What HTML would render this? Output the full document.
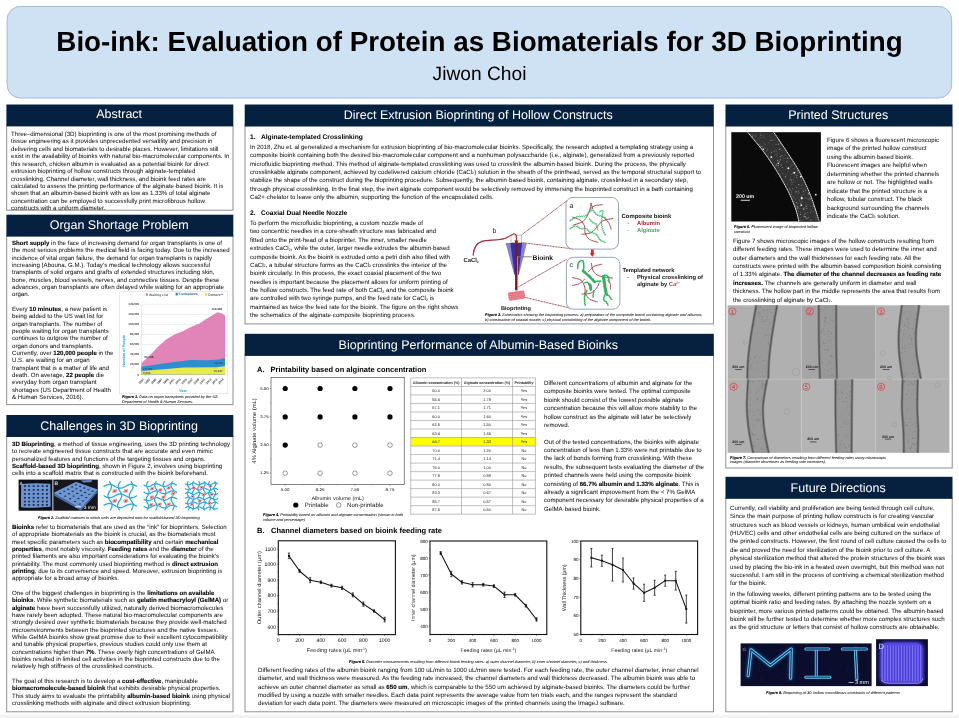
<!DOCTYPE html>
<html><head><meta charset="utf-8"><title>Bio-ink poster</title>
<style>
html,body{margin:0;padding:0;}
body{text-rendering:geometricPrecision;width:959px;height:718px;overflow:hidden;background:#fff;position:relative;font-family:"Liberation Sans",sans-serif;color:#000;}
.abs{position:absolute;}
.title{position:absolute;left:6.5px;top:5.5px;width:945px;height:92px;box-sizing:border-box;background:#cfe2f3;border:0.8px solid #8fa7c4;border-radius:15px;}
.hd{position:absolute;background:#06213f;color:#fff;text-align:center;font-size:12.5px;white-space:nowrap;}
.hd span{position:relative;}
.bx{position:absolute;background:#fff;box-sizing:border-box;border:0.8px solid #8a8a8a;border-top:none;overflow:hidden;}
.t{position:absolute;white-space:nowrap;font-size:6.12px;color:#141414;-webkit-text-stroke:0.03px #141414;}
.cap{position:absolute;white-space:nowrap;font-style:italic;color:#111;-webkit-text-stroke:0.04px #1a1a1a;}
.t,.cap,.hd,.abs{will-change:transform;}
b{font-weight:bold;color:#000;-webkit-text-stroke:0.1px #000;}
sub{font-size:60%;vertical-align:baseline;position:relative;top:0.15em;line-height:0;}
svg{position:absolute;overflow:visible;text-rendering:geometricPrecision;will-change:transform;}
</style></head><body>

<svg width="959" height="718" viewBox="0 0 959 718" style="left:0;top:0;"><rect x="0" y="713.2" width="959" height="5" fill="url(#bgr)"/><defs><linearGradient id="bgr" x1="0" y1="0" x2="0" y2="1"><stop offset="0" stop-color="#ffffff"/><stop offset="0.4" stop-color="#f6f6f6"/><stop offset="1" stop-color="#efefef"/></linearGradient></defs><rect x="7.1" y="6.4" width="944.6" height="91.6" rx="13.2" fill="#cfe2f3" stroke="#a3b8d6" stroke-width="1.0"/><rect x="6.7" y="125.4" width="226.30" height="84.80" fill="#fff" stroke="#8f8f8f" stroke-width="1.0"/><rect x="6.4" y="104.5" width="226.90" height="21.90" fill="#06213f"/><rect x="6.7" y="235.6" width="226.30" height="169.00" fill="#fff" stroke="#8f8f8f" stroke-width="1.0"/><rect x="6.4" y="214.7" width="226.90" height="21.90" fill="#06213f"/><rect x="6.7" y="436.0" width="226.30" height="275.80" fill="#fff" stroke="#8f8f8f" stroke-width="1.0"/><rect x="6.4" y="415.0" width="226.90" height="22.00" fill="#06213f"/><rect x="245.0" y="125.5" width="468.50" height="198.40" fill="#fff" stroke="#8f8f8f" stroke-width="1.0"/><rect x="244.7" y="104.5" width="469.10" height="22.00" fill="#06213f"/><rect x="245.0" y="354.9" width="468.50" height="356.90" fill="#fff" stroke="#8f8f8f" stroke-width="1.0"/><rect x="244.7" y="333.8" width="469.10" height="22.10" fill="#06213f"/><rect x="725.8" y="125.5" width="226.40" height="342.50" fill="#fff" stroke="#8f8f8f" stroke-width="1.0"/><rect x="725.5" y="104.5" width="227.00" height="22.00" fill="#06213f"/><rect x="725.8" y="497.8" width="226.40" height="214.00" fill="#fff" stroke="#8f8f8f" stroke-width="1.0"/><rect x="725.5" y="476.8" width="227.00" height="22.00" fill="#06213f"/></svg>
<div class="abs" style="left:-0.4px;width:959px;top:26.4px;text-align:center;font-weight:bold;font-size:27.8px;line-height:32px;white-space:nowrap;">Bio-ink: Evaluation of Protein as Biomaterials for 3D Bioprinting</div>
<div class="abs" style="left:0;width:959px;top:64px;text-align:center;font-size:19.2px;line-height:22px;white-space:nowrap;">Jiwon Choi</div>
<div class="hd" style="left:5.90px;top:104.40px;width:226.3px;height:21.9px;line-height:21.9px;background:none;">Abstract</div>
<div class="hd" style="left:5.90px;top:214.60px;width:226.3px;height:21.9px;line-height:21.9px;background:none;">Organ Shortage Problem</div>
<div class="hd" style="left:5.90px;top:414.90px;width:226.3px;height:22.0px;line-height:22.0px;background:none;">Challenges in 3D Bioprinting</div>
<div class="hd" style="left:244.20px;top:104.40px;width:468.5px;height:22.0px;line-height:22.0px;background:none;">Direct Extrusion Bioprinting of Hollow Constructs</div>
<div class="hd" style="left:244.20px;top:333.70px;width:468.5px;height:22.1px;line-height:22.1px;background:none;">Bioprinting Performance of Albumin-Based Bioinks</div>
<div class="hd" style="left:725.00px;top:104.40px;width:226.4px;height:22.0px;line-height:22.0px;background:none;">Printed Structures</div>
<div class="hd" style="left:725.00px;top:476.70px;width:226.4px;height:22.0px;line-height:22.0px;background:none;">Future Directions</div>
<div class="t" style="left:11.3px;top:130.64px;line-height:7.42px;font-size:6.12px;">Three–dimensional (3D) bioprinting is one of the most promising methods of<br>tissue engineering as it provides unprecedented versatility and precision in<br>delivering cells and biomaterials to desirable places. However, limitations still<br>exist in the availability of bioinks with natural bio-macromolecular components. In<br>this research, chicken albumin is evaluated as a potential bioink for direct<br>extrusion bioprinting of hollow constructs through alginate-templated<br>crosslinking. Channel diameter, wall thickness, and bioink feed rates are<br>calculated to assess the printing performance of the alginate-based bioink. It is<br>shown that an albumin-based bioink with as low as 1.33% of total alginate<br>concentration can be employed to successfully print microfibrous hollow<br>constructs with a uniform diameter.</div>
<div class="t" style="left:11.6px;top:239.59px;line-height:7.33px;font-size:6.12px;"><b>Short supply</b> in the face of increasing demand for organ transplants is one of<br>the most serious problems the medical field is facing today. Due to the increased<br>incidence of vital organ failure, the demand for organ transplants is rapidly<br>increasing (Abouna, G.M.). Today’s medical technology allows successful<br>transplants of solid organs and grafts of extended structures including skin,<br>bone, muscles, blood vessels, nerves, and connective tissues. Despite these<br>advances, organ transplants are often delayed while waiting for an appropriate<br>organ.<br><br>Every <b>10 minutes</b>, a new patient is<br>being added to the US wait list for<br>organ transplants. The number of<br>people waiting for organ transplants<br>continues to outgrow the number of<br>organ donors and transplants.<br>Currently, over <b>120,000 people</b> in the<br>U.S. are waiting for an organ<br>transplant that is a matter of life and<br>death. On average, <b>22 people</b> die<br>everyday from organ transplant<br>shortages (US Department of Health<br>&amp; Human Services, 2016).</div>
<div class="t" style="left:11.6px;top:440.70px;line-height:7.3px;font-size:6.12px;"><b>3D Bioprinting</b>, a method of tissue engineering, uses the 3D printing technology<br>to recreate engineered tissue constructs that are accurate and even mimic<br>personalized features and functions of the targeting tissues and organs.<br><b>Scaffold-based 3D bioprinting</b>, shown in Figure 2, involves using bioprinting<br>cells into a scaffold matrix that is constructed with the bioink beforehand.</div>
<div class="t" style="left:11.6px;top:523.69px;line-height:7.33px;font-size:6.12px;"><b>Bioinks</b> refer to biomaterials that are used as the “ink” for bioprinters. Selection<br>of appropriate biomaterials as the bioink is crucial, as the biomaterials must<br>meet specific parameters such as <b>biocompatibility</b> and certain <b>mechanical</b><br><b>properties</b>, most notably viscosity. <b>Feeding rates</b> and the <b>diameter</b> of the<br>printed filaments are also important considerations for evaluating the bioink’s<br>printability. The most commonly used bioprinting method is <b>direct extrusion</b><br><b>printing</b>, due to its convenience and speed. Moreover, extrusion bioprinting is<br>appropriate for a broad array of bioinks.<br><br>One of the biggest challenges in bioprinting is the <b>limitations on available</b><br><b>bioinks</b>. While synthetic biomaterials such as <b>gelatin methacryloyl (GelMA)</b> or<br><b>alginate</b> have been successfully utilized, naturally derived biomacromolecules<br>have rarely been adopted. These natural bio-macromolecular components are<br>strongly desired over synthetic biomaterials because they provide well-matched<br>microenvironments between the bioprinted structures and the native tissues.<br>While GelMA bioinks show great promise due to their excellent cytocompatibility<br>and tunable physical properties, previous studies could only use them at<br>concentrations higher than <b>7%</b>. These overly high concentrations of GelMA<br>bioinks resulted in limited cell activities in the bioprinted constructs due to the<br>relatively high stiffness of the crosslinked constructs.<br><br>The goal of this research is to develop a <b>cost-effective</b>, manipulable<br><b>biomacromolecule-based bioink</b> that exhibits desirable physical properties.<br>This study aims to evaluate the printability <b>albumin-based bioink</b> using physical<br>crosslinking methods with alginate and direct extrusion bioprinting.</div>
<div class="cap" style="left:38px;top:515px;font-size:3.9px;line-height:5px;"><b>Figure 2.</b> Scaffold matrices in which cells are deposited onto for scaffold-based 3D bioprinting</div>
<div class="t" style="left:250.3px;top:133.7px;line-height:8px;font-size:6.65px;font-weight:bold;color:#000;">1.<span style="display:inline-block;width:5.4px"></span>Alginate-templated Crosslinking</div>
<div class="t" style="left:250px;top:143.69px;line-height:8.32px;font-size:6.12px;">In 2018, Zhu et. al generalized a mechanism for extrusion bioprinting of bio-macromolecular bioinks. Specifically, the research adopted a templating strategy using a<br>composite bioink containing both the desired bio-macromolecular component and a nonhuman polysaccharide (i.e., alginate), generalized from a previously reported<br>microfluidic bioprinting method. This method of alginate-templated crosslinking was used to crosslink the albumin-based bioink. During the process, the physically<br>crosslinkable alginate component, achieved by codelivered calcium chloride (CaCl<sub>2</sub>) solution in the sheath of the printhead, served as the temporal structural support to<br>stabilize the shape of the construct during the bioprinting procedure. Subsequently, the albumin-based bioink, containing alginate, crosslinked in a secondary step,<br>through physical crosslinking. In the final step, the inert alginate component would be selectively removed by immersing the bioprinted construct in a bath containing<br>Ca2+-chelator to leave only the albumin, supporting the function of the encapsulated cells.</div>
<div class="t" style="left:250.3px;top:210.2px;line-height:8px;font-size:6.65px;font-weight:bold;color:#000;">2.<span style="display:inline-block;width:5.4px"></span>Coaxial Dual Needle Nozzle</div>
<div class="t" style="left:250px;top:219.56px;line-height:8.37px;font-size:6.12px;">To perform the microfluidic bioprinting, a custom nozzle made of<br>two concentric needles in a core-sheath structure was fabricated and<br>fitted onto the print-head of a bioprinter. The inner, smaller needle<br>extrudes CaCl<sub>2</sub>, while the outer, larger needle extrudes the albumin-based<br>composite bioink. As the bioink is extruded onto a petri dish also filled with<br>CaCl<sub>2</sub>, a tubular structure forms as the CaCl<sub>2</sub> crosslinks the interior of the<br>bioink circularly. In this process, the exact coaxial placement of the two<br>needles is important because the placement allows for uniform printing of<br>the hollow constructs. The feed rate of both CaCl<sub>2</sub> and the composite bioink<br>are controlled with two syringe pumps, and the feed rate for CaCl<sub>2</sub> is<br>maintained as twice the feed rate for the bioink. The figure on the right shows<br>the schematics of the alginate-composite bioprinting process.</div>
<div class="cap" style="left:484.5px;top:313.2px;font-size:3.9px;line-height:4.6px;"><b>Figure 3.</b> Schematics showing the bioprinting process: a) preparation of the composite bioink containing alginate and albumin;<br>b) construction of coaxial nozzle; c) physical crosslinking of the alginate component of the bioink.</div>
<div class="t" style="left:257px;top:365.1px;line-height:9px;font-size:7.5px;font-weight:bold;color:#000;">A.<span style="display:inline-block;width:6.0px"></span>Printability based on alginate concentration</div>
<div class="t" style="left:544px;top:379.76px;line-height:8.38px;font-size:6.12px;">Different concentrations of albumin and alginate for the<br>composite bioinks were tested. The optimal composite<br>bioink should consist of the lowest possible alginate<br>concentration because this will allow more stability to the<br>hollow construct as the alginate will later be selectively<br>removed.<br><br>Out of the tested concentrations, the bioinks with alginate<br>concentration of less than 1.33% were not printable due to<br>the lack of bonds forming from crosslinking. With these<br>results, the subsequent tests evaluating the diameter of the<br>printed channels were held using the composite bioink<br>consisting of <b>66.7% albumin and 1.33% alginate</b>. This is<br>already a significant improvement from the &lt; 7% GelMA<br>component necessary for desirable physical properties of a<br>GelMA-based bioink.</div>
<div class="cap" style="left:262.7px;top:512.5px;font-size:3.9px;line-height:4.8px;"><b>Figure 4.</b> Printability based on albumin and alginate concentration (shown in both<br>volume and percentage)</div>
<div class="t" style="left:257px;top:526.3px;line-height:9px;font-size:7.5px;font-weight:bold;color:#000;">B.<span style="display:inline-block;width:6.6px"></span>Channel diameters based on bioink feeding rate</div>
<div class="cap" style="left:349.2px;top:659.5px;font-size:3.9px;line-height:4.6px;"><b>Figure 5.</b> Diameter measurements resulting from different bioink feeding rates: a) outer channel diameter; b) inner channel diameter; c) wall thickness.</div>
<div class="t" style="left:258.3px;top:667.18px;line-height:8.34px;font-size:6.15px;">Different feeding rates of the albumin bioink ranging from 100 uL/min to 1000 uL/min were tested. For each feeding rate, the outer channel diameter, inner channel<br>diameter, and wall thickness were measured. As the feeding rate increased, the channel diameters and wall thickness decreased. The albumin bioink was able to<br>achieve an outer channel diameter as small as <b>650 um</b>, which is comparable to the 550 um achieved by alginate-based bioinks. The diameters could be further<br>modified by using a nozzle with smaller needles. Each data point represents the average value from ten trials each, and the ranges represent the standard<br>deviation for each data point. The diameters were measured on microscopic images of the printed channels using the ImageJ software.</div>
<div class="t" style="left:826.8px;top:136.93px;line-height:8.44px;font-size:6.12px;">Figure 6 shows a fluorescent microscopic<br>image of the printed hollow construct<br>using the albumin-based bioink.<br>Fluorescent images are helpful when<br>determining whether the printed channels<br>are hollow or not. The highlighted walls<br>indicate that the printed structure is a<br>hollow, tubular construct. The black<br>background surrounding the channels<br>indicate the CaCl<sub>2</sub> solution.</div>
<div class="cap" style="left:734px;top:224.8px;font-size:3.9px;line-height:4.6px;"><b>Figure 6.</b> Fluorescent image of bioprinted hollow<br>construct</div>
<div class="t" style="left:732.5px;top:238.17px;line-height:8.36px;font-size:6.12px;">Figure 7 shows microscopic images of the hollow constructs resulting from<br>different feeding rates. These images were used to determine the inner and<br>outer diameters and the wall thicknesses for each feeding rate. All the<br>constructs were printed with the albumin-based composition bioink consisting<br>of 1.33% alginate. <b>The diameter of the channel decreases as feeding rate</b><br><b>increases.</b> The channels are generally uniform in diameter and wall<br>thickness. The hollow part in the middle represents the area that results from<br>the crosslinking of alginate by CaCl<sub>2</sub>.</div>
<div class="cap" style="left:729.8px;top:456.4px;font-size:3.9px;line-height:4.1px;"><b>Figure 7.</b> Comparison of diameters resulting from different feeding rates using microscopic<br>images (diameter decreases as feeding rate increases).</div>
<div class="t" style="left:729.5px;top:504.97px;line-height:8.36px;font-size:6.12px;">Currently, cell viability and proliferation are being tested through cell culture.<br>Since the main purpose of printing hollow constructs is for creating vascular<br>structures such as blood vessels or kidneys, human umbilical vein endothelial<br>(HUVEC) cells and other endothelial cells are being cultured on the surface of<br>the printed constructs. However, the first round of cell culture caused the cells to<br>die and proved the need for sterilization of the bioink prior to cell culture. A<br>physical sterilization method that altered the protein structures of the bioink was<br>used by placing the bio-ink in a heated oven overnight, but this method was not<br>successful. I am still in the process of contriving a chemical sterilization method<br>for the bioink.</div>
<div class="t" style="left:729.5px;top:591.47px;line-height:8.36px;font-size:6.12px;">In the following weeks, different printing patterns are to be tested using the<br>optimal bioink ratio and feeding rates. By attaching the nozzle system on a<br>bioprinter, more various printed patterns could be obtained. The albumin-based<br>bioink will be further tested to determine whether more complex structures such<br>as the grid structure or letters that consist of hollow constructs are obtainable.</div>
<div class="cap" style="left:766px;top:690.7px;font-size:3.9px;line-height:4.6px;"><b>Figure 8.</b> Bioprinting of 3D hollow microfibrous constructs of different patterns</div>
<div class="cap" style="left:121.8px;top:394.4px;font-size:3.88px;line-height:5.0px;"><b>Figure 1.</b> Data on organ transplants provided by the US<br>Department of Health &amp; Human Services.</div>
<svg width="959" height="718" viewBox="0 0 959 718" style="left:0;top:0;">
<rect x="119.6" y="291.7" width="107.8" height="102.0" fill="#fff" stroke="#dcdcdc" stroke-width="0.6"/>
<line x1="141.4" y1="374.60" x2="225.0" y2="374.60" stroke="#d4d4d4" stroke-width="0.4"/>
<text x="139.20000000000002" y="375.50" font-size="3.0" font-weight="bold" text-anchor="end" fill="#333" font-family="Liberation Sans, sans-serif">0</text>
<line x1="141.4" y1="364.56" x2="225.0" y2="364.56" stroke="#d4d4d4" stroke-width="0.4"/>
<text x="139.20000000000002" y="365.46" font-size="3.0" font-weight="bold" text-anchor="end" fill="#333" font-family="Liberation Sans, sans-serif">20,000</text>
<line x1="141.4" y1="354.51" x2="225.0" y2="354.51" stroke="#d4d4d4" stroke-width="0.4"/>
<text x="139.20000000000002" y="355.41" font-size="3.0" font-weight="bold" text-anchor="end" fill="#333" font-family="Liberation Sans, sans-serif">40,000</text>
<line x1="141.4" y1="344.47" x2="225.0" y2="344.47" stroke="#d4d4d4" stroke-width="0.4"/>
<text x="139.20000000000002" y="345.37" font-size="3.0" font-weight="bold" text-anchor="end" fill="#333" font-family="Liberation Sans, sans-serif">60,000</text>
<line x1="141.4" y1="334.43" x2="225.0" y2="334.43" stroke="#d4d4d4" stroke-width="0.4"/>
<text x="139.20000000000002" y="335.33" font-size="3.0" font-weight="bold" text-anchor="end" fill="#333" font-family="Liberation Sans, sans-serif">80,000</text>
<line x1="141.4" y1="324.39" x2="225.0" y2="324.39" stroke="#d4d4d4" stroke-width="0.4"/>
<text x="139.20000000000002" y="325.29" font-size="3.0" font-weight="bold" text-anchor="end" fill="#333" font-family="Liberation Sans, sans-serif">100,000</text>
<line x1="141.4" y1="314.34" x2="225.0" y2="314.34" stroke="#d4d4d4" stroke-width="0.4"/>
<text x="139.20000000000002" y="315.24" font-size="3.0" font-weight="bold" text-anchor="end" fill="#333" font-family="Liberation Sans, sans-serif">120,000</text>
<line x1="141.4" y1="304.30" x2="225.0" y2="304.30" stroke="#d4d4d4" stroke-width="0.4"/>
<text x="139.20000000000002" y="305.20" font-size="3.0" font-weight="bold" text-anchor="end" fill="#333" font-family="Liberation Sans, sans-serif">140,000</text>
<line x1="141.4" y1="304.3" x2="141.4" y2="374.6" stroke="#c8c8c8" stroke-width="0.4"/>
<path d="M141.4,374.6 L141.40,362.95 L149.34,356.02 L157.70,346.98 L166.06,339.45 L174.42,334.43 L182.61,331.16 L190.89,326.90 L199.08,323.63 L205.77,319.36 L212.46,315.35 L217.48,312.33 L220.82,313.09 L225.00,315.60 L225.0,374.6 Z" fill="#e184b7"/>
<path d="M141.4,374.6 L141.40,366.69 L158.12,364.31 L174.84,362.05 L190.72,360.04 L208.28,360.14 L219.15,359.54 L225.00,357.78 L225.0,374.6 Z" fill="#2c8fd1"/>
<path d="M141.4,374.6 L141.40,371.11 L166.48,369.08 L183.20,367.57 L216.64,367.32 L225.00,366.21 L225.0,374.6 Z" fill="#e6e94f"/>
<text x="144.2" y="357.6" font-size="3.0" font-weight="bold" fill="#333" font-family="Liberation Sans, sans-serif">23,198</text>
<text x="143" y="369.6" font-size="3.0" font-weight="bold" fill="#1d4f80" font-family="Liberation Sans, sans-serif">15,756</text>
<text x="143" y="373.8" font-size="3.0" font-weight="bold" fill="#555" font-family="Liberation Sans, sans-serif">6,953</text>
<text x="211.6" y="309.9" font-size="3.0" font-weight="bold" fill="#333" font-family="Liberation Sans, sans-serif">119,362</text>
<text x="214" y="364" font-size="3.0" font-weight="bold" fill="#1d4f80" font-family="Liberation Sans, sans-serif">29,532</text>
<text x="213.6" y="371.8" font-size="3.0" font-weight="bold" fill="#555" font-family="Liberation Sans, sans-serif">15,947</text>
<rect x="145.7" y="293.1" width="2.2" height="2.8" fill="#e184b7"/>
<text x="149.1" y="295.7" font-size="3.4" font-weight="bold" fill="#666" font-family="Liberation Sans, sans-serif">Waiting List</text>
<rect x="175.6" y="292.7" width="2.2" height="2.8" fill="#2c8fd1"/>
<text x="178.6" y="295.3" font-size="3.4" font-weight="bold" fill="#2a6aa0" font-family="Liberation Sans, sans-serif">Transplants</text>
<rect x="204.9" y="292.9" width="2.2" height="2.9" fill="#dfe645"/>
<text x="208.2" y="295.7" font-size="3.5" font-weight="bold" fill="#666" font-family="Liberation Sans, sans-serif">Donors**</text>
<text transform="translate(124.6,351) rotate(-90)" font-size="3.7" font-weight="bold" fill="#2c9ad6" text-anchor="middle" font-family="Liberation Sans, sans-serif">Number of People</text>
<text x="183" y="391.7" font-size="3.7" font-weight="bold" fill="#2c9ad6" text-anchor="middle" font-family="Liberation Sans, sans-serif">Year</text>
<text transform="translate(144.30,379.40000000000003) rotate(-48)" font-size="3.1" font-weight="bold" text-anchor="end" fill="#4a4a4a" font-family="Liberation Sans, sans-serif">1991</text>
<text transform="translate(150.42,379.40000000000003) rotate(-48)" font-size="3.1" font-weight="bold" text-anchor="end" fill="#4a4a4a" font-family="Liberation Sans, sans-serif">1993</text>
<text transform="translate(156.55,379.40000000000003) rotate(-48)" font-size="3.1" font-weight="bold" text-anchor="end" fill="#4a4a4a" font-family="Liberation Sans, sans-serif">1995</text>
<text transform="translate(162.67,379.40000000000003) rotate(-48)" font-size="3.1" font-weight="bold" text-anchor="end" fill="#4a4a4a" font-family="Liberation Sans, sans-serif">1997</text>
<text transform="translate(168.79,379.40000000000003) rotate(-48)" font-size="3.1" font-weight="bold" text-anchor="end" fill="#4a4a4a" font-family="Liberation Sans, sans-serif">1999</text>
<text transform="translate(174.92,379.40000000000003) rotate(-48)" font-size="3.1" font-weight="bold" text-anchor="end" fill="#4a4a4a" font-family="Liberation Sans, sans-serif">2001</text>
<text transform="translate(181.04,379.40000000000003) rotate(-48)" font-size="3.1" font-weight="bold" text-anchor="end" fill="#4a4a4a" font-family="Liberation Sans, sans-serif">2003</text>
<text transform="translate(187.16,379.40000000000003) rotate(-48)" font-size="3.1" font-weight="bold" text-anchor="end" fill="#4a4a4a" font-family="Liberation Sans, sans-serif">2005</text>
<text transform="translate(193.28,379.40000000000003) rotate(-48)" font-size="3.1" font-weight="bold" text-anchor="end" fill="#4a4a4a" font-family="Liberation Sans, sans-serif">2007</text>
<text transform="translate(199.41,379.40000000000003) rotate(-48)" font-size="3.1" font-weight="bold" text-anchor="end" fill="#4a4a4a" font-family="Liberation Sans, sans-serif">2009</text>
<text transform="translate(205.53,379.40000000000003) rotate(-48)" font-size="3.1" font-weight="bold" text-anchor="end" fill="#4a4a4a" font-family="Liberation Sans, sans-serif">2011</text>
<text transform="translate(211.65,379.40000000000003) rotate(-48)" font-size="3.1" font-weight="bold" text-anchor="end" fill="#4a4a4a" font-family="Liberation Sans, sans-serif">2013</text>
<text transform="translate(217.78,379.40000000000003) rotate(-48)" font-size="3.1" font-weight="bold" text-anchor="end" fill="#4a4a4a" font-family="Liberation Sans, sans-serif">2013</text>
<text transform="translate(223.90,379.40000000000003) rotate(-48)" font-size="3.1" font-weight="bold" text-anchor="end" fill="#4a4a4a" font-family="Liberation Sans, sans-serif">2014</text>
<rect x="271.0" y="377.4" width="133.2" height="107.2" fill="#fff" stroke="#222" stroke-width="0.55"/>
<line x1="269.7" y1="388.5" x2="271.0" y2="388.5" stroke="#222" stroke-width="0.4"/>
<text x="268.8" y="389.6" font-size="3.8" textLength="8.6" lengthAdjust="spacingAndGlyphs" text-anchor="end" fill="#000" font-family="Liberation Sans, sans-serif">5.00</text>
<line x1="269.7" y1="416.9" x2="271.0" y2="416.9" stroke="#222" stroke-width="0.4"/>
<text x="268.8" y="418.0" font-size="3.8" textLength="8.6" lengthAdjust="spacingAndGlyphs" text-anchor="end" fill="#000" font-family="Liberation Sans, sans-serif">3.75</text>
<line x1="269.7" y1="445.1" x2="271.0" y2="445.1" stroke="#222" stroke-width="0.4"/>
<text x="268.8" y="446.20000000000005" font-size="3.8" textLength="8.6" lengthAdjust="spacingAndGlyphs" text-anchor="end" fill="#000" font-family="Liberation Sans, sans-serif">2.50</text>
<line x1="269.7" y1="473.2" x2="271.0" y2="473.2" stroke="#222" stroke-width="0.4"/>
<text x="268.8" y="474.3" font-size="3.8" textLength="8.6" lengthAdjust="spacingAndGlyphs" text-anchor="end" fill="#000" font-family="Liberation Sans, sans-serif">1.25</text>
<line x1="270.2" y1="402.7" x2="271.0" y2="402.7" stroke="#222" stroke-width="0.35"/>
<line x1="270.2" y1="431.0" x2="271.0" y2="431.0" stroke="#222" stroke-width="0.35"/>
<line x1="270.2" y1="459.15" x2="271.0" y2="459.15" stroke="#222" stroke-width="0.35"/>
<line x1="285.2" y1="484.6" x2="285.2" y2="485.90000000000003" stroke="#222" stroke-width="0.4"/>
<text x="285.2" y="491.0" font-size="3.8" textLength="8.8" lengthAdjust="spacingAndGlyphs" text-anchor="middle" fill="#000" font-family="Liberation Sans, sans-serif">5.00</text>
<line x1="320.1" y1="484.6" x2="320.1" y2="485.90000000000003" stroke="#222" stroke-width="0.4"/>
<text x="320.1" y="491.0" font-size="3.8" textLength="8.8" lengthAdjust="spacingAndGlyphs" text-anchor="middle" fill="#000" font-family="Liberation Sans, sans-serif">6.25</text>
<line x1="354.9" y1="484.6" x2="354.9" y2="485.90000000000003" stroke="#222" stroke-width="0.4"/>
<text x="354.9" y="491.0" font-size="3.8" textLength="8.8" lengthAdjust="spacingAndGlyphs" text-anchor="middle" fill="#000" font-family="Liberation Sans, sans-serif">7.50</text>
<line x1="390.0" y1="484.6" x2="390.0" y2="485.90000000000003" stroke="#222" stroke-width="0.4"/>
<text x="390.0" y="491.0" font-size="3.8" textLength="8.8" lengthAdjust="spacingAndGlyphs" text-anchor="middle" fill="#000" font-family="Liberation Sans, sans-serif">8.75</text>
<line x1="302.65" y1="484.6" x2="302.65" y2="485.40000000000003" stroke="#222" stroke-width="0.35"/>
<line x1="337.5" y1="484.6" x2="337.5" y2="485.40000000000003" stroke="#222" stroke-width="0.35"/>
<line x1="372.45" y1="484.6" x2="372.45" y2="485.40000000000003" stroke="#222" stroke-width="0.35"/>
<circle cx="285.2" cy="388.5" r="2.6" fill="#000"/>
<circle cx="320.1" cy="388.5" r="2.6" fill="#000"/>
<circle cx="354.9" cy="388.5" r="2.6" fill="#000"/>
<circle cx="390.0" cy="388.5" r="2.6" fill="#000"/>
<circle cx="285.2" cy="416.9" r="2.6" fill="#000"/>
<circle cx="320.1" cy="416.9" r="2.6" fill="#000"/>
<circle cx="354.9" cy="416.9" r="2.6" fill="#000"/>
<circle cx="390.0" cy="416.9" r="2.6" fill="#000"/>
<circle cx="285.2" cy="445.1" r="2.6" fill="#000"/>
<circle cx="320.1" cy="445.1" r="2.3" fill="#fff" stroke="#333" stroke-width="0.5"/>
<circle cx="354.9" cy="445.1" r="2.3" fill="#fff" stroke="#333" stroke-width="0.5"/>
<circle cx="390.0" cy="445.1" r="2.3" fill="#fff" stroke="#333" stroke-width="0.5"/>
<circle cx="285.2" cy="473.2" r="2.3" fill="#fff" stroke="#333" stroke-width="0.5"/>
<circle cx="320.1" cy="473.2" r="2.3" fill="#fff" stroke="#333" stroke-width="0.5"/>
<circle cx="354.9" cy="473.2" r="2.3" fill="#fff" stroke="#333" stroke-width="0.5"/>
<circle cx="390.0" cy="473.2" r="2.3" fill="#fff" stroke="#333" stroke-width="0.5"/>
<text x="337.6" y="500.2" font-size="5.2" textLength="52.4" lengthAdjust="spacingAndGlyphs" text-anchor="middle" fill="#222" font-family="Liberation Sans, sans-serif">Albumin volume (mL)</text>
<text transform="translate(256.4,430.9) rotate(-90)" font-size="5.4" textLength="65.5" lengthAdjust="spacingAndGlyphs" text-anchor="middle" fill="#222" font-family="Liberation Sans, sans-serif">4% Alginate volume (mL)</text>
<circle cx="295.8" cy="505" r="2.6" fill="#000"/>
<text x="304.7" y="506.9" font-size="6.1" fill="#222" font-family="Liberation Sans, sans-serif">Printable</text>
<circle cx="338.7" cy="505" r="2.3" fill="#fff" stroke="#333" stroke-width="0.5"/>
<text x="347" y="506.9" font-size="6.1" fill="#222" font-family="Liberation Sans, sans-serif">Non-printable</text>
<rect x="410.7" y="377.9" width="124.7" height="136.3" fill="#fff"/>
<rect x="410.7" y="437.53" width="124.7" height="8.52" fill="#ffff00"/>
<line x1="410.7" y1="377.90" x2="535.4" y2="377.90" stroke="#8c8c8c" stroke-width="0.55"/>
<line x1="410.7" y1="386.42" x2="535.4" y2="386.42" stroke="#8c8c8c" stroke-width="0.55"/>
<line x1="410.7" y1="394.94" x2="535.4" y2="394.94" stroke="#8c8c8c" stroke-width="0.55"/>
<line x1="410.7" y1="403.46" x2="535.4" y2="403.46" stroke="#8c8c8c" stroke-width="0.55"/>
<line x1="410.7" y1="411.98" x2="535.4" y2="411.98" stroke="#8c8c8c" stroke-width="0.55"/>
<line x1="410.7" y1="420.49" x2="535.4" y2="420.49" stroke="#8c8c8c" stroke-width="0.55"/>
<line x1="410.7" y1="429.01" x2="535.4" y2="429.01" stroke="#8c8c8c" stroke-width="0.55"/>
<line x1="410.7" y1="437.53" x2="535.4" y2="437.53" stroke="#8c8c8c" stroke-width="0.55"/>
<line x1="410.7" y1="446.05" x2="535.4" y2="446.05" stroke="#8c8c8c" stroke-width="0.55"/>
<line x1="410.7" y1="454.57" x2="535.4" y2="454.57" stroke="#8c8c8c" stroke-width="0.55"/>
<line x1="410.7" y1="463.09" x2="535.4" y2="463.09" stroke="#8c8c8c" stroke-width="0.55"/>
<line x1="410.7" y1="471.61" x2="535.4" y2="471.61" stroke="#8c8c8c" stroke-width="0.55"/>
<line x1="410.7" y1="480.12" x2="535.4" y2="480.12" stroke="#8c8c8c" stroke-width="0.55"/>
<line x1="410.7" y1="488.64" x2="535.4" y2="488.64" stroke="#8c8c8c" stroke-width="0.55"/>
<line x1="410.7" y1="497.16" x2="535.4" y2="497.16" stroke="#8c8c8c" stroke-width="0.55"/>
<line x1="410.7" y1="505.68" x2="535.4" y2="505.68" stroke="#8c8c8c" stroke-width="0.55"/>
<line x1="410.7" y1="514.20" x2="535.4" y2="514.20" stroke="#8c8c8c" stroke-width="0.55"/>
<line x1="410.7" y1="377.9" x2="410.7" y2="514.2" stroke="#8c8c8c" stroke-width="0.55"/>
<line x1="461.5" y1="377.9" x2="461.5" y2="514.2" stroke="#8c8c8c" stroke-width="0.55"/>
<line x1="512.6" y1="377.9" x2="512.6" y2="514.2" stroke="#8c8c8c" stroke-width="0.55"/>
<line x1="535.4" y1="377.9" x2="535.4" y2="514.2" stroke="#8c8c8c" stroke-width="0.55"/>
<text x="436.10" y="383.51" font-size="3.68" font-weight="bold" text-anchor="middle" fill="#222" font-family="Liberation Sans, sans-serif">Albumin concentration (%)</text>
<text x="487.05" y="383.51" font-size="3.68" font-weight="bold" text-anchor="middle" fill="#222" font-family="Liberation Sans, sans-serif">Alginate concentration (%)</text>
<text x="524.00" y="383.51" font-size="3.68" font-weight="bold" text-anchor="middle" fill="#222" font-family="Liberation Sans, sans-serif">Printability</text>
<text x="436.10" y="392.03" font-size="3.9" font-weight="normal" text-anchor="middle" fill="#222" font-family="Liberation Sans, sans-serif">50.0</text>
<text x="487.05" y="392.03" font-size="3.9" font-weight="normal" text-anchor="middle" fill="#222" font-family="Liberation Sans, sans-serif">2.00</text>
<text x="524.00" y="392.03" font-size="3.9" font-weight="normal" text-anchor="middle" fill="#222" font-family="Liberation Sans, sans-serif">Yes</text>
<text x="436.10" y="400.55" font-size="3.9" font-weight="normal" text-anchor="middle" fill="#222" font-family="Liberation Sans, sans-serif">55.6</text>
<text x="487.05" y="400.55" font-size="3.9" font-weight="normal" text-anchor="middle" fill="#222" font-family="Liberation Sans, sans-serif">1.78</text>
<text x="524.00" y="400.55" font-size="3.9" font-weight="normal" text-anchor="middle" fill="#222" font-family="Liberation Sans, sans-serif">Yes</text>
<text x="436.10" y="409.07" font-size="3.9" font-weight="normal" text-anchor="middle" fill="#222" font-family="Liberation Sans, sans-serif">57.1</text>
<text x="487.05" y="409.07" font-size="3.9" font-weight="normal" text-anchor="middle" fill="#222" font-family="Liberation Sans, sans-serif">1.71</text>
<text x="524.00" y="409.07" font-size="3.9" font-weight="normal" text-anchor="middle" fill="#222" font-family="Liberation Sans, sans-serif">Yes</text>
<text x="436.10" y="417.58" font-size="3.9" font-weight="normal" text-anchor="middle" fill="#222" font-family="Liberation Sans, sans-serif">60.0</text>
<text x="487.05" y="417.58" font-size="3.9" font-weight="normal" text-anchor="middle" fill="#222" font-family="Liberation Sans, sans-serif">1.60</text>
<text x="524.00" y="417.58" font-size="3.9" font-weight="normal" text-anchor="middle" fill="#222" font-family="Liberation Sans, sans-serif">Yes</text>
<text x="436.10" y="426.10" font-size="3.9" font-weight="normal" text-anchor="middle" fill="#222" font-family="Liberation Sans, sans-serif">62.5</text>
<text x="487.05" y="426.10" font-size="3.9" font-weight="normal" text-anchor="middle" fill="#222" font-family="Liberation Sans, sans-serif">1.50</text>
<text x="524.00" y="426.10" font-size="3.9" font-weight="normal" text-anchor="middle" fill="#222" font-family="Liberation Sans, sans-serif">Yes</text>
<text x="436.10" y="434.62" font-size="3.9" font-weight="normal" text-anchor="middle" fill="#222" font-family="Liberation Sans, sans-serif">63.6</text>
<text x="487.05" y="434.62" font-size="3.9" font-weight="normal" text-anchor="middle" fill="#222" font-family="Liberation Sans, sans-serif">1.45</text>
<text x="524.00" y="434.62" font-size="3.9" font-weight="normal" text-anchor="middle" fill="#222" font-family="Liberation Sans, sans-serif">Yes</text>
<text x="436.10" y="443.14" font-size="3.9" font-weight="normal" text-anchor="middle" fill="#222" font-family="Liberation Sans, sans-serif">66.7</text>
<text x="487.05" y="443.14" font-size="3.9" font-weight="normal" text-anchor="middle" fill="#222" font-family="Liberation Sans, sans-serif">1.33</text>
<text x="524.00" y="443.14" font-size="3.9" font-weight="normal" text-anchor="middle" fill="#222" font-family="Liberation Sans, sans-serif">Yes</text>
<text x="436.10" y="451.66" font-size="3.9" font-weight="normal" text-anchor="middle" fill="#222" font-family="Liberation Sans, sans-serif">70.0</text>
<text x="487.05" y="451.66" font-size="3.9" font-weight="normal" text-anchor="middle" fill="#222" font-family="Liberation Sans, sans-serif">1.20</text>
<text x="524.00" y="451.66" font-size="3.9" font-weight="normal" text-anchor="middle" fill="#222" font-family="Liberation Sans, sans-serif">No</text>
<text x="436.10" y="460.18" font-size="3.9" font-weight="normal" text-anchor="middle" fill="#222" font-family="Liberation Sans, sans-serif">71.4</text>
<text x="487.05" y="460.18" font-size="3.9" font-weight="normal" text-anchor="middle" fill="#222" font-family="Liberation Sans, sans-serif">1.14</text>
<text x="524.00" y="460.18" font-size="3.9" font-weight="normal" text-anchor="middle" fill="#222" font-family="Liberation Sans, sans-serif">No</text>
<text x="436.10" y="468.70" font-size="3.9" font-weight="normal" text-anchor="middle" fill="#222" font-family="Liberation Sans, sans-serif">75.0</text>
<text x="487.05" y="468.70" font-size="3.9" font-weight="normal" text-anchor="middle" fill="#222" font-family="Liberation Sans, sans-serif">1.00</text>
<text x="524.00" y="468.70" font-size="3.9" font-weight="normal" text-anchor="middle" fill="#222" font-family="Liberation Sans, sans-serif">No</text>
<text x="436.10" y="477.22" font-size="3.9" font-weight="normal" text-anchor="middle" fill="#222" font-family="Liberation Sans, sans-serif">77.8</text>
<text x="487.05" y="477.22" font-size="3.9" font-weight="normal" text-anchor="middle" fill="#222" font-family="Liberation Sans, sans-serif">0.89</text>
<text x="524.00" y="477.22" font-size="3.9" font-weight="normal" text-anchor="middle" fill="#222" font-family="Liberation Sans, sans-serif">No</text>
<text x="436.10" y="485.73" font-size="3.9" font-weight="normal" text-anchor="middle" fill="#222" font-family="Liberation Sans, sans-serif">80.0</text>
<text x="487.05" y="485.73" font-size="3.9" font-weight="normal" text-anchor="middle" fill="#222" font-family="Liberation Sans, sans-serif">0.80</text>
<text x="524.00" y="485.73" font-size="3.9" font-weight="normal" text-anchor="middle" fill="#222" font-family="Liberation Sans, sans-serif">No</text>
<text x="436.10" y="494.25" font-size="3.9" font-weight="normal" text-anchor="middle" fill="#222" font-family="Liberation Sans, sans-serif">83.3</text>
<text x="487.05" y="494.25" font-size="3.9" font-weight="normal" text-anchor="middle" fill="#222" font-family="Liberation Sans, sans-serif">0.67</text>
<text x="524.00" y="494.25" font-size="3.9" font-weight="normal" text-anchor="middle" fill="#222" font-family="Liberation Sans, sans-serif">No</text>
<text x="436.10" y="502.77" font-size="3.9" font-weight="normal" text-anchor="middle" fill="#222" font-family="Liberation Sans, sans-serif">85.7</text>
<text x="487.05" y="502.77" font-size="3.9" font-weight="normal" text-anchor="middle" fill="#222" font-family="Liberation Sans, sans-serif">0.57</text>
<text x="524.00" y="502.77" font-size="3.9" font-weight="normal" text-anchor="middle" fill="#222" font-family="Liberation Sans, sans-serif">No</text>
<text x="436.10" y="511.29" font-size="3.9" font-weight="normal" text-anchor="middle" fill="#222" font-family="Liberation Sans, sans-serif">87.5</text>
<text x="487.05" y="511.29" font-size="3.9" font-weight="normal" text-anchor="middle" fill="#222" font-family="Liberation Sans, sans-serif">0.50</text>
<text x="524.00" y="511.29" font-size="3.9" font-weight="normal" text-anchor="middle" fill="#222" font-family="Liberation Sans, sans-serif">No</text>
<rect x="278.3" y="540.8" width="117.1" height="93.8" fill="#fff" stroke="#111" stroke-width="1.1"/>
<line x1="278.30" y1="634.6" x2="278.30" y2="636.0" stroke="#111" stroke-width="0.45"/>
<text x="278.30" y="642.1" font-size="5.2" text-anchor="middle" fill="#000" font-family="Liberation Sans, sans-serif">0</text>
<line x1="299.57" y1="634.6" x2="299.57" y2="636.0" stroke="#111" stroke-width="0.45"/>
<text x="299.57" y="642.1" font-size="5.2" text-anchor="middle" fill="#000" font-family="Liberation Sans, sans-serif">200</text>
<line x1="320.84" y1="634.6" x2="320.84" y2="636.0" stroke="#111" stroke-width="0.45"/>
<text x="320.84" y="642.1" font-size="5.2" text-anchor="middle" fill="#000" font-family="Liberation Sans, sans-serif">400</text>
<line x1="342.11" y1="634.6" x2="342.11" y2="636.0" stroke="#111" stroke-width="0.45"/>
<text x="342.11" y="642.1" font-size="5.2" text-anchor="middle" fill="#000" font-family="Liberation Sans, sans-serif">600</text>
<line x1="363.38" y1="634.6" x2="363.38" y2="636.0" stroke="#111" stroke-width="0.45"/>
<text x="363.38" y="642.1" font-size="5.2" text-anchor="middle" fill="#000" font-family="Liberation Sans, sans-serif">800</text>
<line x1="384.65" y1="634.6" x2="384.65" y2="636.0" stroke="#111" stroke-width="0.45"/>
<text x="384.65" y="642.1" font-size="5.2" text-anchor="middle" fill="#000" font-family="Liberation Sans, sans-serif">1000</text>
<line x1="288.94" y1="634.6" x2="288.94" y2="635.4" stroke="#111" stroke-width="0.4"/>
<line x1="310.21" y1="634.6" x2="310.21" y2="635.4" stroke="#111" stroke-width="0.4"/>
<line x1="331.48" y1="634.6" x2="331.48" y2="635.4" stroke="#111" stroke-width="0.4"/>
<line x1="352.75" y1="634.6" x2="352.75" y2="635.4" stroke="#111" stroke-width="0.4"/>
<line x1="374.01" y1="634.6" x2="374.01" y2="635.4" stroke="#111" stroke-width="0.4"/>
<line x1="276.90000000000003" y1="626.90" x2="278.3" y2="626.90" stroke="#111" stroke-width="0.45"/>
<text x="276.1" y="628.72" font-size="5.2" text-anchor="end" fill="#000" font-family="Liberation Sans, sans-serif">600</text>
<line x1="276.90000000000003" y1="611.28" x2="278.3" y2="611.28" stroke="#111" stroke-width="0.45"/>
<text x="276.1" y="613.10" font-size="5.2" text-anchor="end" fill="#000" font-family="Liberation Sans, sans-serif">700</text>
<line x1="277.5" y1="619.09" x2="278.3" y2="619.09" stroke="#111" stroke-width="0.4"/>
<line x1="276.90000000000003" y1="595.66" x2="278.3" y2="595.66" stroke="#111" stroke-width="0.45"/>
<text x="276.1" y="597.48" font-size="5.2" text-anchor="end" fill="#000" font-family="Liberation Sans, sans-serif">800</text>
<line x1="277.5" y1="603.47" x2="278.3" y2="603.47" stroke="#111" stroke-width="0.4"/>
<line x1="276.90000000000003" y1="580.04" x2="278.3" y2="580.04" stroke="#111" stroke-width="0.45"/>
<text x="276.1" y="581.86" font-size="5.2" text-anchor="end" fill="#000" font-family="Liberation Sans, sans-serif">900</text>
<line x1="277.5" y1="587.85" x2="278.3" y2="587.85" stroke="#111" stroke-width="0.4"/>
<line x1="276.90000000000003" y1="564.42" x2="278.3" y2="564.42" stroke="#111" stroke-width="0.45"/>
<text x="276.1" y="566.24" font-size="5.2" text-anchor="end" fill="#000" font-family="Liberation Sans, sans-serif">1000</text>
<line x1="277.5" y1="572.23" x2="278.3" y2="572.23" stroke="#111" stroke-width="0.4"/>
<line x1="276.90000000000003" y1="548.80" x2="278.3" y2="548.80" stroke="#111" stroke-width="0.45"/>
<text x="276.1" y="550.62" font-size="5.2" text-anchor="end" fill="#000" font-family="Liberation Sans, sans-serif">1100</text>
<line x1="277.5" y1="556.61" x2="278.3" y2="556.61" stroke="#111" stroke-width="0.4"/>
<polyline points="288.94,555.83 299.57,570.98 310.21,580.20 320.84,582.23 331.48,585.66 342.11,587.85 352.75,594.88 363.38,604.09 374.01,610.97 384.65,619.56" fill="none" stroke="#111" stroke-width="1.05" stroke-linejoin="round"/>
<line x1="288.94" y1="553.02" x2="288.94" y2="558.64" stroke="#111" stroke-width="0.8"/>
<line x1="287.83" y1="553.02" x2="290.04" y2="553.02" stroke="#111" stroke-width="0.7"/>
<line x1="287.83" y1="558.64" x2="290.04" y2="558.64" stroke="#111" stroke-width="0.7"/>
<rect x="287.99" y="554.88" width="1.9" height="1.9" fill="#111"/>
<line x1="299.57" y1="569.42" x2="299.57" y2="572.54" stroke="#111" stroke-width="0.8"/>
<line x1="298.47" y1="569.42" x2="300.67" y2="569.42" stroke="#111" stroke-width="0.7"/>
<line x1="298.47" y1="572.54" x2="300.67" y2="572.54" stroke="#111" stroke-width="0.7"/>
<rect x="298.62" y="570.03" width="1.9" height="1.9" fill="#111"/>
<line x1="310.21" y1="577.70" x2="310.21" y2="582.70" stroke="#111" stroke-width="0.8"/>
<line x1="309.11" y1="577.70" x2="311.31" y2="577.70" stroke="#111" stroke-width="0.7"/>
<line x1="309.11" y1="582.70" x2="311.31" y2="582.70" stroke="#111" stroke-width="0.7"/>
<rect x="309.26" y="579.25" width="1.9" height="1.9" fill="#111"/>
<line x1="320.84" y1="580.98" x2="320.84" y2="583.48" stroke="#111" stroke-width="0.8"/>
<line x1="319.74" y1="580.98" x2="321.94" y2="580.98" stroke="#111" stroke-width="0.7"/>
<line x1="319.74" y1="583.48" x2="321.94" y2="583.48" stroke="#111" stroke-width="0.7"/>
<rect x="319.89" y="581.28" width="1.9" height="1.9" fill="#111"/>
<line x1="331.48" y1="584.26" x2="331.48" y2="587.07" stroke="#111" stroke-width="0.8"/>
<line x1="330.38" y1="584.26" x2="332.58" y2="584.26" stroke="#111" stroke-width="0.7"/>
<line x1="330.38" y1="587.07" x2="332.58" y2="587.07" stroke="#111" stroke-width="0.7"/>
<rect x="330.53" y="584.71" width="1.9" height="1.9" fill="#111"/>
<line x1="342.11" y1="586.13" x2="342.11" y2="589.57" stroke="#111" stroke-width="0.8"/>
<line x1="341.01" y1="586.13" x2="343.21" y2="586.13" stroke="#111" stroke-width="0.7"/>
<line x1="341.01" y1="589.57" x2="343.21" y2="589.57" stroke="#111" stroke-width="0.7"/>
<rect x="341.16" y="586.90" width="1.9" height="1.9" fill="#111"/>
<line x1="352.75" y1="592.85" x2="352.75" y2="596.91" stroke="#111" stroke-width="0.8"/>
<line x1="351.64" y1="592.85" x2="353.85" y2="592.85" stroke="#111" stroke-width="0.7"/>
<line x1="351.64" y1="596.91" x2="353.85" y2="596.91" stroke="#111" stroke-width="0.7"/>
<rect x="351.80" y="593.93" width="1.9" height="1.9" fill="#111"/>
<line x1="363.38" y1="601.91" x2="363.38" y2="606.28" stroke="#111" stroke-width="0.8"/>
<line x1="362.28" y1="601.91" x2="364.48" y2="601.91" stroke="#111" stroke-width="0.7"/>
<line x1="362.28" y1="606.28" x2="364.48" y2="606.28" stroke="#111" stroke-width="0.7"/>
<rect x="362.43" y="603.14" width="1.9" height="1.9" fill="#111"/>
<line x1="374.01" y1="609.72" x2="374.01" y2="612.22" stroke="#111" stroke-width="0.8"/>
<line x1="372.91" y1="609.72" x2="375.12" y2="609.72" stroke="#111" stroke-width="0.7"/>
<line x1="372.91" y1="612.22" x2="375.12" y2="612.22" stroke="#111" stroke-width="0.7"/>
<rect x="373.06" y="610.02" width="1.9" height="1.9" fill="#111"/>
<line x1="384.65" y1="617.22" x2="384.65" y2="621.90" stroke="#111" stroke-width="0.8"/>
<line x1="383.55" y1="617.22" x2="385.75" y2="617.22" stroke="#111" stroke-width="0.7"/>
<line x1="383.55" y1="621.90" x2="385.75" y2="621.90" stroke="#111" stroke-width="0.7"/>
<rect x="383.70" y="618.61" width="1.9" height="1.9" fill="#111"/>
<text x="336.85" y="651.60" font-size="5.7" text-anchor="middle" fill="#222" font-family="Liberation Sans, sans-serif">Feeding rates (µL min<tspan font-size="3.5" dy="-2.0">-1</tspan><tspan dy="2.0">)</tspan></text>
<text transform="translate(260.8,587.70) rotate(-90)" font-size="5.3" textLength="73" lengthAdjust="spacingAndGlyphs" text-anchor="middle" fill="#222" font-family="Liberation Sans, sans-serif">Outer channel diameter (µm)</text>
<rect x="430.0" y="541.0" width="116.8" height="93.5" fill="#fff" stroke="#111" stroke-width="1.1"/>
<line x1="430.00" y1="634.5" x2="430.00" y2="635.9" stroke="#111" stroke-width="0.45"/>
<text x="430.00" y="642.0" font-size="4.5" text-anchor="middle" fill="#000" font-family="Liberation Sans, sans-serif">0</text>
<line x1="451.30" y1="634.5" x2="451.30" y2="635.9" stroke="#111" stroke-width="0.45"/>
<text x="451.30" y="642.0" font-size="4.5" text-anchor="middle" fill="#000" font-family="Liberation Sans, sans-serif">200</text>
<line x1="472.60" y1="634.5" x2="472.60" y2="635.9" stroke="#111" stroke-width="0.45"/>
<text x="472.60" y="642.0" font-size="4.5" text-anchor="middle" fill="#000" font-family="Liberation Sans, sans-serif">400</text>
<line x1="493.90" y1="634.5" x2="493.90" y2="635.9" stroke="#111" stroke-width="0.45"/>
<text x="493.90" y="642.0" font-size="4.5" text-anchor="middle" fill="#000" font-family="Liberation Sans, sans-serif">600</text>
<line x1="515.20" y1="634.5" x2="515.20" y2="635.9" stroke="#111" stroke-width="0.45"/>
<text x="515.20" y="642.0" font-size="4.5" text-anchor="middle" fill="#000" font-family="Liberation Sans, sans-serif">800</text>
<line x1="536.50" y1="634.5" x2="536.50" y2="635.9" stroke="#111" stroke-width="0.45"/>
<text x="536.50" y="642.0" font-size="4.5" text-anchor="middle" fill="#000" font-family="Liberation Sans, sans-serif">1000</text>
<line x1="440.65" y1="634.5" x2="440.65" y2="635.3" stroke="#111" stroke-width="0.4"/>
<line x1="461.95" y1="634.5" x2="461.95" y2="635.3" stroke="#111" stroke-width="0.4"/>
<line x1="483.25" y1="634.5" x2="483.25" y2="635.3" stroke="#111" stroke-width="0.4"/>
<line x1="504.55" y1="634.5" x2="504.55" y2="635.3" stroke="#111" stroke-width="0.4"/>
<line x1="525.85" y1="634.5" x2="525.85" y2="635.3" stroke="#111" stroke-width="0.4"/>
<line x1="428.6" y1="626.10" x2="430.0" y2="626.10" stroke="#111" stroke-width="0.45"/>
<text x="427.8" y="627.68" font-size="4.5" text-anchor="end" fill="#000" font-family="Liberation Sans, sans-serif">400</text>
<line x1="428.6" y1="609.08" x2="430.0" y2="609.08" stroke="#111" stroke-width="0.45"/>
<text x="427.8" y="610.66" font-size="4.5" text-anchor="end" fill="#000" font-family="Liberation Sans, sans-serif">500</text>
<line x1="429.2" y1="617.59" x2="430.0" y2="617.59" stroke="#111" stroke-width="0.4"/>
<line x1="428.6" y1="592.06" x2="430.0" y2="592.06" stroke="#111" stroke-width="0.45"/>
<text x="427.8" y="593.64" font-size="4.5" text-anchor="end" fill="#000" font-family="Liberation Sans, sans-serif">600</text>
<line x1="429.2" y1="600.57" x2="430.0" y2="600.57" stroke="#111" stroke-width="0.4"/>
<line x1="428.6" y1="575.04" x2="430.0" y2="575.04" stroke="#111" stroke-width="0.45"/>
<text x="427.8" y="576.62" font-size="4.5" text-anchor="end" fill="#000" font-family="Liberation Sans, sans-serif">700</text>
<line x1="429.2" y1="583.55" x2="430.0" y2="583.55" stroke="#111" stroke-width="0.4"/>
<line x1="428.6" y1="558.02" x2="430.0" y2="558.02" stroke="#111" stroke-width="0.45"/>
<text x="427.8" y="559.60" font-size="4.5" text-anchor="end" fill="#000" font-family="Liberation Sans, sans-serif">800</text>
<line x1="429.2" y1="566.53" x2="430.0" y2="566.53" stroke="#111" stroke-width="0.4"/>
<line x1="428.6" y1="541.00" x2="430.0" y2="541.00" stroke="#111" stroke-width="0.45"/>
<text x="427.8" y="542.58" font-size="4.5" text-anchor="end" fill="#000" font-family="Liberation Sans, sans-serif">900</text>
<line x1="429.2" y1="549.51" x2="430.0" y2="549.51" stroke="#111" stroke-width="0.4"/>
<polyline points="440.65,553.08 451.30,574.02 461.95,582.36 472.60,584.74 483.25,584.74 493.90,586.10 504.55,594.78 515.20,594.78 525.85,605.68 536.50,619.46" fill="none" stroke="#111" stroke-width="1.05" stroke-linejoin="round"/>
<line x1="440.65" y1="551.55" x2="440.65" y2="554.62" stroke="#111" stroke-width="0.8"/>
<line x1="439.55" y1="551.55" x2="441.75" y2="551.55" stroke="#111" stroke-width="0.7"/>
<line x1="439.55" y1="554.62" x2="441.75" y2="554.62" stroke="#111" stroke-width="0.7"/>
<rect x="439.70" y="552.13" width="1.9" height="1.9" fill="#111"/>
<line x1="451.30" y1="571.30" x2="451.30" y2="576.74" stroke="#111" stroke-width="0.8"/>
<line x1="450.20" y1="571.30" x2="452.40" y2="571.30" stroke="#111" stroke-width="0.7"/>
<line x1="450.20" y1="576.74" x2="452.40" y2="576.74" stroke="#111" stroke-width="0.7"/>
<rect x="450.35" y="573.07" width="1.9" height="1.9" fill="#111"/>
<line x1="461.95" y1="580.66" x2="461.95" y2="584.06" stroke="#111" stroke-width="0.8"/>
<line x1="460.85" y1="580.66" x2="463.05" y2="580.66" stroke="#111" stroke-width="0.7"/>
<line x1="460.85" y1="584.06" x2="463.05" y2="584.06" stroke="#111" stroke-width="0.7"/>
<rect x="461.00" y="581.41" width="1.9" height="1.9" fill="#111"/>
<line x1="472.60" y1="582.53" x2="472.60" y2="586.95" stroke="#111" stroke-width="0.8"/>
<line x1="471.50" y1="582.53" x2="473.70" y2="582.53" stroke="#111" stroke-width="0.7"/>
<line x1="471.50" y1="586.95" x2="473.70" y2="586.95" stroke="#111" stroke-width="0.7"/>
<rect x="471.65" y="583.79" width="1.9" height="1.9" fill="#111"/>
<line x1="483.25" y1="583.38" x2="483.25" y2="586.10" stroke="#111" stroke-width="0.8"/>
<line x1="482.15" y1="583.38" x2="484.35" y2="583.38" stroke="#111" stroke-width="0.7"/>
<line x1="482.15" y1="586.10" x2="484.35" y2="586.10" stroke="#111" stroke-width="0.7"/>
<rect x="482.30" y="583.79" width="1.9" height="1.9" fill="#111"/>
<line x1="493.90" y1="584.74" x2="493.90" y2="587.46" stroke="#111" stroke-width="0.8"/>
<line x1="492.80" y1="584.74" x2="495.00" y2="584.74" stroke="#111" stroke-width="0.7"/>
<line x1="492.80" y1="587.46" x2="495.00" y2="587.46" stroke="#111" stroke-width="0.7"/>
<rect x="492.95" y="585.15" width="1.9" height="1.9" fill="#111"/>
<line x1="504.55" y1="592.06" x2="504.55" y2="597.51" stroke="#111" stroke-width="0.8"/>
<line x1="503.45" y1="592.06" x2="505.65" y2="592.06" stroke="#111" stroke-width="0.7"/>
<line x1="503.45" y1="597.51" x2="505.65" y2="597.51" stroke="#111" stroke-width="0.7"/>
<rect x="503.60" y="593.83" width="1.9" height="1.9" fill="#111"/>
<line x1="515.20" y1="593.42" x2="515.20" y2="596.14" stroke="#111" stroke-width="0.8"/>
<line x1="514.10" y1="593.42" x2="516.30" y2="593.42" stroke="#111" stroke-width="0.7"/>
<line x1="514.10" y1="596.14" x2="516.30" y2="596.14" stroke="#111" stroke-width="0.7"/>
<rect x="514.25" y="593.83" width="1.9" height="1.9" fill="#111"/>
<line x1="525.85" y1="604.31" x2="525.85" y2="607.04" stroke="#111" stroke-width="0.8"/>
<line x1="524.75" y1="604.31" x2="526.95" y2="604.31" stroke="#111" stroke-width="0.7"/>
<line x1="524.75" y1="607.04" x2="526.95" y2="607.04" stroke="#111" stroke-width="0.7"/>
<rect x="524.90" y="604.73" width="1.9" height="1.9" fill="#111"/>
<line x1="536.50" y1="617.76" x2="536.50" y2="621.16" stroke="#111" stroke-width="0.8"/>
<line x1="535.40" y1="617.76" x2="537.60" y2="617.76" stroke="#111" stroke-width="0.7"/>
<line x1="535.40" y1="621.16" x2="537.60" y2="621.16" stroke="#111" stroke-width="0.7"/>
<rect x="535.55" y="618.51" width="1.9" height="1.9" fill="#111"/>
<text x="488.40" y="651.50" font-size="5.25" text-anchor="middle" fill="#222" font-family="Liberation Sans, sans-serif">Feeding rates (µL min<tspan font-size="3.5" dy="-2.0">-1</tspan><tspan dy="2.0">)</tspan></text>
<text transform="translate(415.4,587.75) rotate(-90)" font-size="5.3" textLength="66.7" lengthAdjust="spacingAndGlyphs" text-anchor="middle" fill="#222" font-family="Liberation Sans, sans-serif">Inner channel diameter (µm)</text>
<rect x="580.8" y="541.0" width="116.8" height="93.5" fill="#fff" stroke="#111" stroke-width="1.1"/>
<line x1="580.80" y1="634.5" x2="580.80" y2="635.9" stroke="#111" stroke-width="0.45"/>
<text x="580.80" y="642.0" font-size="4.5" text-anchor="middle" fill="#000" font-family="Liberation Sans, sans-serif">0</text>
<line x1="601.90" y1="634.5" x2="601.90" y2="635.9" stroke="#111" stroke-width="0.45"/>
<text x="601.90" y="642.0" font-size="4.5" text-anchor="middle" fill="#000" font-family="Liberation Sans, sans-serif">200</text>
<line x1="623.00" y1="634.5" x2="623.00" y2="635.9" stroke="#111" stroke-width="0.45"/>
<text x="623.00" y="642.0" font-size="4.5" text-anchor="middle" fill="#000" font-family="Liberation Sans, sans-serif">400</text>
<line x1="644.10" y1="634.5" x2="644.10" y2="635.9" stroke="#111" stroke-width="0.45"/>
<text x="644.10" y="642.0" font-size="4.5" text-anchor="middle" fill="#000" font-family="Liberation Sans, sans-serif">600</text>
<line x1="665.20" y1="634.5" x2="665.20" y2="635.9" stroke="#111" stroke-width="0.45"/>
<text x="665.20" y="642.0" font-size="4.5" text-anchor="middle" fill="#000" font-family="Liberation Sans, sans-serif">800</text>
<line x1="686.30" y1="634.5" x2="686.30" y2="635.9" stroke="#111" stroke-width="0.45"/>
<text x="686.30" y="642.0" font-size="4.5" text-anchor="middle" fill="#000" font-family="Liberation Sans, sans-serif">1000</text>
<line x1="591.35" y1="634.5" x2="591.35" y2="635.3" stroke="#111" stroke-width="0.4"/>
<line x1="612.45" y1="634.5" x2="612.45" y2="635.3" stroke="#111" stroke-width="0.4"/>
<line x1="633.55" y1="634.5" x2="633.55" y2="635.3" stroke="#111" stroke-width="0.4"/>
<line x1="654.65" y1="634.5" x2="654.65" y2="635.3" stroke="#111" stroke-width="0.4"/>
<line x1="675.75" y1="634.5" x2="675.75" y2="635.3" stroke="#111" stroke-width="0.4"/>
<line x1="579.4" y1="634.50" x2="580.8" y2="634.50" stroke="#111" stroke-width="0.45"/>
<text x="578.5999999999999" y="636.08" font-size="4.5" text-anchor="end" fill="#000" font-family="Liberation Sans, sans-serif">50</text>
<line x1="579.4" y1="615.81" x2="580.8" y2="615.81" stroke="#111" stroke-width="0.45"/>
<text x="578.5999999999999" y="617.38" font-size="4.5" text-anchor="end" fill="#000" font-family="Liberation Sans, sans-serif">60</text>
<line x1="580.0" y1="625.15" x2="580.8" y2="625.15" stroke="#111" stroke-width="0.4"/>
<line x1="579.4" y1="597.12" x2="580.8" y2="597.12" stroke="#111" stroke-width="0.45"/>
<text x="578.5999999999999" y="598.70" font-size="4.5" text-anchor="end" fill="#000" font-family="Liberation Sans, sans-serif">70</text>
<line x1="580.0" y1="606.47" x2="580.8" y2="606.47" stroke="#111" stroke-width="0.4"/>
<line x1="579.4" y1="578.43" x2="580.8" y2="578.43" stroke="#111" stroke-width="0.45"/>
<text x="578.5999999999999" y="580.00" font-size="4.5" text-anchor="end" fill="#000" font-family="Liberation Sans, sans-serif">80</text>
<line x1="580.0" y1="587.77" x2="580.8" y2="587.77" stroke="#111" stroke-width="0.4"/>
<line x1="579.4" y1="559.74" x2="580.8" y2="559.74" stroke="#111" stroke-width="0.45"/>
<text x="578.5999999999999" y="561.32" font-size="4.5" text-anchor="end" fill="#000" font-family="Liberation Sans, sans-serif">90</text>
<line x1="580.0" y1="569.09" x2="580.8" y2="569.09" stroke="#111" stroke-width="0.4"/>
<line x1="579.4" y1="541.05" x2="580.8" y2="541.05" stroke="#111" stroke-width="0.45"/>
<text x="578.5999999999999" y="542.62" font-size="4.5" text-anchor="end" fill="#000" font-family="Liberation Sans, sans-serif">100</text>
<line x1="580.0" y1="550.39" x2="580.8" y2="550.39" stroke="#111" stroke-width="0.4"/>
<polyline points="591.35,557.68 601.90,560.67 612.45,564.79 623.00,570.02 633.55,583.48 644.10,592.82 654.65,587.77 665.20,580.67 675.75,580.67 686.30,609.08" fill="none" stroke="#111" stroke-width="1.05" stroke-linejoin="round"/>
<line x1="591.35" y1="548.34" x2="591.35" y2="567.03" stroke="#111" stroke-width="0.8"/>
<line x1="590.25" y1="548.34" x2="592.45" y2="548.34" stroke="#111" stroke-width="0.7"/>
<line x1="590.25" y1="567.03" x2="592.45" y2="567.03" stroke="#111" stroke-width="0.7"/>
<rect x="590.40" y="556.73" width="1.9" height="1.9" fill="#111"/>
<line x1="601.90" y1="555.07" x2="601.90" y2="566.28" stroke="#111" stroke-width="0.8"/>
<line x1="600.80" y1="555.07" x2="603.00" y2="555.07" stroke="#111" stroke-width="0.7"/>
<line x1="600.80" y1="566.28" x2="603.00" y2="566.28" stroke="#111" stroke-width="0.7"/>
<rect x="600.95" y="559.72" width="1.9" height="1.9" fill="#111"/>
<line x1="612.45" y1="548.53" x2="612.45" y2="581.05" stroke="#111" stroke-width="0.8"/>
<line x1="611.35" y1="548.53" x2="613.55" y2="548.53" stroke="#111" stroke-width="0.7"/>
<line x1="611.35" y1="581.05" x2="613.55" y2="581.05" stroke="#111" stroke-width="0.7"/>
<rect x="611.50" y="563.84" width="1.9" height="1.9" fill="#111"/>
<line x1="623.00" y1="558.06" x2="623.00" y2="581.98" stroke="#111" stroke-width="0.8"/>
<line x1="621.90" y1="558.06" x2="624.10" y2="558.06" stroke="#111" stroke-width="0.7"/>
<line x1="621.90" y1="581.98" x2="624.10" y2="581.98" stroke="#111" stroke-width="0.7"/>
<rect x="622.05" y="569.07" width="1.9" height="1.9" fill="#111"/>
<line x1="633.55" y1="577.87" x2="633.55" y2="589.08" stroke="#111" stroke-width="0.8"/>
<line x1="632.45" y1="577.87" x2="634.65" y2="577.87" stroke="#111" stroke-width="0.7"/>
<line x1="632.45" y1="589.08" x2="634.65" y2="589.08" stroke="#111" stroke-width="0.7"/>
<rect x="632.60" y="582.53" width="1.9" height="1.9" fill="#111"/>
<line x1="644.10" y1="584.22" x2="644.10" y2="601.42" stroke="#111" stroke-width="0.8"/>
<line x1="643.00" y1="584.22" x2="645.20" y2="584.22" stroke="#111" stroke-width="0.7"/>
<line x1="643.00" y1="601.42" x2="645.20" y2="601.42" stroke="#111" stroke-width="0.7"/>
<rect x="643.15" y="591.87" width="1.9" height="1.9" fill="#111"/>
<line x1="654.65" y1="580.30" x2="654.65" y2="595.25" stroke="#111" stroke-width="0.8"/>
<line x1="653.55" y1="580.30" x2="655.75" y2="580.30" stroke="#111" stroke-width="0.7"/>
<line x1="653.55" y1="595.25" x2="655.75" y2="595.25" stroke="#111" stroke-width="0.7"/>
<rect x="653.70" y="586.82" width="1.9" height="1.9" fill="#111"/>
<line x1="665.20" y1="575.07" x2="665.20" y2="586.28" stroke="#111" stroke-width="0.8"/>
<line x1="664.10" y1="575.07" x2="666.30" y2="575.07" stroke="#111" stroke-width="0.7"/>
<line x1="664.10" y1="586.28" x2="666.30" y2="586.28" stroke="#111" stroke-width="0.7"/>
<rect x="664.25" y="579.72" width="1.9" height="1.9" fill="#111"/>
<line x1="675.75" y1="571.33" x2="675.75" y2="590.02" stroke="#111" stroke-width="0.8"/>
<line x1="674.65" y1="571.33" x2="676.85" y2="571.33" stroke="#111" stroke-width="0.7"/>
<line x1="674.65" y1="590.02" x2="676.85" y2="590.02" stroke="#111" stroke-width="0.7"/>
<rect x="674.80" y="579.72" width="1.9" height="1.9" fill="#111"/>
<line x1="686.30" y1="595.06" x2="686.30" y2="623.10" stroke="#111" stroke-width="0.8"/>
<line x1="685.20" y1="595.06" x2="687.40" y2="595.06" stroke="#111" stroke-width="0.7"/>
<line x1="685.20" y1="623.10" x2="687.40" y2="623.10" stroke="#111" stroke-width="0.7"/>
<rect x="685.35" y="608.13" width="1.9" height="1.9" fill="#111"/>
<text x="639.20" y="651.50" font-size="5.25" text-anchor="middle" fill="#222" font-family="Liberation Sans, sans-serif">Feeding rates (µL min<tspan font-size="3.5" dy="-2.0">-1</tspan><tspan dy="2.0">)</tspan></text>
<text transform="translate(566.2,587.75) rotate(-90)" font-size="5.3" textLength="46.7" lengthAdjust="spacingAndGlyphs" text-anchor="middle" fill="#222" font-family="Liberation Sans, sans-serif">Wall Thickness (µm)</text>
<defs><filter id="b3" x="-5%" y="-5%" width="110%" height="110%"><feGaussianBlur stdDeviation="0.45"/></filter><filter id="b2" x="-5%" y="-5%" width="110%" height="110%"><feGaussianBlur stdDeviation="0.3"/></filter></defs>
<rect x="18.6" y="479.6" width="33.9" height="31.1" fill="#0d0f14"/>
<rect x="53.2" y="479.6" width="44.6" height="31.1" fill="#15171d"/>
<rect x="52.4" y="479.6" width="0.9" height="31.1" fill="#9a9a9a"/>
<g filter="url(#b3)">
<path d="M21.16,483.92 Q35.75,482.42 50.33,483.82 L50.63,506.83 Q35.75,508.33 20.96,507.13 Z" fill="#6c94d0"/>
<rect x="23.96" y="485.28" width="1.9" height="1.7" fill="#1f2b48"/>
<rect x="23.96" y="489.03" width="1.9" height="1.7" fill="#1f2b48"/>
<rect x="23.96" y="492.97" width="1.9" height="1.7" fill="#1f2b48"/>
<rect x="23.96" y="496.91" width="1.9" height="1.7" fill="#1f2b48"/>
<rect x="23.96" y="500.67" width="1.9" height="1.7" fill="#1f2b48"/>
<rect x="23.96" y="504.04" width="1.9" height="1.7" fill="#1f2b48"/>
<rect x="28.18" y="485.28" width="1.9" height="1.7" fill="#1f2b48"/>
<rect x="28.18" y="489.03" width="1.9" height="1.7" fill="#1f2b48"/>
<rect x="28.18" y="492.97" width="1.9" height="1.7" fill="#1f2b48"/>
<rect x="28.18" y="496.91" width="1.9" height="1.7" fill="#1f2b48"/>
<rect x="28.18" y="500.67" width="1.9" height="1.7" fill="#1f2b48"/>
<rect x="28.18" y="504.04" width="1.9" height="1.7" fill="#1f2b48"/>
<rect x="32.69" y="485.28" width="1.9" height="1.7" fill="#1f2b48"/>
<rect x="32.69" y="489.03" width="1.9" height="1.7" fill="#1f2b48"/>
<rect x="32.69" y="492.97" width="1.9" height="1.7" fill="#1f2b48"/>
<rect x="32.69" y="496.91" width="1.9" height="1.7" fill="#1f2b48"/>
<rect x="32.69" y="500.67" width="1.9" height="1.7" fill="#1f2b48"/>
<rect x="32.69" y="504.04" width="1.9" height="1.7" fill="#1f2b48"/>
<rect x="37.19" y="485.28" width="1.9" height="1.7" fill="#1f2b48"/>
<rect x="37.19" y="489.03" width="1.9" height="1.7" fill="#1f2b48"/>
<rect x="37.19" y="492.97" width="1.9" height="1.7" fill="#1f2b48"/>
<rect x="37.19" y="496.91" width="1.9" height="1.7" fill="#1f2b48"/>
<rect x="37.19" y="500.67" width="1.9" height="1.7" fill="#1f2b48"/>
<rect x="37.19" y="504.04" width="1.9" height="1.7" fill="#1f2b48"/>
<rect x="41.69" y="485.28" width="1.9" height="1.7" fill="#1f2b48"/>
<rect x="41.69" y="489.03" width="1.9" height="1.7" fill="#1f2b48"/>
<rect x="41.69" y="492.97" width="1.9" height="1.7" fill="#1f2b48"/>
<rect x="41.69" y="496.91" width="1.9" height="1.7" fill="#1f2b48"/>
<rect x="41.69" y="500.67" width="1.9" height="1.7" fill="#1f2b48"/>
<rect x="41.69" y="504.04" width="1.9" height="1.7" fill="#1f2b48"/>
<rect x="46.01" y="485.28" width="1.9" height="1.7" fill="#1f2b48"/>
<rect x="46.01" y="489.03" width="1.9" height="1.7" fill="#1f2b48"/>
<rect x="46.01" y="492.97" width="1.9" height="1.7" fill="#1f2b48"/>
<rect x="46.01" y="496.91" width="1.9" height="1.7" fill="#1f2b48"/>
<rect x="46.01" y="500.67" width="1.9" height="1.7" fill="#1f2b48"/>
<rect x="46.01" y="504.04" width="1.9" height="1.7" fill="#1f2b48"/>
<path d="M54.93,493.07 L76.04,482.75 L96.86,490.07 L80.92,507.71 Z" fill="#6e96d3" stroke="#6e96d3" stroke-width="1.6" stroke-linejoin="round"/>
<path d="M54.33,493.67 L80.92,508.51 L97.36,490.97 L97.16,492.67 L80.92,510.51 L54.33,495.67 Z" fill="#4d6fae"/>
<ellipse cx="60.30" cy="493.47" rx="1.25" ry="0.7" fill="#27365a"/>
<ellipse cx="65.18" cy="496.13" rx="1.25" ry="0.7" fill="#27365a"/>
<ellipse cx="70.06" cy="498.78" rx="1.25" ry="0.7" fill="#27365a"/>
<ellipse cx="74.94" cy="501.43" rx="1.25" ry="0.7" fill="#27365a"/>
<ellipse cx="79.83" cy="504.08" rx="1.25" ry="0.7" fill="#27365a"/>
<ellipse cx="64.24" cy="491.33" rx="1.25" ry="0.7" fill="#27365a"/>
<ellipse cx="68.93" cy="493.71" rx="1.25" ry="0.7" fill="#27365a"/>
<ellipse cx="73.62" cy="496.09" rx="1.25" ry="0.7" fill="#27365a"/>
<ellipse cx="78.32" cy="498.47" rx="1.25" ry="0.7" fill="#27365a"/>
<ellipse cx="83.01" cy="500.85" rx="1.25" ry="0.7" fill="#27365a"/>
<ellipse cx="68.18" cy="489.18" rx="1.25" ry="0.7" fill="#27365a"/>
<ellipse cx="72.69" cy="491.29" rx="1.25" ry="0.7" fill="#27365a"/>
<ellipse cx="77.19" cy="493.40" rx="1.25" ry="0.7" fill="#27365a"/>
<ellipse cx="81.69" cy="495.51" rx="1.25" ry="0.7" fill="#27365a"/>
<ellipse cx="86.19" cy="497.62" rx="1.25" ry="0.7" fill="#27365a"/>
<ellipse cx="72.13" cy="487.03" rx="1.25" ry="0.7" fill="#27365a"/>
<ellipse cx="76.44" cy="488.87" rx="1.25" ry="0.7" fill="#27365a"/>
<ellipse cx="80.75" cy="490.71" rx="1.25" ry="0.7" fill="#27365a"/>
<ellipse cx="85.06" cy="492.55" rx="1.25" ry="0.7" fill="#27365a"/>
<ellipse cx="89.37" cy="494.39" rx="1.25" ry="0.7" fill="#27365a"/>
<ellipse cx="76.07" cy="484.89" rx="1.25" ry="0.7" fill="#27365a"/>
<ellipse cx="80.19" cy="486.46" rx="1.25" ry="0.7" fill="#27365a"/>
<ellipse cx="84.31" cy="488.03" rx="1.25" ry="0.7" fill="#27365a"/>
<ellipse cx="88.43" cy="489.60" rx="1.25" ry="0.7" fill="#27365a"/>
<ellipse cx="92.55" cy="491.16" rx="1.25" ry="0.7" fill="#27365a"/>
<path d="M80.73,480.50 L92.45,479.75 L91.05,482.19 L83.54,482.57 Z" fill="#6e96d3" opacity="0.85"/>
</g>
<text x="19.6" y="485.0" font-size="4.6" font-weight="bold" fill="#b8bcc6" font-family="Liberation Sans, sans-serif">A</text>
<text x="54.6" y="485.4" font-size="5" font-weight="bold" fill="#d8dbe2" font-family="Liberation Sans, sans-serif">B</text>
<rect x="75.10" y="506.22" width="5.6" height="1.1" fill="#e8e8e8"/>
<text x="83.73" y="509.02" font-size="4.8" fill="#f4f4f4" font-family="Liberation Sans, sans-serif">3 mm</text>
<path d="M109.42,481.60 L109.88,482.30 L110.32,482.99 L110.72,483.69 L111.04,484.39 L111.28,485.09 L111.43,485.80 L111.47,486.51 L111.40,487.22 L111.24,487.94 L110.98,488.66 L110.66,489.38 L110.27,490.10 L109.86,490.83 L109.43,491.55 L109.03,492.27 L108.66,493.00 L108.35,493.72 L108.13,494.43 L108.00,495.15 L107.97,495.86 L108.04,496.57 L108.22,497.27 L108.49,497.98 L108.84,498.68 L109.25,499.37 L109.70,500.07 L110.17,500.77 L110.63,501.46 L111.06,502.16 L111.43,502.86 L111.73,503.56 L111.94,504.26 L112.05,504.97 L112.05,505.68 L111.95,506.39 L111.76,507.11 L111.48,507.83 L111.13,508.55 L110.73,509.28 L110.31,510.00" fill="none" stroke="#2ba8de" stroke-width="1.3" stroke-linecap="round"/>
<path d="M104.00,486.33 L104.81,485.88 L105.62,485.46 L106.43,485.08 L107.24,484.78 L108.05,484.55 L108.86,484.43 L109.68,484.40 L110.49,484.48 L111.30,484.67 L112.12,484.94 L112.93,485.28 L113.75,485.68 L114.56,486.12 L115.38,486.56 L116.19,486.98 L117.01,487.37 L117.82,487.69 L118.64,487.93 L119.45,488.08 L120.26,488.13 L121.07,488.07 L121.89,487.91 L122.70,487.66 L123.51,487.32 L124.32,486.93 L125.13,486.49 L125.94,486.04 L126.75,485.60 L127.56,485.19 L128.37,484.83 L129.18,484.55 L129.99,484.36 L130.80,484.27 L131.61,484.28 L132.43,484.39 L133.24,484.61 L134.05,484.90 L134.87,485.27 L135.68,485.68 L136.50,486.12" fill="none" stroke="#2ba8de" stroke-width="1.3" stroke-linecap="round"/>
<path d="M120.25,481.60 L119.79,482.30 L119.35,482.99 L118.95,483.69 L118.63,484.39 L118.39,485.10 L118.25,485.80 L118.21,486.51 L118.27,487.23 L118.44,487.94 L118.69,488.66 L119.02,489.38 L119.41,490.10 L119.82,490.83 L120.25,491.55 L120.66,492.27 L121.02,492.99 L121.33,493.71 L121.56,494.43 L121.69,495.15 L121.72,495.86 L121.65,496.57 L121.47,497.27 L121.20,497.97 L120.85,498.67 L120.44,499.37 L119.99,500.07 L119.52,500.77 L119.06,501.46 L118.64,502.16 L118.27,502.86 L117.97,503.56 L117.76,504.27 L117.65,504.97 L117.65,505.68 L117.75,506.40 L117.94,507.11 L118.23,507.83 L118.58,508.55 L118.97,509.28 L119.39,510.00" fill="none" stroke="#2ba8de" stroke-width="1.3" stroke-linecap="round"/>
<path d="M104.00,495.80 L104.81,496.25 L105.62,496.67 L106.43,497.04 L107.25,497.34 L108.06,497.56 L108.87,497.69 L109.68,497.71 L110.50,497.62 L111.31,497.44 L112.12,497.16 L112.94,496.81 L113.75,496.41 L114.56,495.97 L115.38,495.53 L116.19,495.10 L117.00,494.71 L117.82,494.39 L118.63,494.14 L119.44,493.99 L120.25,493.94 L121.07,493.99 L121.88,494.15 L122.69,494.40 L123.50,494.73 L124.31,495.12 L125.13,495.55 L125.94,496.00 L126.75,496.44 L127.56,496.84 L128.37,497.20 L129.18,497.48 L130.00,497.66 L130.81,497.75 L131.62,497.74 L132.43,497.62 L133.25,497.40 L134.06,497.10 L134.87,496.73 L135.69,496.31 L136.50,495.87" fill="none" stroke="#2ba8de" stroke-width="1.3" stroke-linecap="round"/>
<path d="M131.08,481.60 L131.53,482.31 L131.95,483.01 L132.33,483.72 L132.64,484.43 L132.86,485.14 L132.98,485.85 L133.01,486.56 L132.92,487.27 L132.74,487.98 L132.47,488.69 L132.12,489.40 L131.72,490.12 L131.29,490.83 L130.84,491.54 L130.42,492.25 L130.03,492.97 L129.71,493.68 L129.46,494.39 L129.31,495.10 L129.27,495.81 L129.32,496.52 L129.48,497.23 L129.73,497.94 L130.07,498.65 L130.46,499.35 L130.89,500.06 L131.34,500.77 L131.79,501.48 L132.20,502.18 L132.55,502.89 L132.83,503.60 L133.02,504.31 L133.11,505.02 L133.10,505.73 L132.98,506.44 L132.77,507.15 L132.47,507.86 L132.10,508.57 L131.69,509.29 L131.25,510.00" fill="none" stroke="#2ba8de" stroke-width="1.3" stroke-linecap="round"/>
<path d="M104.00,505.27 L104.82,504.84 L105.65,504.45 L106.47,504.09 L107.29,503.81 L108.11,503.61 L108.92,503.51 L109.74,503.52 L110.55,503.62 L111.35,503.83 L112.16,504.13 L112.96,504.50 L113.76,504.93 L114.57,505.38 L115.37,505.85 L116.17,506.30 L116.97,506.71 L117.78,507.06 L118.58,507.33 L119.39,507.50 L120.20,507.58 L121.02,507.54 L121.83,507.41 L122.65,507.18 L123.47,506.87 L124.29,506.51 L125.12,506.10 L125.94,505.67 L126.76,505.25 L127.59,504.87 L128.41,504.54 L129.23,504.28 L130.05,504.12 L130.86,504.05 L131.67,504.09 L132.48,504.23 L133.29,504.47 L134.09,504.79 L134.90,505.18 L135.70,505.62 L136.50,506.09" fill="none" stroke="#2ba8de" stroke-width="1.3" stroke-linecap="round"/>
<ellipse cx="114.72" cy="490.97" rx="2.8" ry="2.02" fill="#f1b3b0" opacity="0.95" transform="rotate(-25 114.72 490.97)"/>
<path d="M112.77,492.09 L116.68,489.85 M113.60,489.71 L115.84,492.23" stroke="#c8464a" stroke-width="0.6" fill="none"/>
<circle cx="114.72" cy="490.97" r="0.55" fill="#7a3a55"/>
<ellipse cx="125.78" cy="490.97" rx="2.8" ry="2.02" fill="#f1b3b0" opacity="0.95" transform="rotate(-25 125.78 490.97)"/>
<path d="M123.82,492.09 L127.73,489.85 M124.66,489.71 L126.90,492.23" stroke="#c8464a" stroke-width="0.6" fill="none"/>
<circle cx="125.78" cy="490.97" r="0.55" fill="#7a3a55"/>
<ellipse cx="114.72" cy="500.91" rx="2.8" ry="2.02" fill="#f1b3b0" opacity="0.95" transform="rotate(-25 114.72 500.91)"/>
<path d="M112.77,502.03 L116.68,499.79 M113.60,499.65 L115.84,502.17" stroke="#c8464a" stroke-width="0.6" fill="none"/>
<circle cx="114.72" cy="500.91" r="0.55" fill="#7a3a55"/>
<ellipse cx="125.78" cy="500.91" rx="2.8" ry="2.02" fill="#f1b3b0" opacity="0.95" transform="rotate(-25 125.78 500.91)"/>
<path d="M123.82,502.03 L127.73,499.79 M124.66,499.65 L126.90,502.17" stroke="#c8464a" stroke-width="0.6" fill="none"/>
<circle cx="125.78" cy="500.91" r="0.55" fill="#7a3a55"/>
<path d="M148.06,481.60 L147.61,482.30 L147.19,482.99 L146.86,483.69 L146.64,484.40 L146.55,485.10 L146.59,485.82 L146.77,486.53 L147.06,487.25 L147.42,487.98 L147.83,488.70 L148.24,489.42 L148.61,490.15 L148.89,490.87 L149.07,491.58 L149.11,492.30 L149.02,493.00 L148.80,493.71 L148.47,494.41 L148.06,495.10 L147.60,495.80 L147.14,496.50 L146.73,497.19 L146.40,497.89 L146.18,498.60 L146.09,499.30 L146.13,500.02 L146.31,500.73 L146.59,501.45 L146.96,502.18 L147.37,502.90 L147.78,503.62 L148.14,504.35 L148.43,505.07 L148.61,505.78 L148.65,506.50 L148.56,507.20 L148.34,507.91 L148.01,508.61 L147.59,509.30 L147.14,510.00" fill="none" stroke="#2ba8de" stroke-width="1.25" stroke-linecap="round"/>
<path d="M144.00,485.15 L144.81,485.58 L145.63,485.97 L146.44,486.27 L147.26,486.47 L148.07,486.53 L148.88,486.46 L149.69,486.26 L150.50,485.95 L151.31,485.55 L152.12,485.12 L152.94,484.68 L153.75,484.29 L154.56,483.97 L155.37,483.77 L156.18,483.70 L156.99,483.77 L157.81,483.96 L158.62,484.27 L159.44,484.65 L160.25,485.08 L161.06,485.51 L161.88,485.90 L162.69,486.21 L163.51,486.40 L164.32,486.47 L165.13,486.40 L165.94,486.19 L166.75,485.88 L167.56,485.49 L168.38,485.05 L169.19,484.61 L170.00,484.22 L170.81,483.91 L171.62,483.71 L172.43,483.63 L173.24,483.70 L174.06,483.89 L174.87,484.20 L175.69,484.59 L176.50,485.02" fill="none" stroke="#2ba8de" stroke-width="1.25" stroke-linecap="round"/>
<path d="M156.19,481.60 L155.74,482.30 L155.34,483.00 L155.02,483.71 L154.80,484.42 L154.72,485.12 L154.78,485.84 L154.96,486.55 L155.26,487.26 L155.64,487.98 L156.06,488.70 L156.48,489.42 L156.85,490.14 L157.15,490.85 L157.34,491.56 L157.39,492.28 L157.31,492.98 L157.10,493.69 L156.78,494.40 L156.37,495.10 L155.93,495.80 L155.48,496.50 L155.08,497.20 L154.76,497.91 L154.55,498.62 L154.46,499.32 L154.52,500.04 L154.70,500.75 L155.00,501.46 L155.38,502.18 L155.80,502.90 L156.22,503.62 L156.60,504.34 L156.89,505.05 L157.08,505.76 L157.13,506.48 L157.05,507.18 L156.84,507.89 L156.52,508.60 L156.11,509.30 L155.67,510.00" fill="none" stroke="#2ba8de" stroke-width="1.25" stroke-linecap="round"/>
<path d="M144.00,492.25 L144.81,492.69 L145.62,493.08 L146.43,493.39 L147.25,493.59 L148.06,493.66 L148.87,493.60 L149.68,493.40 L150.50,493.09 L151.31,492.71 L152.12,492.28 L152.94,491.85 L153.75,491.46 L154.57,491.15 L155.38,490.95 L156.19,490.89 L157.00,490.96 L157.82,491.16 L158.63,491.47 L159.44,491.87 L160.25,492.30 L161.06,492.74 L161.87,493.13 L162.68,493.44 L163.50,493.64 L164.31,493.71 L165.12,493.65 L165.93,493.45 L166.75,493.14 L167.56,492.76 L168.38,492.33 L169.19,491.90 L170.00,491.51 L170.82,491.20 L171.63,491.01 L172.44,490.94 L173.25,491.01 L174.07,491.21 L174.88,491.52 L175.69,491.92 L176.50,492.35" fill="none" stroke="#2ba8de" stroke-width="1.25" stroke-linecap="round"/>
<path d="M164.31,481.60 L163.90,482.32 L163.52,483.04 L163.23,483.76 L163.05,484.47 L162.99,485.18 L163.08,485.89 L163.29,486.60 L163.62,487.30 L164.03,488.00 L164.48,488.70 L164.92,489.40 L165.33,490.10 L165.66,490.80 L165.87,491.51 L165.96,492.22 L165.91,492.93 L165.72,493.64 L165.43,494.36 L165.06,495.08 L164.64,495.80 L164.22,496.52 L163.85,497.24 L163.56,497.96 L163.37,498.67 L163.32,499.38 L163.41,500.09 L163.62,500.80 L163.95,501.50 L164.35,502.20 L164.80,502.90 L165.25,503.60 L165.66,504.30 L165.98,505.00 L166.20,505.71 L166.28,506.42 L166.23,507.13 L166.05,507.84 L165.76,508.56 L165.38,509.28 L164.97,510.00" fill="none" stroke="#2ba8de" stroke-width="1.25" stroke-linecap="round"/>
<path d="M144.00,499.35 L144.82,499.76 L145.64,500.14 L146.46,500.43 L147.28,500.61 L148.09,500.66 L148.91,500.57 L149.71,500.35 L150.52,500.02 L151.32,499.61 L152.12,499.16 L152.93,498.71 L153.73,498.30 L154.54,497.97 L155.34,497.76 L156.16,497.67 L156.97,497.72 L157.79,497.90 L158.61,498.19 L159.43,498.56 L160.25,498.97 L161.07,499.39 L161.89,499.76 L162.71,500.05 L163.53,500.23 L164.34,500.28 L165.16,500.19 L165.96,499.97 L166.77,499.65 L167.57,499.24 L168.38,498.79 L169.18,498.33 L169.98,497.93 L170.79,497.60 L171.59,497.38 L172.41,497.29 L173.22,497.34 L174.04,497.52 L174.86,497.81 L175.68,498.18 L176.50,498.60" fill="none" stroke="#2ba8de" stroke-width="1.25" stroke-linecap="round"/>
<path d="M172.44,481.60 L172.01,482.31 L171.63,483.03 L171.32,483.74 L171.13,484.45 L171.07,485.16 L171.15,485.87 L171.35,486.58 L171.67,487.29 L172.06,487.99 L172.50,488.70 L172.94,489.41 L173.34,490.11 L173.65,490.82 L173.86,491.53 L173.94,492.24 L173.87,492.95 L173.68,493.66 L173.38,494.37 L172.99,495.09 L172.57,495.80 L172.14,496.51 L171.76,497.23 L171.46,497.94 L171.26,498.65 L171.20,499.36 L171.28,500.07 L171.48,500.78 L171.80,501.49 L172.19,502.19 L172.63,502.90 L173.07,503.61 L173.47,504.31 L173.79,505.02 L173.99,505.73 L174.07,506.44 L174.00,507.15 L173.81,507.86 L173.51,508.57 L173.12,509.29 L172.70,510.00" fill="none" stroke="#2ba8de" stroke-width="1.25" stroke-linecap="round"/>
<path d="M144.00,506.45 L144.81,506.89 L145.62,507.28 L146.43,507.60 L147.24,507.80 L148.06,507.87 L148.87,507.81 L149.68,507.61 L150.50,507.31 L151.31,506.92 L152.12,506.49 L152.94,506.06 L153.75,505.68 L154.57,505.37 L155.38,505.18 L156.19,505.11 L157.01,505.18 L157.82,505.39 L158.63,505.70 L159.44,506.10 L160.25,506.53 L161.06,506.97 L161.87,507.36 L162.68,507.68 L163.49,507.88 L164.31,507.95 L165.12,507.89 L165.93,507.69 L166.75,507.39 L167.56,507.00 L168.38,506.57 L169.19,506.15 L170.00,505.76 L170.82,505.45 L171.63,505.26 L172.44,505.20 L173.26,505.27 L174.07,505.47 L174.88,505.78 L175.69,506.18 L176.50,506.62" fill="none" stroke="#2ba8de" stroke-width="1.25" stroke-linecap="round"/>
<ellipse cx="152.12" cy="488.70" rx="2.5" ry="1.80" fill="#f1b3b0" opacity="0.95" transform="rotate(-25 152.12 488.70)"/>
<path d="M150.38,489.70 L153.88,487.70 M151.12,487.58 L153.12,489.83" stroke="#c8464a" stroke-width="0.6" fill="none"/>
<circle cx="152.12" cy="488.70" r="0.55" fill="#7a3a55"/>
<ellipse cx="160.25" cy="490.12" rx="2.5" ry="1.80" fill="#f1b3b0" opacity="0.95" transform="rotate(-25 160.25 490.12)"/>
<path d="M158.50,491.12 L162.00,489.12 M159.25,489.00 L161.25,491.25" stroke="#c8464a" stroke-width="0.6" fill="none"/>
<circle cx="160.25" cy="490.12" r="0.55" fill="#7a3a55"/>
<ellipse cx="168.70" cy="487.85" rx="2.5" ry="1.80" fill="#f1b3b0" opacity="0.95" transform="rotate(-25 168.70 487.85)"/>
<path d="M166.95,488.85 L170.45,486.85 M167.70,486.72 L169.70,488.97" stroke="#c8464a" stroke-width="0.6" fill="none"/>
<circle cx="168.70" cy="487.85" r="0.55" fill="#7a3a55"/>
<ellipse cx="151.80" cy="497.22" rx="2.5" ry="1.80" fill="#f1b3b0" opacity="0.95" transform="rotate(-25 151.80 497.22)"/>
<path d="M150.05,498.22 L153.55,496.22 M150.80,496.10 L152.80,498.35" stroke="#c8464a" stroke-width="0.6" fill="none"/>
<circle cx="151.80" cy="497.22" r="0.55" fill="#7a3a55"/>
<ellipse cx="163.50" cy="497.22" rx="2.5" ry="1.80" fill="#f1b3b0" opacity="0.95" transform="rotate(-25 163.50 497.22)"/>
<path d="M161.75,498.22 L165.25,496.22 M162.50,496.10 L164.50,498.35" stroke="#c8464a" stroke-width="0.6" fill="none"/>
<circle cx="163.50" cy="497.22" r="0.55" fill="#7a3a55"/>
<ellipse cx="151.15" cy="504.89" rx="2.5" ry="1.80" fill="#f1b3b0" opacity="0.95" transform="rotate(-25 151.15 504.89)"/>
<path d="M149.40,505.89 L152.90,503.89 M150.15,503.76 L152.15,506.01" stroke="#c8464a" stroke-width="0.6" fill="none"/>
<circle cx="151.15" cy="504.89" r="0.55" fill="#7a3a55"/>
<ellipse cx="159.60" cy="504.32" rx="2.5" ry="1.80" fill="#f1b3b0" opacity="0.95" transform="rotate(-25 159.60 504.32)"/>
<path d="M157.85,505.32 L161.35,503.32 M158.60,503.19 L160.60,505.44" stroke="#c8464a" stroke-width="0.6" fill="none"/>
<circle cx="159.60" cy="504.32" r="0.55" fill="#7a3a55"/>
<ellipse cx="168.70" cy="504.32" rx="2.5" ry="1.80" fill="#f1b3b0" opacity="0.95" transform="rotate(-25 168.70 504.32)"/>
<path d="M166.95,505.32 L170.45,503.32 M167.70,503.19 L169.70,505.44" stroke="#c8464a" stroke-width="0.6" fill="none"/>
<circle cx="168.70" cy="504.32" r="0.55" fill="#7a3a55"/>
<ellipse cx="173.25" cy="493.53" rx="2.5" ry="1.80" fill="#f1b3b0" opacity="0.95" transform="rotate(-25 173.25 493.53)"/>
<path d="M171.50,494.53 L175.00,492.53 M172.25,492.40 L174.25,494.65" stroke="#c8464a" stroke-width="0.6" fill="none"/>
<circle cx="173.25" cy="493.53" r="0.55" fill="#7a3a55"/>
<path d="M188.18,481.60 L187.72,482.31 L187.37,483.02 L187.20,483.74 L187.24,484.45 L187.49,485.15 L187.89,485.86 L188.36,486.57 L188.79,487.28 L189.10,487.99 L189.21,488.69 L189.11,489.41 L188.81,490.12 L188.38,490.83 L187.92,491.54 L187.53,492.25 L187.29,492.97 L187.25,493.68 L187.44,494.38 L187.79,495.09 L188.25,495.80 L188.71,496.51 L189.07,497.22 L189.25,497.92 L189.22,498.63 L188.98,499.35 L188.58,500.06 L188.12,500.77 L187.70,501.48 L187.40,502.19 L187.29,502.91 L187.40,503.61 L187.71,504.32 L188.15,505.03 L188.62,505.74 L189.02,506.45 L189.26,507.15 L189.31,507.86 L189.13,508.58 L188.78,509.29 L188.33,510.00" fill="none" stroke="#2ba8de" stroke-width="1.2" stroke-linecap="round"/>
<path d="M185.50,483.97 L186.31,484.42 L187.11,484.77 L187.91,484.94 L188.72,484.90 L189.52,484.65 L190.32,484.24 L191.12,483.77 L191.92,483.34 L192.72,483.03 L193.52,482.92 L194.32,483.02 L195.13,483.32 L195.93,483.74 L196.74,484.20 L197.54,484.60 L198.35,484.84 L199.15,484.87 L199.95,484.68 L200.75,484.32 L201.55,483.86 L202.35,483.40 L203.15,483.04 L203.95,482.86 L204.75,482.89 L205.56,483.13 L206.36,483.52 L207.17,483.98 L207.97,484.41 L208.78,484.71 L209.58,484.81 L210.38,484.70 L211.18,484.39 L211.98,483.95 L212.78,483.48 L213.58,483.08 L214.38,482.83 L215.19,482.79 L215.99,482.96 L216.79,483.31 L217.60,483.76" fill="none" stroke="#2ba8de" stroke-width="1.2" stroke-linecap="round"/>
<path d="M193.53,481.60 L193.05,482.30 L192.67,482.99 L192.47,483.70 L192.48,484.41 L192.70,485.13 L193.08,485.85 L193.52,486.57 L193.93,487.30 L194.21,488.02 L194.30,488.73 L194.17,489.44 L193.84,490.14 L193.39,490.83 L192.90,491.53 L192.48,492.23 L192.21,492.93 L192.15,493.64 L192.31,494.35 L192.64,495.08 L193.07,495.80 L193.50,496.52 L193.83,497.25 L193.99,497.96 L193.93,498.67 L193.66,499.37 L193.24,500.07 L192.76,500.77 L192.30,501.46 L191.98,502.16 L191.85,502.87 L191.93,503.58 L192.21,504.30 L192.62,505.03 L193.06,505.75 L193.44,506.47 L193.66,507.19 L193.67,507.90 L193.47,508.61 L193.09,509.30 L192.62,510.00" fill="none" stroke="#2ba8de" stroke-width="1.2" stroke-linecap="round"/>
<path d="M185.50,488.70 L186.29,489.17 L187.09,489.54 L187.89,489.74 L188.69,489.72 L189.50,489.50 L190.31,489.12 L191.12,488.67 L191.93,488.26 L192.74,487.97 L193.55,487.88 L194.35,488.01 L195.14,488.33 L195.94,488.78 L196.73,489.26 L197.52,489.68 L198.32,489.94 L199.12,489.99 L199.93,489.83 L200.74,489.49 L201.55,489.06 L202.36,488.62 L203.17,488.29 L203.98,488.12 L204.78,488.18 L205.58,488.44 L206.37,488.86 L207.16,489.34 L207.96,489.79 L208.75,490.11 L209.55,490.24 L210.36,490.15 L211.17,489.86 L211.98,489.45 L212.79,489.00 L213.60,488.62 L214.41,488.39 L215.21,488.38 L216.01,488.57 L216.81,488.95 L217.60,489.42" fill="none" stroke="#2ba8de" stroke-width="1.2" stroke-linecap="round"/>
<path d="M198.88,481.60 L199.32,482.31 L199.68,483.02 L199.85,483.74 L199.81,484.45 L199.56,485.15 L199.16,485.86 L198.69,486.57 L198.25,487.28 L197.95,487.98 L197.83,488.69 L197.94,489.40 L198.24,490.12 L198.67,490.83 L199.13,491.54 L199.52,492.25 L199.76,492.97 L199.79,493.68 L199.61,494.38 L199.25,495.09 L198.79,495.80 L198.34,496.51 L197.98,497.22 L197.79,497.92 L197.83,498.63 L198.07,499.35 L198.46,500.06 L198.92,500.77 L199.35,501.48 L199.65,502.20 L199.75,502.91 L199.64,503.62 L199.33,504.32 L198.90,505.03 L198.43,505.74 L198.03,506.45 L197.78,507.15 L197.74,507.86 L197.91,508.58 L198.26,509.29 L198.71,510.00" fill="none" stroke="#2ba8de" stroke-width="1.2" stroke-linecap="round"/>
<path d="M185.50,493.43 L186.30,492.98 L187.11,492.63 L187.91,492.45 L188.71,492.49 L189.51,492.74 L190.32,493.14 L191.12,493.60 L191.92,494.04 L192.72,494.34 L193.52,494.45 L194.33,494.35 L195.13,494.05 L195.93,493.62 L196.74,493.15 L197.54,492.76 L198.34,492.51 L199.15,492.48 L199.95,492.66 L200.75,493.02 L201.55,493.47 L202.35,493.93 L203.15,494.29 L203.95,494.47 L204.76,494.43 L205.56,494.19 L206.36,493.80 L207.17,493.33 L207.97,492.90 L208.77,492.60 L209.58,492.49 L210.38,492.61 L211.18,492.91 L211.98,493.34 L212.78,493.81 L213.59,494.21 L214.39,494.46 L215.19,494.50 L215.99,494.32 L216.80,493.97 L217.60,493.51" fill="none" stroke="#2ba8de" stroke-width="1.2" stroke-linecap="round"/>
<path d="M204.22,481.60 L204.68,482.31 L205.04,483.02 L205.22,483.73 L205.19,484.44 L204.95,485.15 L204.55,485.86 L204.09,486.57 L203.66,487.28 L203.36,487.99 L203.26,488.70 L203.37,489.41 L203.67,490.12 L204.11,490.83 L204.58,491.54 L204.98,492.25 L205.22,492.96 L205.26,493.67 L205.09,494.38 L204.74,495.09 L204.29,495.80 L203.83,496.51 L203.48,497.22 L203.31,497.93 L203.35,498.64 L203.59,499.35 L203.99,500.06 L204.46,500.77 L204.90,501.48 L205.20,502.19 L205.32,502.90 L205.21,503.61 L204.91,504.32 L204.48,505.03 L204.02,505.74 L203.62,506.45 L203.38,507.16 L203.35,507.87 L203.53,508.58 L203.89,509.29 L204.35,510.00" fill="none" stroke="#2ba8de" stroke-width="1.2" stroke-linecap="round"/>
<path d="M185.50,498.17 L186.31,497.72 L187.11,497.38 L187.92,497.21 L188.72,497.25 L189.52,497.51 L190.32,497.91 L191.12,498.39 L191.91,498.83 L192.71,499.14 L193.51,499.26 L194.32,499.16 L195.12,498.86 L195.93,498.44 L196.74,497.99 L197.55,497.60 L198.35,497.36 L199.15,497.33 L199.95,497.52 L200.75,497.89 L201.55,498.35 L202.35,498.81 L203.15,499.18 L203.95,499.36 L204.75,499.34 L205.55,499.10 L206.36,498.71 L207.17,498.26 L207.98,497.83 L208.78,497.54 L209.59,497.44 L210.39,497.56 L211.19,497.87 L211.98,498.31 L212.78,498.79 L213.58,499.19 L214.38,499.45 L215.18,499.49 L215.99,499.32 L216.79,498.98 L217.60,498.53" fill="none" stroke="#2ba8de" stroke-width="1.2" stroke-linecap="round"/>
<path d="M209.57,481.60 L209.13,482.31 L208.77,483.02 L208.60,483.74 L208.64,484.45 L208.89,485.15 L209.29,485.86 L209.76,486.57 L210.20,487.28 L210.50,487.98 L210.62,488.69 L210.51,489.40 L210.21,490.12 L209.78,490.83 L209.32,491.54 L208.93,492.25 L208.69,492.97 L208.66,493.68 L208.84,494.38 L209.20,495.09 L209.66,495.80 L210.11,496.51 L210.47,497.22 L210.66,497.92 L210.62,498.63 L210.38,499.35 L209.99,500.06 L209.53,500.77 L209.10,501.48 L208.80,502.20 L208.70,502.91 L208.81,503.62 L209.12,504.32 L209.55,505.03 L210.02,505.74 L210.42,506.45 L210.67,507.15 L210.71,507.86 L210.54,508.58 L210.19,509.29 L209.74,510.00" fill="none" stroke="#2ba8de" stroke-width="1.2" stroke-linecap="round"/>
<path d="M185.50,502.90 L186.30,503.36 L187.10,503.72 L187.90,503.91 L188.70,503.88 L189.51,503.64 L190.31,503.25 L191.12,502.79 L191.93,502.37 L192.73,502.07 L193.53,501.97 L194.34,502.09 L195.14,502.40 L195.93,502.83 L196.73,503.31 L197.53,503.71 L198.33,503.96 L199.13,504.01 L199.94,503.83 L200.74,503.49 L201.55,503.04 L202.36,502.59 L203.16,502.24 L203.97,502.07 L204.77,502.12 L205.57,502.37 L206.37,502.77 L207.17,503.24 L207.96,503.68 L208.76,503.99 L209.57,504.11 L210.37,504.01 L211.17,503.71 L211.98,503.29 L212.79,502.83 L213.59,502.44 L214.40,502.20 L215.20,502.17 L216.00,502.35 L216.80,502.72 L217.60,503.18" fill="none" stroke="#2ba8de" stroke-width="1.2" stroke-linecap="round"/>
<path d="M214.92,481.60 L215.36,482.32 L215.69,483.04 L215.85,483.76 L215.80,484.47 L215.53,485.17 L215.11,485.87 L214.63,486.57 L214.18,487.26 L213.85,487.96 L213.72,488.67 L213.81,489.38 L214.10,490.10 L214.51,490.83 L214.95,491.55 L215.33,492.27 L215.55,492.99 L215.57,493.70 L215.37,494.40 L215.00,495.10 L214.52,495.80 L214.05,496.50 L213.67,497.20 L213.47,497.90 L213.49,498.61 L213.71,499.33 L214.09,500.05 L214.54,500.77 L214.95,501.50 L215.23,502.22 L215.32,502.93 L215.19,503.64 L214.87,504.34 L214.42,505.03 L213.93,505.73 L213.51,506.43 L213.25,507.13 L213.19,507.84 L213.35,508.56 L213.69,509.28 L214.12,510.00" fill="none" stroke="#2ba8de" stroke-width="1.2" stroke-linecap="round"/>
<path d="M185.50,507.63 L186.31,507.19 L187.12,506.85 L187.92,506.68 L188.72,506.72 L189.52,506.98 L190.32,507.39 L191.12,507.86 L191.91,508.31 L192.71,508.62 L193.51,508.74 L194.32,508.64 L195.12,508.35 L195.93,507.93 L196.74,507.47 L197.55,507.09 L198.35,506.85 L199.16,506.83 L199.96,507.02 L200.75,507.38 L201.55,507.85 L202.35,508.31 L203.14,508.68 L203.94,508.86 L204.75,508.84 L205.55,508.61 L206.36,508.22 L207.17,507.76 L207.98,507.34 L208.78,507.05 L209.59,506.95 L210.39,507.07 L211.19,507.38 L211.98,507.83 L212.78,508.30 L213.58,508.71 L214.38,508.97 L215.18,509.01 L215.98,508.85 L216.79,508.50 L217.60,508.06" fill="none" stroke="#2ba8de" stroke-width="1.2" stroke-linecap="round"/>
<ellipse cx="193.53" cy="487.85" rx="2.1" ry="1.51" fill="#f1b3b0" opacity="0.95" transform="rotate(-25 193.53 487.85)"/>
<path d="M192.06,488.69 L195.00,487.01 M192.69,486.90 L194.37,488.79" stroke="#c8464a" stroke-width="0.6" fill="none"/>
<circle cx="193.53" cy="487.85" r="0.55" fill="#7a3a55"/>
<ellipse cx="201.55" cy="487.28" rx="2.1" ry="1.51" fill="#f1b3b0" opacity="0.95" transform="rotate(-25 201.55 487.28)"/>
<path d="M200.08,488.12 L203.02,486.44 M200.71,486.34 L202.39,488.23" stroke="#c8464a" stroke-width="0.6" fill="none"/>
<circle cx="201.55" cy="487.28" r="0.55" fill="#7a3a55"/>
<ellipse cx="210.54" cy="486.14" rx="2.1" ry="1.51" fill="#f1b3b0" opacity="0.95" transform="rotate(-25 210.54 486.14)"/>
<path d="M209.07,486.98 L212.01,485.30 M209.70,485.20 L211.38,487.09" stroke="#c8464a" stroke-width="0.6" fill="none"/>
<circle cx="210.54" cy="486.14" r="0.55" fill="#7a3a55"/>
<ellipse cx="192.56" cy="496.37" rx="2.1" ry="1.51" fill="#f1b3b0" opacity="0.95" transform="rotate(-25 192.56 496.37)"/>
<path d="M191.09,497.21 L194.03,495.53 M191.72,495.42 L193.40,497.31" stroke="#c8464a" stroke-width="0.6" fill="none"/>
<circle cx="192.56" cy="496.37" r="0.55" fill="#7a3a55"/>
<ellipse cx="203.48" cy="494.66" rx="2.1" ry="1.51" fill="#f1b3b0" opacity="0.95" transform="rotate(-25 203.48 494.66)"/>
<path d="M202.01,495.50 L204.95,493.82 M202.64,493.72 L204.32,495.61" stroke="#c8464a" stroke-width="0.6" fill="none"/>
<circle cx="203.48" cy="494.66" r="0.55" fill="#7a3a55"/>
<ellipse cx="211.82" cy="494.38" rx="2.1" ry="1.51" fill="#f1b3b0" opacity="0.95" transform="rotate(-25 211.82 494.38)"/>
<path d="M210.35,495.22 L213.29,493.54 M210.98,493.44 L212.66,495.32" stroke="#c8464a" stroke-width="0.6" fill="none"/>
<circle cx="211.82" cy="494.38" r="0.55" fill="#7a3a55"/>
<ellipse cx="191.92" cy="504.32" rx="2.1" ry="1.51" fill="#f1b3b0" opacity="0.95" transform="rotate(-25 191.92 504.32)"/>
<path d="M190.45,505.16 L193.39,503.48 M191.08,503.38 L192.76,505.26" stroke="#c8464a" stroke-width="0.6" fill="none"/>
<circle cx="191.92" cy="504.32" r="0.55" fill="#7a3a55"/>
<ellipse cx="199.94" cy="500.91" rx="2.1" ry="1.51" fill="#f1b3b0" opacity="0.95" transform="rotate(-25 199.94 500.91)"/>
<path d="M198.47,501.75 L201.41,500.07 M199.10,499.97 L200.78,501.86" stroke="#c8464a" stroke-width="0.6" fill="none"/>
<circle cx="199.94" cy="500.91" r="0.55" fill="#7a3a55"/>
<ellipse cx="209.57" cy="503.18" rx="2.1" ry="1.51" fill="#f1b3b0" opacity="0.95" transform="rotate(-25 209.57 503.18)"/>
<path d="M208.10,504.02 L211.04,502.34 M208.73,502.24 L210.41,504.13" stroke="#c8464a" stroke-width="0.6" fill="none"/>
<circle cx="209.57" cy="503.18" r="0.55" fill="#7a3a55"/>
<line x1="520.3" y1="235.9" x2="567.2" y2="200.6" stroke="#9b1f2b" stroke-width="0.85" stroke-dasharray="1.1 0.5"/>
<line x1="521.2" y1="242.5" x2="573.7" y2="249.0" stroke="#9b1f2b" stroke-width="0.85" stroke-dasharray="1.1 0.5"/>
<line x1="517.0" y1="287.7" x2="567.2" y2="258.9" stroke="#9b1f2b" stroke-width="0.85" stroke-dasharray="1.1 0.5"/>
<line x1="525.3" y1="297.5" x2="570.5" y2="308.2" stroke="#9b1f2b" stroke-width="0.85" stroke-dasharray="1.1 0.5"/>
<rect x="566.0" y="197.4" width="52.5" height="51.7" rx="7" fill="#fff" stroke="#7d8ca6" stroke-width="0.8"/>
<rect x="566.4" y="257.3" width="53.5" height="51.9" rx="7" fill="#fff" stroke="#7d8ca6" stroke-width="0.8"/>
<path d="M590.9,249.6 h2.8 v3.6 h1.2 l-2.6,3.5 l-2.6,-3.5 h1.2 Z" fill="#d42a33"/>
<text x="569.4" y="207.8" font-size="7" fill="#222" font-family="Liberation Sans, sans-serif">a</text>
<text x="569.6" y="266.6" font-size="7" fill="#222" font-family="Liberation Sans, sans-serif">c</text>
<path d="M591.12,203.38 C590.84,204.63 590.70,207.98 589.44,210.90 C588.19,213.83 586.31,218.57 583.59,220.94 C580.87,223.31 574.88,224.42 573.14,225.12" fill="none" stroke="#9c3038" stroke-width="0.85" stroke-linecap="round"/>
<path d="M589.86,209.65 C590.63,209.02 592.37,206.72 594.46,205.89 C596.55,205.05 601.08,204.84 602.40,204.63" fill="none" stroke="#9c3038" stroke-width="0.85" stroke-linecap="round"/>
<path d="M572.72,217.17 C573.98,217.66 578.30,218.64 580.25,220.10 C582.20,221.56 583.59,223.72 584.43,225.95 C585.26,228.18 584.43,231.25 585.26,233.48 C586.10,235.71 587.35,237.87 589.44,239.33 C591.54,240.79 596.41,241.77 597.81,242.26" fill="none" stroke="#9c3038" stroke-width="0.85" stroke-linecap="round"/>
<path d="M581.92,234.31 C583.45,234.04 588.47,234.04 591.12,232.64 C593.76,231.25 595.86,227.90 597.81,225.95 C599.76,224.00 600.31,222.19 602.82,220.94 C605.33,219.68 611.18,218.85 612.86,218.43" fill="none" stroke="#9c3038" stroke-width="0.85" stroke-linecap="round"/>
<path d="M603.66,217.59 C604.49,218.43 607.42,220.66 608.68,222.61 C609.93,224.56 610.77,228.18 611.18,229.30" fill="none" stroke="#9c3038" stroke-width="0.85" stroke-linecap="round"/>
<path d="M590.95,203.21 C591.26,204.14 592.48,207.88 592.79,208.81" fill="none" stroke="#9c3038" stroke-width="0.85" stroke-linecap="round"/>
<path d="M569.80,220.94 L570.10,221.08 L570.41,221.14 L570.63,221.03 L570.72,220.68 L570.71,220.16 L570.76,219.70 L571.04,219.52 L571.56,219.68 L572.13,219.89 L572.47,219.74 L572.53,219.16 L572.57,218.51 L572.91,218.29 L573.53,218.53 L574.11,218.71 L574.36,218.37 L574.42,217.66 L574.61,217.18 L575.10,217.26 L575.70,217.60 L576.13,217.64 L576.32,217.19 L576.46,216.56 L576.74,216.23 L577.16,216.39 L577.62,216.82 L578.01,217.05 L578.32,216.79 L578.61,216.21 L578.96,215.84 L579.36,216.04 L579.76,216.59 L580.14,216.89 L580.51,216.61 L580.89,216.04 L581.26,215.78 L581.64,216.09 L582.02,216.65 L582.39,216.87 L582.75,216.54 L583.08,216.00 L583.40,215.73 L583.74,215.92 L584.12,216.37 L584.51,216.66 L584.82,216.55 L585.03,216.12 L585.15,215.63 L585.29,215.32 L585.55,215.29 L585.93,215.46 L586.38,215.64 L586.75,215.67 L586.94,215.46 L586.95,215.06 L586.86,214.60 L586.82,214.22 L586.94,214.01 L587.27,213.97 L587.72,214.02 L588.14,214.03 L588.41,213.92 L588.47,213.66 L588.37,213.28 L588.22,212.87 L588.17,212.52 L588.29,212.31 L588.57,212.24 L588.94,212.28 L589.32,212.36 L589.61,212.40 L589.79,212.33 L589.88,212.13 L589.88,211.81 L589.84,211.45 L589.81,211.12 L589.85,210.88 L589.99,210.75 L590.23,210.74 L590.54,210.81 L590.86,210.91 L591.14,210.99 L591.35,210.99 L591.48,210.91 L591.54,210.74 L591.56,210.51 L591.58,210.23 L591.61,209.96 L591.70,209.72 L591.83,209.56 L592.00,209.48 L592.19,209.50 L592.38,209.62 L592.54,209.81 L592.65,210.05 L592.71,210.29 L592.73,210.50 L592.75,210.64 L592.83,210.71 L593.00,210.72 L593.29,210.69 L593.65,210.66 L594.00,210.67 L594.24,210.79 L594.31,211.02 L594.21,211.35 L594.01,211.74 L593.86,212.11 L593.90,212.38 L594.18,212.51 L594.62,212.55 L595.07,212.56 L595.36,212.66 L595.43,212.91 L595.32,213.30 L595.19,213.75 L595.19,214.13 L595.40,214.32 L595.77,214.30 L596.21,214.14 L596.58,214.00 L596.84,214.04 L596.97,214.37 L597.04,214.88 L597.17,215.34 L597.46,215.49 L597.88,215.28 L598.35,214.94 L598.73,214.83 L598.96,215.13 L599.12,215.70 L599.32,216.15 L599.65,216.20 L600.09,215.89 L600.54,215.55 L600.88,215.53 L601.09,215.89 L601.24,216.43 L601.43,216.81 L601.71,216.87 L602.07,216.64 L602.45,216.35 L602.79,216.20 L603.02,216.27 L603.16,216.53 L603.24,216.91 L603.30,217.29 L603.40,217.56 L603.56,217.68 L603.79,217.64 L604.07,217.50 L604.36,217.33 L604.64,217.19 L604.86,217.14 L605.02,217.19 L605.13,217.35 L605.18,217.58 L605.21,217.84 L605.23,218.10 L605.26,218.33 L605.31,218.51 L605.38,218.62 L605.48,218.68 L605.61,218.68 L605.74,218.65 L605.89,218.59 L606.03,218.52 L606.16,218.45" fill="none" stroke="#2fb55f" stroke-width="1.0" stroke-linecap="round" stroke-linejoin="round"/>
<path d="M569.80,228.88 L570.05,229.02 L570.33,229.12 L570.56,229.09 L570.71,228.85 L570.75,228.42 L570.78,227.93 L570.92,227.59 L571.27,227.58 L571.79,227.82 L572.28,228.00 L572.56,227.82 L572.64,227.28 L572.72,226.69 L572.98,226.44 L573.46,226.61 L573.98,226.92 L574.36,226.97 L574.55,226.62 L574.68,226.07 L574.87,225.65 L575.18,225.58 L575.54,225.82 L575.84,226.17 L576.07,226.44 L576.24,226.50 L576.45,226.36 L576.74,226.10 L577.09,225.85 L577.42,225.76 L577.66,225.91 L577.75,226.28 L577.75,226.74 L577.76,227.14 L577.91,227.35 L578.24,227.35 L578.69,227.21 L579.13,227.11 L579.41,227.18 L579.50,227.47 L579.47,227.92 L579.44,228.37 L579.54,228.68 L579.80,228.78 L580.17,228.67 L580.55,228.48 L580.86,228.32 L581.06,228.30 L581.19,228.46 L581.32,228.77 L581.49,229.12 L581.71,229.40 L581.96,229.51 L582.20,229.40 L582.40,229.10 L582.57,228.73 L582.73,228.41 L582.92,228.27 L583.16,228.33 L583.44,228.56 L583.75,228.84 L584.03,229.05 L584.25,229.07 L584.43,228.90 L584.58,228.58 L584.73,228.22 L584.91,227.94 L585.13,227.81 L585.36,227.87 L585.57,228.09 L585.74,228.39 L585.86,228.69 L585.94,228.92 L586.04,229.03 L586.19,229.02 L586.42,228.94 L586.70,228.82 L587.02,228.74 L587.31,228.74 L587.51,228.83 L587.60,229.02 L587.57,229.30 L587.46,229.62 L587.33,229.95 L587.27,230.23 L587.33,230.43 L587.55,230.53 L587.88,230.55 L588.26,230.52 L588.60,230.51 L588.82,230.58 L588.90,230.77 L588.87,231.09 L588.80,231.49 L588.80,231.88 L588.94,232.14 L589.22,232.19 L589.60,232.04 L590.00,231.79 L590.33,231.65 L590.56,231.77 L590.71,232.18 L590.86,232.68 L591.08,233.02 L591.41,232.99 L591.82,232.66 L592.23,232.32 L592.56,232.30 L592.80,232.68 L592.98,233.24 L593.20,233.60 L593.54,233.55 L593.98,233.21 L594.42,232.93 L594.75,232.98 L594.92,233.41 L595.01,233.95 L595.14,234.32 L595.43,234.37 L595.87,234.19 L596.36,234.03 L596.72,234.09 L596.84,234.43 L596.74,234.94 L596.62,235.42 L596.73,235.70 L597.14,235.77 L597.71,235.76 L598.14,235.87 L598.21,236.21 L597.99,236.72 L597.78,237.21 L597.87,237.52 L598.32,237.64 L598.90,237.68 L599.27,237.83 L599.29,238.17 L599.07,238.66 L598.89,239.13 L598.99,239.44 L599.38,239.53 L599.88,239.50 L600.30,239.48 L600.50,239.61 L600.52,239.93 L600.47,240.38 L600.48,240.82 L600.64,241.09 L600.96,241.10 L601.38,240.90 L601.78,240.68 L602.09,240.62 L602.28,240.82 L602.39,241.24 L602.50,241.70 L602.67,242.00 L602.93,242.04 L603.26,241.85 L603.60,241.56 L603.91,241.35 L604.15,241.33 L604.32,241.51 L604.45,241.82 L604.56,242.17 L604.67,242.45 L604.78,242.63 L604.92,242.68 L605.06,242.65 L605.21,242.58" fill="none" stroke="#2fb55f" stroke-width="1.0" stroke-linecap="round" stroke-linejoin="round"/>
<path d="M589.44,218.85 L589.39,219.05 L589.33,219.26 L589.32,219.47 L589.38,219.63 L589.56,219.71 L589.86,219.72 L590.23,219.68 L590.60,219.66 L590.87,219.73 L590.98,219.94 L590.92,220.30 L590.79,220.72 L590.71,221.11 L590.81,221.35 L591.11,221.43 L591.54,221.38 L591.96,221.32 L592.27,221.36 L592.39,221.55 L592.38,221.88 L592.30,222.27 L592.25,222.63 L592.30,222.89 L592.46,223.02 L592.70,223.04 L592.98,222.96 L593.26,222.81 L593.50,222.67 L593.69,222.57 L593.84,222.56 L593.96,222.64 L594.06,222.82 L594.15,223.07 L594.24,223.34 L594.34,223.59 L594.45,223.78 L594.57,223.88 L594.71,223.89 L594.88,223.81 L595.07,223.67 L595.30,223.52 L595.54,223.39 L595.79,223.32 L596.00,223.36 L596.15,223.49 L596.21,223.72 L596.17,224.02 L596.05,224.34 L595.91,224.63 L595.85,224.88 L595.98,225.05 L596.33,225.16 L596.79,225.27 L597.18,225.43 L597.29,225.71 L597.07,226.08 L596.71,226.49 L596.51,226.85 L596.68,227.12 L597.15,227.32 L597.64,227.52 L597.85,227.78 L597.70,228.11 L597.34,228.48 L597.05,228.82 L597.01,229.10 L597.23,229.30 L597.60,229.46 L597.95,229.60 L598.19,229.73 L598.30,229.86 L598.30,230.00" fill="none" stroke="#2fb55f" stroke-width="1.0" stroke-linecap="round" stroke-linejoin="round"/>
<path d="M599.48,211.74 L599.60,211.83 L599.77,211.93 L599.95,212.01 L600.13,212.03 L600.28,211.97 L600.38,211.80 L600.44,211.53 L600.47,211.19 L600.52,210.86 L600.62,210.61 L600.80,210.50 L601.04,210.54 L601.33,210.70 L601.61,210.90 L601.85,211.08 L602.02,211.17 L602.14,211.15 L602.23,211.05 L602.33,210.89 L602.45,210.72 L602.62,210.58 L602.84,210.51 L603.08,210.56 L603.29,210.70 L603.40,210.90 L603.38,211.13 L603.21,211.37 L602.91,211.59 L602.57,211.80 L602.36,212.02 L602.41,212.28 L602.72,212.59 L603.12,212.94 L603.29,213.29 L603.06,213.57 L602.54,213.81 L602.09,214.06 L602.05,214.39 L602.40,214.80 L602.80,215.23 L602.85,215.57 L602.46,215.84 L601.91,216.07 L601.61,216.35 L601.72,216.68 L602.10,217.05 L602.44,217.38 L602.53,217.65 L602.32,217.89 L601.93,218.11 L601.54,218.32 L601.33,218.54 L601.39,218.80 L601.66,219.07 L602.00,219.36 L602.24,219.63 L602.26,219.87 L602.05,220.09 L601.68,220.28 L601.31,220.48 L601.09,220.70 L601.11,220.95 L601.34,221.21 L601.69,221.47 L601.99,221.72 L602.10,221.96 L601.95,222.19 L601.62,222.43 L601.25,222.68 L601.02,222.95 L601.06,223.21 L601.36,223.46 L601.78,223.69 L602.11,223.93 L602.15,224.20 L601.89,224.51 L601.49,224.84 L601.23,225.16 L601.29,225.45 L601.67,225.70 L602.16,225.92 L602.45,226.17 L602.38,226.48 L602.03,226.84 L601.68,227.21 L601.59,227.53 L601.87,227.78 L602.35,227.97 L602.77,228.17 L602.90,228.43 L602.70,228.77 L602.36,229.15 L602.12,229.50 L602.17,229.78 L602.49,229.96 L602.94,230.09 L603.33,230.23 L603.50,230.43 L603.40,230.75 L603.14,231.15 L602.91,231.55 L602.92,231.85 L603.23,232.02 L603.71,232.09 L604.16,232.16 L604.39,232.34 L604.36,232.66 L604.15,233.06 L603.96,233.46 L603.92,233.77 L604.11,233.94 L604.47,234.00 L604.88,234.03 L605.22,234.07 L605.43,234.19 L605.48,234.38 L605.42,234.61 L605.30,234.86 L605.17,235.09 L605.07,235.29" fill="none" stroke="#2fb55f" stroke-width="1.0" stroke-linecap="round" stroke-linejoin="round"/>
<path d="M591.42,263.39 C591.71,264.61 591.85,268.65 593.15,270.73 C594.44,272.82 595.96,274.69 599.20,275.92 C602.44,277.14 610.36,277.72 612.59,278.08" fill="none" stroke="#9c3038" stroke-width="0.85" stroke-linecap="round"/>
<path d="M588.40,271.60 C589.33,270.73 591.78,267.64 594.01,266.41 C596.24,265.19 600.49,264.61 601.79,264.25" fill="none" stroke="#9c3038" stroke-width="0.85" stroke-linecap="round"/>
<path d="M572.41,277.65 C573.85,278.08 578.97,278.51 581.05,280.24 C583.14,281.97 584.37,285.57 584.94,288.01 C585.52,290.46 584.58,293.77 584.51,294.92" fill="none" stroke="#9c3038" stroke-width="0.85" stroke-linecap="round"/>
<path d="M572.41,285.42 C573.57,285.13 577.31,284.70 579.33,283.69 C581.34,282.69 583.65,280.09 584.51,279.37" fill="none" stroke="#9c3038" stroke-width="0.85" stroke-linecap="round"/>
<path d="M581.92,294.06 C583.36,293.92 588.11,294.20 590.56,293.20 C593.01,292.19 595.16,289.74 596.60,288.01 C598.04,286.29 598.76,283.69 599.20,282.83" fill="none" stroke="#9c3038" stroke-width="0.85" stroke-linecap="round"/>
<path d="M585.37,294.06 C586.09,294.92 587.68,297.95 589.69,299.24 C591.71,300.54 596.17,301.40 597.47,301.84" fill="none" stroke="#9c3038" stroke-width="0.85" stroke-linecap="round"/>
<path d="M607.84,280.24 C608.27,280.96 610.00,283.05 610.43,284.56 C610.86,286.07 610.43,288.52 610.43,289.31" fill="none" stroke="#9c3038" stroke-width="0.85" stroke-linecap="round"/>
<path d="M577.60,268.57 L577.75,268.45 L577.88,268.29 L577.96,268.11 L577.91,267.89 L577.75,267.64 L577.54,267.37 L577.43,267.10 L577.53,266.83 L577.80,266.56 L578.05,266.29 L578.10,265.99 L577.92,265.67 L577.69,265.33 L577.64,265.01 L577.84,264.72 L578.16,264.47 L578.36,264.21 L578.35,263.93 L578.19,263.61 L578.05,263.29 L578.07,263.02 L578.25,262.82 L578.51,262.69 L578.77,262.61 L578.97,262.53 L579.10,262.40 L579.15,262.17 L579.17,261.88 L579.21,261.59 L579.34,261.36 L579.57,261.26 L579.87,261.28 L580.18,261.33 L580.44,261.33 L580.63,261.22 L580.76,261.00 L580.89,260.72 L581.04,260.49 L581.24,260.37 L581.46,260.38 L581.69,260.49 L581.90,260.64 L582.06,260.77 L582.20,260.85 L582.32,260.87 L582.45,260.84 L582.61,260.79 L582.81,260.77 L583.02,260.81 L583.22,260.92 L583.34,261.11 L583.33,261.37 L583.21,261.67 L583.08,261.97 L583.09,262.25 L583.30,262.49 L583.63,262.74 L583.83,263.03 L583.77,263.36 L583.52,263.73 L583.37,264.07 L583.50,264.39 L583.82,264.70 L584.04,265.02 L583.96,265.35 L583.70,265.68 L583.51,266.00 L583.55,266.29 L583.78,266.56 L584.01,266.82 L584.12,267.06 L584.07,267.28 L583.91,267.49 L583.72,267.68 L583.55,267.85 L583.46,268.02 L583.47,268.21 L583.55,268.41 L583.67,268.62 L583.77,268.84 L583.80,269.04 L583.76,269.21 L583.64,269.34 L583.47,269.45 L583.27,269.54 L583.09,269.63 L582.95,269.72 L582.86,269.82 L582.81,269.95 L582.81,270.09 L582.84,270.23 L582.88,270.38 L582.93,270.51 L582.97,270.63 L583.01,270.73 L583.03,270.82" fill="none" stroke="#2fb55f" stroke-width="1.3" stroke-linecap="round" stroke-linejoin="round"/>
<path d="M582.78,270.73 L582.71,271.10 L582.75,271.36 L583.03,271.39 L583.51,271.20 L583.95,271.09 L584.08,271.39 L583.96,272.01 L584.03,272.42 L584.57,272.29 L585.18,272.11 L585.30,272.52 L585.17,273.25 L585.50,273.43 L586.23,273.16 L586.54,273.38 L586.39,274.15 L586.61,274.49 L587.35,274.23 L587.76,274.35 L587.62,275.09 L587.72,275.54 L588.38,275.36 L588.91,275.31 L588.87,275.87 L588.76,276.51 L589.21,276.57 L589.94,276.37 L590.08,276.79 L589.88,277.56 L590.33,277.70 L591.11,277.52 L591.17,278.04 L591.01,278.79 L591.61,278.79 L592.31,278.71 L592.23,279.35 L592.15,279.99 L592.79,279.93 L593.41,279.87 L593.36,280.44 L593.21,281.08 L593.61,281.17 L594.26,281.00 L594.56,281.13 L594.46,281.61 L594.31,282.10 L594.39,282.34 L594.67,282.34" fill="none" stroke="#2fb55f" stroke-width="2.0" stroke-linecap="round" stroke-linejoin="round"/>
<path d="M582.78,270.73 C583.79,271.60 586.81,274.02 588.83,275.92 C590.85,277.82 593.87,281.10 594.88,282.14" fill="none" stroke="#d0584c" stroke-width="0.7" stroke-dasharray="0.7 0.9" opacity="0.9"/>
<path d="M594.88,282.14 L594.97,282.18 L595.07,282.22 L595.19,282.25 L595.31,282.26 L595.42,282.25 L595.53,282.19 L595.63,282.09 L595.71,281.96 L595.80,281.79 L595.88,281.61 L595.98,281.45 L596.09,281.34 L596.24,281.28 L596.41,281.29 L596.60,281.35 L596.79,281.43 L596.98,281.51 L597.15,281.56 L597.30,281.54 L597.43,281.47 L597.54,281.35 L597.65,281.21 L597.76,281.06 L597.88,280.92 L598.00,280.83 L598.14,280.78 L598.29,280.78 L598.44,280.85 L598.58,280.96 L598.73,281.09 L598.87,281.23 L599.01,281.33 L599.15,281.38 L599.29,281.37 L599.44,281.31 L599.59,281.21 L599.75,281.09 L599.90,280.99 L600.04,280.92 L600.18,280.89 L600.30,280.91 L600.41,280.97 L600.51,281.06 L600.61,281.16 L600.69,281.26 L600.77,281.35 L600.84,281.42 L600.91,281.48" fill="none" stroke="#2fb55f" stroke-width="1.3" stroke-linecap="round" stroke-linejoin="round"/>
<path d="M589.26,283.87 L589.17,283.99 L589.08,284.13 L589.01,284.27 L588.99,284.40 L589.04,284.50 L589.18,284.56 L589.41,284.58 L589.69,284.57 L589.97,284.58 L590.19,284.63 L590.28,284.75 L590.23,284.94 L590.07,285.19 L589.88,285.45 L589.73,285.69 L589.72,285.86 L589.86,285.95 L590.12,286.00 L590.45,286.03 L590.73,286.08 L590.91,286.18 L590.95,286.33 L590.85,286.51 L590.67,286.69 L590.45,286.87 L590.25,287.02 L590.14,287.16 L590.16,287.28 L590.31,287.41 L590.57,287.53 L590.86,287.67 L591.07,287.82 L591.15,287.98 L591.07,288.13 L590.85,288.27 L590.57,288.40 L590.31,288.53 L590.15,288.66 L590.13,288.79 L590.23,288.92 L590.42,289.06 L590.64,289.20 L590.83,289.32 L590.98,289.44 L591.05,289.53 L591.06,289.62 L591.02,289.69 L590.95,289.75" fill="none" stroke="#2fb55f" stroke-width="2.2" stroke-linecap="round" stroke-linejoin="round"/>
<path d="M589.26,283.87 C589.48,284.34 590.34,285.74 590.56,286.72 C590.77,287.70 590.56,289.24 590.56,289.74" fill="none" stroke="#d0584c" stroke-width="0.7" stroke-dasharray="0.7 0.9" opacity="0.9"/>
<path d="M587.10,290.17 L586.95,290.23 L586.78,290.30 L586.63,290.40 L586.54,290.54 L586.51,290.73 L586.56,290.98 L586.64,291.26 L586.71,291.54 L586.69,291.78 L586.52,291.97 L586.24,292.10 L585.91,292.21 L585.65,292.37 L585.53,292.59 L585.56,292.89 L585.68,293.23 L585.77,293.54 L585.73,293.79 L585.55,293.98 L585.27,294.12 L584.98,294.26 L584.76,294.42 L584.67,294.63 L584.70,294.86 L584.81,295.09 L584.95,295.32 L585.05,295.53 L585.09,295.72 L585.05,295.89 L584.93,296.04 L584.75,296.18 L584.56,296.32 L584.39,296.47 L584.26,296.63 L584.22,296.80 L584.25,296.98 L584.36,297.16 L584.51,297.34 L584.67,297.52 L584.79,297.70 L584.85,297.88 L584.82,298.06 L584.70,298.24 L584.52,298.43 L584.34,298.63 L584.20,298.83 L584.16,299.04 L584.24,299.25 L584.43,299.47 L584.68,299.70 L584.87,299.94 L584.90,300.19 L584.74,300.48 L584.50,300.79 L584.33,301.10 L584.37,301.39 L584.62,301.66 L584.94,301.92 L585.13,302.20 L585.09,302.50 L584.88,302.83 L584.66,303.15 L584.60,303.44 L584.74,303.69 L585.01,303.92 L585.27,304.13 L585.42,304.35 L585.43,304.57 L585.33,304.79 L585.19,304.99 L585.05,305.17 L584.95,305.32" fill="none" stroke="#2fb55f" stroke-width="1.2" stroke-linecap="round" stroke-linejoin="round"/>
<path d="M594.01,290.43 L593.92,290.50 L593.81,290.58 L593.70,290.67 L593.62,290.77 L593.57,290.89 L593.56,291.03 L593.61,291.19 L593.71,291.37 L593.83,291.56 L593.95,291.76 L594.03,291.95 L594.03,292.12 L593.95,292.29 L593.79,292.44 L593.59,292.59 L593.39,292.73 L593.23,292.88 L593.14,293.05 L593.14,293.22 L593.22,293.41 L593.34,293.60 L593.46,293.78 L593.57,293.95 L593.63,294.11 L593.65,294.25 L593.60,294.39 L593.50,294.52 L593.36,294.65 L593.20,294.78 L593.04,294.91 L592.91,295.05 L592.83,295.19 L592.81,295.33 L592.85,295.49 L592.94,295.64 L593.05,295.79 L593.17,295.94 L593.28,296.09 L593.36,296.23 L593.39,296.36 L593.39,296.48 L593.34,296.59 L593.27,296.69 L593.19,296.78 L593.09,296.86 L593.00,296.94 L592.91,297.01 L592.84,297.07" fill="none" stroke="#2fb55f" stroke-width="1.2" stroke-linecap="round" stroke-linejoin="round"/>
<path d="M584.51,282.83 L584.59,282.87 L584.68,282.90 L584.78,282.93 L584.89,282.95 L585.00,282.95 L585.10,282.93 L585.20,282.86 L585.28,282.76 L585.36,282.63 L585.43,282.48 L585.51,282.32 L585.60,282.18 L585.70,282.07 L585.83,282.00 L585.97,281.99 L586.12,282.03 L586.28,282.10 L586.43,282.19 L586.57,282.28 L586.69,282.35 L586.79,282.40 L586.88,282.41 L586.97,282.40 L587.05,282.37 L587.15,282.32 L587.28,282.27 L587.42,282.22 L587.58,282.18 L587.74,282.17 L587.89,282.20 L588.01,282.28 L588.09,282.40 L588.15,282.55 L588.18,282.74 L588.19,282.92 L588.21,283.10 L588.25,283.25 L588.33,283.36 L588.43,283.44 L588.56,283.48 L588.71,283.50 L588.87,283.51 L589.02,283.52 L589.15,283.53 L589.26,283.55 L589.35,283.57 L589.41,283.60 L589.46,283.64" fill="none" stroke="#2fb55f" stroke-width="1.2" stroke-linecap="round" stroke-linejoin="round"/>
<path d="M603.34,276.35 L603.10,276.54 L602.93,276.74 L602.98,276.93 L603.30,277.08 L603.76,277.24 L604.03,277.44 L603.85,277.73 L603.40,278.08 L603.17,278.40 L603.51,278.65 L604.10,278.85 L604.26,279.14 L603.84,279.52 L603.43,279.91 L603.68,280.19 L604.31,280.41 L604.53,280.70 L604.11,281.09 L603.69,281.47 L603.88,281.75 L604.47,281.96 L604.79,282.21 L604.54,282.53 L604.09,282.87 L603.93,283.16 L604.24,283.38 L604.76,283.57 L605.02,283.79 L604.82,284.08 L604.37,284.40 L604.14,284.69 L604.36,284.92 L604.86,285.11 L605.21,285.32 L605.13,285.58 L604.72,285.89 L604.38,286.19 L604.44,286.44 L604.89,286.63 L605.34,286.82 L605.42,287.06 L605.10,287.36 L604.69,287.68 L604.59,287.95 L604.94,288.15 L605.45,288.33 L605.69,288.54 L605.48,288.83 L605.05,289.18 L604.85,289.49 L605.18,289.72 L605.75,289.89 L605.98,290.14 L605.65,290.51 L605.22,290.91 L605.29,291.20 L605.86,291.39 L606.30,291.60 L606.15,291.93 L605.68,292.34 L605.52,292.67 L605.91,292.87 L606.46,293.03 L606.67,293.25 L606.43,293.56 L606.04,293.90 L605.86,294.17 L606.03,294.35 L606.40,294.47 L606.76,294.57 L606.97,294.69 L607.02,294.82" fill="none" stroke="#2fb55f" stroke-width="2.4" stroke-linecap="round" stroke-linejoin="round"/>
<path d="M603.34,276.35 C603.52,277.43 604.06,280.74 604.38,282.83 C604.70,284.92 604.88,286.86 605.24,288.88 C605.60,290.89 606.32,293.92 606.54,294.92" fill="none" stroke="#d0584c" stroke-width="0.7" stroke-dasharray="0.7 0.9" opacity="0.9"/>
<path d="M601.79,276.78 L601.89,276.81 L602.00,276.82 L602.13,276.83 L602.25,276.82 L602.36,276.78 L602.45,276.70 L602.51,276.59 L602.55,276.43 L602.57,276.24 L602.58,276.03 L602.61,275.84 L602.68,275.67 L602.78,275.56 L602.94,275.51 L603.13,275.52 L603.34,275.57 L603.54,275.63 L603.72,275.69 L603.87,275.71 L603.99,275.67 L604.09,275.59 L604.17,275.46 L604.26,275.31 L604.37,275.16 L604.50,275.02 L604.63,274.91 L604.77,274.85 L604.92,274.87 L605.07,274.95 L605.22,275.09 L605.37,275.26 L605.52,275.42 L605.66,275.54 L605.80,275.58 L605.96,275.54 L606.13,275.44 L606.32,275.31 L606.53,275.19 L606.73,275.13 L606.92,275.16 L607.07,275.28 L607.16,275.48 L607.22,275.72 L607.24,275.96 L607.27,276.16 L607.35,276.30 L607.50,276.37 L607.74,276.42 L608.03,276.47 L608.31,276.60 L608.46,276.81 L608.41,277.13 L608.23,277.50 L608.11,277.84 L608.26,278.12 L608.65,278.34 L609.00,278.59 L609.04,278.93 L608.79,279.34 L608.60,279.73 L608.72,280.05 L609.11,280.31 L609.44,280.57 L609.46,280.90 L609.23,281.25 L609.01,281.59 L609.01,281.88 L609.23,282.10 L609.52,282.28 L609.75,282.44 L609.86,282.60 L609.88,282.75" fill="none" stroke="#2fb55f" stroke-width="1.2" stroke-linecap="round" stroke-linejoin="round"/>
<path d="M604.81,294.92 L604.68,295.00 L604.54,295.08 L604.41,295.19 L604.32,295.32 L604.30,295.50 L604.35,295.72 L604.46,295.97 L604.58,296.23 L604.63,296.48 L604.56,296.69 L604.37,296.86 L604.09,297.02 L603.81,297.18 L603.63,297.37 L603.60,297.60 L603.69,297.87 L603.85,298.14 L603.99,298.38 L604.05,298.59 L604.01,298.77 L603.88,298.94 L603.71,299.10 L603.56,299.27 L603.45,299.46 L603.41,299.65 L603.44,299.82 L603.53,299.96 L603.68,300.06 L603.85,300.12 L604.04,300.15 L604.23,300.16 L604.40,300.16 L604.55,300.19 L604.67,300.24 L604.77,300.34 L604.83,300.49 L604.88,300.68 L604.92,300.88 L604.97,301.09 L605.03,301.26 L605.11,301.40 L605.24,301.48 L605.39,301.51 L605.58,301.51 L605.79,301.50 L606.01,301.50 L606.21,301.54 L606.37,301.63 L606.48,301.76 L606.52,301.94 L606.51,302.17 L606.47,302.42 L606.43,302.67 L606.44,302.89 L606.53,303.06 L606.71,303.17 L606.96,303.25 L607.23,303.32 L607.47,303.41 L607.64,303.54 L607.71,303.72 L607.70,303.94 L607.65,304.19 L607.59,304.43 L607.56,304.65 L607.59,304.82 L607.67,304.95 L607.80,305.04 L607.95,305.11 L608.11,305.15 L608.26,305.19 L608.38,305.22" fill="none" stroke="#2fb55f" stroke-width="1.2" stroke-linecap="round" stroke-linejoin="round"/>
<path d="M607.84,294.92 L607.84,295.02 L607.84,295.13 L607.86,295.25 L607.88,295.36 L607.93,295.47 L608.00,295.56 L608.10,295.62 L608.23,295.67 L608.39,295.68 L608.57,295.68 L608.77,295.68 L608.96,295.68 L609.13,295.72 L609.26,295.79 L609.35,295.91 L609.40,296.08 L609.42,296.27 L609.42,296.48 L609.42,296.68 L609.44,296.86 L609.48,297.00 L609.56,297.11 L609.68,297.18 L609.82,297.23 L609.99,297.25 L610.18,297.28 L610.37,297.31 L610.55,297.36 L610.69,297.45 L610.78,297.57 L610.83,297.72 L610.82,297.91 L610.79,298.11 L610.75,298.32 L610.72,298.52 L610.73,298.69 L610.78,298.82 L610.87,298.93 L611.01,299.00 L611.18,299.06 L611.35,299.10 L611.52,299.14 L611.66,299.19 L611.78,299.24 L611.87,299.30 L611.94,299.36 L611.98,299.43 L612.00,299.50" fill="none" stroke="#2fb55f" stroke-width="1.2" stroke-linecap="round" stroke-linejoin="round"/>
<text x="621.6" y="218.2" font-size="5.93" font-weight="bold" fill="#111" font-family="Liberation Sans, sans-serif">Composite bioink</text>
<text x="627.2" y="225.1" font-size="5.75" font-weight="bold" fill="#c0222e" font-family="Liberation Sans, sans-serif">-</text><text x="637" y="225.1" font-size="5.75" font-weight="bold" fill="#c0222e" font-family="Liberation Sans, sans-serif">Albumin</text>
<text x="627.2" y="232.0" font-size="5.75" font-weight="bold" fill="#35b060" font-family="Liberation Sans, sans-serif">-</text><text x="637" y="232.0" font-size="5.75" font-weight="bold" fill="#35b060" font-family="Liberation Sans, sans-serif">Alginate</text>
<text x="622.4" y="272.2" font-size="5.75" font-weight="bold" fill="#111" font-family="Liberation Sans, sans-serif">Templated network</text>
<text x="627.2" y="278.9" font-size="5.75" font-weight="bold" fill="#111" font-family="Liberation Sans, sans-serif">-</text><text x="637" y="278.9" font-size="5.77" font-weight="bold" fill="#111" font-family="Liberation Sans, sans-serif">Physical crosslinking of</text>
<text x="637" y="285.7" font-size="5.77" font-weight="bold" fill="#111" font-family="Liberation Sans, sans-serif">alginate by <tspan fill="#d8333b">Ca</tspan><tspan fill="#d8333b" font-size="3.4" dy="-2">2+</tspan></text>
<rect x="510.97" y="235.08" width="10.19" height="7.56" fill="#fff" stroke="#777" stroke-width="0.45"/>
<path d="M473.18,255.13 C473.50,249.05 475.97,243.30 482.54,241.17 S501.44,241.66 508.01,237.06 S515.41,233.11 516.40,235.91 L516.40,241.66" fill="none" stroke="#9a2232" stroke-width="1.15" stroke-linecap="round"/>
<path d="M473.18,255.13 C473.50,249.05 475.97,243.30 482.54,241.17 S501.44,241.66 508.01,237.06 S515.41,233.11 516.40,235.91 L516.40,241.66" fill="none" stroke="#c96a74" stroke-width="0.4" stroke-linecap="round" opacity="0.7"/>
<path d="M505.55,242.97 L526.91,242.97 L518.86,274.85 L514.26,274.85 Z" fill="#8b80d2"/>
<path d="M510.32,242.97 L522.15,242.97 L518.46,274.85 L514.66,274.85 Z" fill="#3b2e9d"/>
<rect x="515.08" y="240.84" width="2.47" height="49.30" fill="#7c1c22"/>
<rect x="517.05" y="256.45" width="0.99" height="33.69" fill="#b7a02a"/>
<path d="M514.20,240.46 L518.60,240.46 L516.40,243.06 Z" fill="#8e1d2a"/>
<line x1="517.88" y1="256.78" x2="531.84" y2="256.78" stroke="#777" stroke-width="0.9"/>
<text x="532.6" y="259.7" font-size="6.7" font-weight="bold" fill="#111" font-family="Liberation Sans, sans-serif">Bioink</text>
<text x="501.0" y="309.7" font-size="5.62" font-weight="bold" fill="#111" font-family="Liberation Sans, sans-serif">Bioprinting</text>
<text x="463.6" y="262.3" font-size="5.8" font-weight="bold" fill="#111" font-family="Liberation Sans, sans-serif">CaCl<tspan font-size="3.4" dy="1">2</tspan></text>
<text x="492.5" y="233.0" font-size="7" fill="#222" font-family="Liberation Sans, sans-serif">b</text>
<path d="M516.40,290.14 q-2,1.2 -2.6,3.2 M516.40,290.14 q2,1.2 2.6,3.2 M516.40,290.14 q0,1.6 -0.4,3.2" fill="none" stroke="#777" stroke-width="0.35"/>
<g transform="rotate(-8 516.56 295.56)"><rect x="508.26" y="291.36" width="16.6" height="8.4" rx="1.6" fill="#ea8590"/>
<circle cx="509.36" cy="292.56" r="0.55" fill="#d95a6a" opacity="0.7"/>
<circle cx="509.36" cy="294.56" r="0.55" fill="#d95a6a" opacity="0.7"/>
<circle cx="509.36" cy="296.56" r="0.55" fill="#d95a6a" opacity="0.7"/>
<circle cx="509.36" cy="298.56" r="0.55" fill="#d95a6a" opacity="0.7"/>
<circle cx="511.16" cy="292.56" r="0.55" fill="#d95a6a" opacity="0.7"/>
<circle cx="511.16" cy="294.56" r="0.55" fill="#d95a6a" opacity="0.7"/>
<circle cx="511.16" cy="296.56" r="0.55" fill="#d95a6a" opacity="0.7"/>
<circle cx="511.16" cy="298.56" r="0.55" fill="#d95a6a" opacity="0.7"/>
<circle cx="512.96" cy="292.56" r="0.55" fill="#d95a6a" opacity="0.7"/>
<circle cx="512.96" cy="294.56" r="0.55" fill="#d95a6a" opacity="0.7"/>
<circle cx="512.96" cy="296.56" r="0.55" fill="#d95a6a" opacity="0.7"/>
<circle cx="512.96" cy="298.56" r="0.55" fill="#d95a6a" opacity="0.7"/>
<circle cx="514.76" cy="292.56" r="0.55" fill="#d95a6a" opacity="0.7"/>
<circle cx="514.76" cy="294.56" r="0.55" fill="#d95a6a" opacity="0.7"/>
<circle cx="514.76" cy="296.56" r="0.55" fill="#d95a6a" opacity="0.7"/>
<circle cx="514.76" cy="298.56" r="0.55" fill="#d95a6a" opacity="0.7"/>
<circle cx="516.56" cy="292.56" r="0.55" fill="#d95a6a" opacity="0.7"/>
<circle cx="516.56" cy="294.56" r="0.55" fill="#d95a6a" opacity="0.7"/>
<circle cx="516.56" cy="296.56" r="0.55" fill="#d95a6a" opacity="0.7"/>
<circle cx="516.56" cy="298.56" r="0.55" fill="#d95a6a" opacity="0.7"/>
<circle cx="518.36" cy="292.56" r="0.55" fill="#d95a6a" opacity="0.7"/>
<circle cx="518.36" cy="294.56" r="0.55" fill="#d95a6a" opacity="0.7"/>
<circle cx="518.36" cy="296.56" r="0.55" fill="#d95a6a" opacity="0.7"/>
<circle cx="518.36" cy="298.56" r="0.55" fill="#d95a6a" opacity="0.7"/>
<circle cx="520.16" cy="292.56" r="0.55" fill="#d95a6a" opacity="0.7"/>
<circle cx="520.16" cy="294.56" r="0.55" fill="#d95a6a" opacity="0.7"/>
<circle cx="520.16" cy="296.56" r="0.55" fill="#d95a6a" opacity="0.7"/>
<circle cx="520.16" cy="298.56" r="0.55" fill="#d95a6a" opacity="0.7"/>
<circle cx="521.96" cy="292.56" r="0.55" fill="#d95a6a" opacity="0.7"/>
<circle cx="521.96" cy="294.56" r="0.55" fill="#d95a6a" opacity="0.7"/>
<circle cx="521.96" cy="296.56" r="0.55" fill="#d95a6a" opacity="0.7"/>
<circle cx="521.96" cy="298.56" r="0.55" fill="#d95a6a" opacity="0.7"/>
<circle cx="523.76" cy="292.56" r="0.55" fill="#d95a6a" opacity="0.7"/>
<circle cx="523.76" cy="294.56" r="0.55" fill="#d95a6a" opacity="0.7"/>
<circle cx="523.76" cy="296.56" r="0.55" fill="#d95a6a" opacity="0.7"/>
<circle cx="523.76" cy="298.56" r="0.55" fill="#d95a6a" opacity="0.7"/>
</g>
<clipPath id="c6"><rect x="731.3" y="132.2" width="89.6" height="89.3"/></clipPath>
<rect x="731.3" y="132.2" width="89.6" height="89.3" fill="#0a0a0a"/>
<g clip-path="url(#c6)">
<path d="M746.80,131.20 C749.43,134.42 757.72,144.02 762.60,150.50 C767.48,156.98 771.85,163.32 776.10,170.10 C780.35,176.88 784.83,184.68 788.10,191.20 C791.37,197.72 793.87,203.95 795.70,209.20 C797.53,214.45 798.53,220.45 799.10,222.70 L819.50,222.70 C819.28,221.95 819.67,222.70 818.20,218.20 C816.73,213.70 813.70,203.22 810.70,195.70 C807.70,188.18 803.97,180.12 800.20,173.10 C796.43,166.08 792.62,160.58 788.10,153.60 C783.58,146.62 775.60,134.93 773.10,131.20 Z" fill="#323232"/>
<circle cx="777.30" cy="153.38" r="0.4" fill="#fff" opacity="0.56"/>
<circle cx="791.47" cy="174.39" r="0.6" fill="#fff" opacity="0.16"/>
<circle cx="799.77" cy="206.73" r="0.35" fill="#fff" opacity="0.24"/>
<circle cx="801.32" cy="196.03" r="0.6" fill="#fff" opacity="0.36"/>
<circle cx="790.01" cy="189.08" r="0.35" fill="#fff" opacity="0.54"/>
<circle cx="797.19" cy="178.76" r="0.3" fill="#fff" opacity="0.22"/>
<circle cx="798.63" cy="217.42" r="0.3" fill="#fff" opacity="0.52"/>
<circle cx="780.30" cy="156.18" r="0.5" fill="#fff" opacity="0.47"/>
<circle cx="804.82" cy="214.18" r="0.6" fill="#fff" opacity="0.35"/>
<circle cx="814.87" cy="215.47" r="0.3" fill="#fff" opacity="0.17"/>
<circle cx="785.29" cy="176.24" r="0.5" fill="#fff" opacity="0.50"/>
<circle cx="803.57" cy="208.32" r="0.5" fill="#fff" opacity="0.41"/>
<circle cx="790.43" cy="179.74" r="0.35" fill="#fff" opacity="0.56"/>
<circle cx="807.94" cy="192.90" r="0.4" fill="#fff" opacity="0.60"/>
<circle cx="791.76" cy="191.94" r="0.4" fill="#fff" opacity="0.58"/>
<circle cx="807.85" cy="212.72" r="0.35" fill="#fff" opacity="0.43"/>
<circle cx="803.88" cy="220.14" r="0.3" fill="#fff" opacity="0.18"/>
<circle cx="814.67" cy="208.20" r="0.3" fill="#fff" opacity="0.30"/>
<circle cx="775.14" cy="138.13" r="0.3" fill="#fff" opacity="0.28"/>
<circle cx="809.76" cy="200.62" r="0.3" fill="#fff" opacity="0.42"/>
<circle cx="799.49" cy="199.99" r="0.6" fill="#fff" opacity="0.30"/>
<circle cx="815.29" cy="210.60" r="0.6" fill="#fff" opacity="0.26"/>
<circle cx="750.43" cy="135.41" r="0.3" fill="#fff" opacity="0.42"/>
<circle cx="754.98" cy="134.99" r="0.5" fill="#fff" opacity="0.28"/>
<circle cx="782.16" cy="155.64" r="0.4" fill="#fff" opacity="0.29"/>
<circle cx="815.89" cy="217.52" r="0.5" fill="#fff" opacity="0.32"/>
<circle cx="803.35" cy="209.62" r="0.6" fill="#fff" opacity="0.46"/>
<circle cx="779.21" cy="141.33" r="0.6" fill="#fff" opacity="0.27"/>
<circle cx="801.52" cy="188.65" r="0.4" fill="#fff" opacity="0.35"/>
<circle cx="772.87" cy="155.18" r="0.4" fill="#fff" opacity="0.16"/>
<circle cx="788.38" cy="169.15" r="0.3" fill="#fff" opacity="0.32"/>
<circle cx="787.19" cy="184.64" r="0.4" fill="#fff" opacity="0.36"/>
<circle cx="795.97" cy="192.66" r="0.4" fill="#fff" opacity="0.48"/>
<circle cx="750.80" cy="134.17" r="0.3" fill="#fff" opacity="0.58"/>
<circle cx="776.02" cy="154.55" r="0.6" fill="#fff" opacity="0.42"/>
<circle cx="764.95" cy="147.99" r="0.4" fill="#fff" opacity="0.53"/>
<circle cx="784.47" cy="155.71" r="0.3" fill="#fff" opacity="0.50"/>
<circle cx="764.26" cy="134.60" r="0.35" fill="#fff" opacity="0.29"/>
<circle cx="782.44" cy="152.01" r="0.35" fill="#fff" opacity="0.30"/>
<circle cx="802.03" cy="192.55" r="0.3" fill="#fff" opacity="0.20"/>
<circle cx="777.37" cy="160.85" r="0.35" fill="#fff" opacity="0.35"/>
<circle cx="798.65" cy="208.34" r="0.4" fill="#fff" opacity="0.48"/>
<circle cx="776.66" cy="151.60" r="0.4" fill="#fff" opacity="0.25"/>
<circle cx="769.43" cy="142.96" r="0.35" fill="#fff" opacity="0.29"/>
<circle cx="805.95" cy="206.62" r="0.4" fill="#fff" opacity="0.30"/>
<circle cx="795.99" cy="205.89" r="0.6" fill="#fff" opacity="0.31"/>
<circle cx="764.20" cy="143.74" r="0.4" fill="#fff" opacity="0.36"/>
<circle cx="792.68" cy="188.64" r="0.6" fill="#fff" opacity="0.33"/>
<circle cx="800.05" cy="214.13" r="0.3" fill="#fff" opacity="0.36"/>
<circle cx="806.78" cy="206.30" r="0.6" fill="#fff" opacity="0.35"/>
<circle cx="816.26" cy="216.76" r="0.35" fill="#fff" opacity="0.16"/>
<circle cx="794.52" cy="172.84" r="0.6" fill="#fff" opacity="0.58"/>
<circle cx="801.30" cy="180.60" r="0.3" fill="#fff" opacity="0.54"/>
<circle cx="800.50" cy="218.62" r="0.35" fill="#fff" opacity="0.17"/>
<circle cx="810.28" cy="212.62" r="0.35" fill="#fff" opacity="0.55"/>
<circle cx="807.87" cy="212.27" r="0.3" fill="#fff" opacity="0.37"/>
<circle cx="768.77" cy="142.95" r="0.35" fill="#fff" opacity="0.45"/>
<circle cx="790.13" cy="178.92" r="0.6" fill="#fff" opacity="0.20"/>
<circle cx="780.56" cy="143.36" r="0.6" fill="#fff" opacity="0.36"/>
<circle cx="799.68" cy="201.83" r="0.35" fill="#fff" opacity="0.20"/>
<circle cx="798.55" cy="211.20" r="0.35" fill="#fff" opacity="0.51"/>
<circle cx="813.02" cy="214.24" r="0.3" fill="#fff" opacity="0.37"/>
<circle cx="791.99" cy="183.01" r="0.4" fill="#fff" opacity="0.26"/>
<circle cx="796.70" cy="187.21" r="0.3" fill="#fff" opacity="0.36"/>
<circle cx="792.40" cy="201.31" r="0.3" fill="#fff" opacity="0.50"/>
<circle cx="752.26" cy="136.31" r="0.5" fill="#fff" opacity="0.59"/>
<circle cx="796.98" cy="208.25" r="0.6" fill="#fff" opacity="0.37"/>
<circle cx="760.79" cy="146.18" r="0.5" fill="#fff" opacity="0.44"/>
<circle cx="791.89" cy="184.41" r="0.35" fill="#fff" opacity="0.59"/>
<circle cx="779.08" cy="170.35" r="0.3" fill="#fff" opacity="0.47"/>
<circle cx="775.10" cy="166.04" r="0.35" fill="#fff" opacity="0.17"/>
<circle cx="792.42" cy="173.21" r="0.6" fill="#fff" opacity="0.32"/>
<circle cx="805.76" cy="203.50" r="0.5" fill="#fff" opacity="0.17"/>
<circle cx="802.14" cy="188.04" r="0.4" fill="#fff" opacity="0.34"/>
<circle cx="798.78" cy="193.98" r="0.35" fill="#fff" opacity="0.25"/>
<circle cx="780.23" cy="156.24" r="0.5" fill="#fff" opacity="0.25"/>
<circle cx="757.80" cy="143.80" r="0.4" fill="#fff" opacity="0.32"/>
<circle cx="812.04" cy="212.11" r="0.4" fill="#fff" opacity="0.20"/>
<circle cx="808.50" cy="193.66" r="0.6" fill="#fff" opacity="0.51"/>
<circle cx="803.34" cy="191.61" r="0.6" fill="#fff" opacity="0.39"/>
<circle cx="807.96" cy="204.43" r="0.5" fill="#fff" opacity="0.21"/>
<circle cx="793.18" cy="201.11" r="0.3" fill="#fff" opacity="0.40"/>
<circle cx="795.63" cy="190.87" r="0.3" fill="#fff" opacity="0.30"/>
<circle cx="795.72" cy="208.05" r="0.3" fill="#fff" opacity="0.45"/>
<circle cx="813.40" cy="206.62" r="0.6" fill="#fff" opacity="0.28"/>
<circle cx="778.97" cy="140.10" r="0.6" fill="#fff" opacity="0.38"/>
<circle cx="792.27" cy="195.85" r="0.3" fill="#fff" opacity="0.57"/>
<circle cx="760.29" cy="137.64" r="0.6" fill="#fff" opacity="0.23"/>
<circle cx="778.34" cy="139.08" r="0.35" fill="#fff" opacity="0.35"/>
<circle cx="808.96" cy="194.51" r="0.4" fill="#fff" opacity="0.32"/>
<circle cx="782.16" cy="167.50" r="0.5" fill="#fff" opacity="0.58"/>
<circle cx="778.31" cy="165.60" r="0.5" fill="#fff" opacity="0.53"/>
<circle cx="806.39" cy="218.27" r="0.6" fill="#fff" opacity="0.49"/>
<circle cx="799.14" cy="192.17" r="0.5" fill="#fff" opacity="0.22"/>
<circle cx="794.45" cy="167.89" r="0.35" fill="#fff" opacity="0.19"/>
<circle cx="810.03" cy="198.79" r="0.6" fill="#fff" opacity="0.58"/>
<circle cx="802.44" cy="184.40" r="0.35" fill="#fff" opacity="0.27"/>
<circle cx="775.90" cy="149.93" r="0.4" fill="#fff" opacity="0.57"/>
<circle cx="805.74" cy="207.98" r="0.4" fill="#fff" opacity="0.45"/>
<circle cx="806.98" cy="208.32" r="0.6" fill="#fff" opacity="0.41"/>
<circle cx="771.42" cy="155.98" r="0.3" fill="#fff" opacity="0.27"/>
<circle cx="797.41" cy="203.76" r="0.6" fill="#fff" opacity="0.31"/>
<circle cx="787.44" cy="160.86" r="0.35" fill="#fff" opacity="0.34"/>
<circle cx="803.88" cy="194.28" r="0.35" fill="#fff" opacity="0.36"/>
<circle cx="810.77" cy="206.48" r="0.6" fill="#fff" opacity="0.16"/>
<circle cx="800.03" cy="220.56" r="0.5" fill="#fff" opacity="0.50"/>
<circle cx="796.97" cy="210.68" r="0.35" fill="#fff" opacity="0.55"/>
<circle cx="803.41" cy="189.89" r="0.3" fill="#fff" opacity="0.58"/>
<circle cx="800.02" cy="208.20" r="0.35" fill="#fff" opacity="0.50"/>
<circle cx="772.77" cy="144.44" r="0.3" fill="#fff" opacity="0.55"/>
<circle cx="785.76" cy="154.90" r="0.4" fill="#fff" opacity="0.23"/>
<circle cx="774.17" cy="140.30" r="0.3" fill="#fff" opacity="0.19"/>
<circle cx="800.29" cy="206.42" r="0.4" fill="#fff" opacity="0.35"/>
<circle cx="797.69" cy="197.53" r="0.3" fill="#fff" opacity="0.30"/>
<circle cx="787.45" cy="171.02" r="0.35" fill="#fff" opacity="0.44"/>
<circle cx="801.12" cy="198.27" r="0.35" fill="#fff" opacity="0.39"/>
<circle cx="763.05" cy="142.81" r="0.5" fill="#fff" opacity="0.20"/>
<circle cx="814.06" cy="211.16" r="0.3" fill="#fff" opacity="0.39"/>
<circle cx="803.53" cy="194.56" r="0.4" fill="#fff" opacity="0.49"/>
<circle cx="783.68" cy="158.50" r="0.4" fill="#fff" opacity="0.20"/>
<circle cx="804.27" cy="216.26" r="0.6" fill="#fff" opacity="0.39"/>
<circle cx="768.05" cy="142.28" r="0.4" fill="#fff" opacity="0.18"/>
<circle cx="784.81" cy="158.40" r="0.35" fill="#fff" opacity="0.44"/>
<circle cx="793.70" cy="197.19" r="0.4" fill="#fff" opacity="0.55"/>
<circle cx="790.25" cy="190.53" r="0.6" fill="#fff" opacity="0.21"/>
<circle cx="786.75" cy="161.71" r="0.6" fill="#fff" opacity="0.34"/>
<circle cx="772.72" cy="158.95" r="0.5" fill="#fff" opacity="0.29"/>
<circle cx="762.10" cy="147.90" r="0.35" fill="#fff" opacity="0.49"/>
<circle cx="798.03" cy="180.54" r="0.4" fill="#fff" opacity="0.19"/>
<circle cx="767.84" cy="156.31" r="0.35" fill="#fff" opacity="0.17"/>
<circle cx="785.52" cy="177.12" r="0.6" fill="#fff" opacity="0.31"/>
<circle cx="779.60" cy="161.82" r="0.6" fill="#fff" opacity="0.51"/>
<circle cx="765.23" cy="138.36" r="0.3" fill="#fff" opacity="0.22"/>
<circle cx="798.85" cy="184.72" r="0.6" fill="#fff" opacity="0.50"/>
<circle cx="794.32" cy="196.93" r="0.35" fill="#fff" opacity="0.41"/>
<circle cx="796.41" cy="191.84" r="0.35" fill="#fff" opacity="0.42"/>
<circle cx="767.94" cy="145.24" r="0.35" fill="#fff" opacity="0.40"/>
<circle cx="764.30" cy="147.36" r="0.4" fill="#fff" opacity="0.32"/>
<circle cx="787.37" cy="158.28" r="0.5" fill="#fff" opacity="0.55"/>
<circle cx="805.29" cy="216.69" r="0.6" fill="#fff" opacity="0.56"/>
<circle cx="780.40" cy="159.75" r="0.6" fill="#fff" opacity="0.46"/>
<circle cx="788.14" cy="158.85" r="0.5" fill="#fff" opacity="0.16"/>
<circle cx="776.48" cy="149.15" r="0.3" fill="#fff" opacity="0.50"/>
<circle cx="798.14" cy="191.11" r="0.6" fill="#fff" opacity="0.43"/>
<circle cx="780.50" cy="149.90" r="0.35" fill="#fff" opacity="0.17"/>
<circle cx="794.10" cy="176.74" r="0.5" fill="#fff" opacity="0.20"/>
<circle cx="782.55" cy="157.41" r="0.35" fill="#fff" opacity="0.21"/>
<circle cx="805.48" cy="202.72" r="0.3" fill="#fff" opacity="0.16"/>
<circle cx="796.43" cy="187.23" r="0.5" fill="#fff" opacity="0.39"/>
<circle cx="803.60" cy="214.95" r="0.4" fill="#fff" opacity="0.46"/>
<circle cx="778.32" cy="144.16" r="0.6" fill="#fff" opacity="0.50"/>
<circle cx="752.15" cy="135.22" r="0.4" fill="#fff" opacity="0.60"/>
<circle cx="764.05" cy="150.45" r="0.35" fill="#fff" opacity="0.35"/>
<circle cx="801.50" cy="199.56" r="0.3" fill="#fff" opacity="0.50"/>
<circle cx="793.92" cy="168.55" r="0.35" fill="#fff" opacity="0.33"/>
<circle cx="780.01" cy="174.32" r="0.5" fill="#fff" opacity="0.24"/>
<circle cx="779.81" cy="175.72" r="0.5" fill="#fff" opacity="0.49"/>
<circle cx="778.65" cy="167.93" r="0.3" fill="#fff" opacity="0.47"/>
<circle cx="780.87" cy="164.86" r="0.6" fill="#fff" opacity="0.31"/>
<circle cx="796.33" cy="167.96" r="0.35" fill="#fff" opacity="0.27"/>
<circle cx="791.97" cy="165.10" r="0.6" fill="#fff" opacity="0.24"/>
<circle cx="766.82" cy="150.83" r="0.5" fill="#fff" opacity="0.38"/>
<circle cx="789.66" cy="188.87" r="0.6" fill="#fff" opacity="0.23"/>
<circle cx="780.68" cy="175.83" r="0.3" fill="#fff" opacity="0.33"/>
<circle cx="770.23" cy="160.49" r="0.3" fill="#fff" opacity="0.26"/>
<circle cx="763.11" cy="135.68" r="0.35" fill="#fff" opacity="0.26"/>
<circle cx="778.13" cy="166.83" r="0.4" fill="#fff" opacity="0.43"/>
<circle cx="774.04" cy="163.03" r="0.3" fill="#fff" opacity="0.51"/>
<circle cx="790.45" cy="158.08" r="0.5" fill="#fff" opacity="0.51"/>
<circle cx="807.73" cy="217.79" r="0.6" fill="#fff" opacity="0.27"/>
<circle cx="806.32" cy="204.71" r="0.4" fill="#fff" opacity="0.29"/>
<circle cx="762.81" cy="137.25" r="0.3" fill="#fff" opacity="0.42"/>
<circle cx="748.68" cy="132.53" r="0.3" fill="#fff" opacity="0.16"/>
<circle cx="790.60" cy="176.97" r="0.35" fill="#fff" opacity="0.44"/>
<circle cx="800.45" cy="212.33" r="0.5" fill="#fff" opacity="0.30"/>
<circle cx="786.58" cy="174.80" r="0.3" fill="#fff" opacity="0.32"/>
<circle cx="804.31" cy="199.09" r="0.5" fill="#fff" opacity="0.19"/>
<circle cx="787.57" cy="158.32" r="0.3" fill="#fff" opacity="0.38"/>
<circle cx="793.82" cy="180.91" r="0.5" fill="#fff" opacity="0.23"/>
<circle cx="806.03" cy="198.04" r="0.6" fill="#fff" opacity="0.31"/>
<circle cx="780.03" cy="148.57" r="0.5" fill="#fff" opacity="0.25"/>
<circle cx="802.18" cy="201.57" r="0.4" fill="#fff" opacity="0.52"/>
<circle cx="796.74" cy="177.33" r="0.5" fill="#fff" opacity="0.58"/>
<circle cx="755.12" cy="136.00" r="0.3" fill="#fff" opacity="0.52"/>
<circle cx="771.57" cy="140.39" r="0.3" fill="#fff" opacity="0.29"/>
<circle cx="801.85" cy="185.66" r="0.3" fill="#fff" opacity="0.55"/>
<circle cx="804.66" cy="209.83" r="0.4" fill="#fff" opacity="0.60"/>
<circle cx="752.83" cy="132.35" r="0.3" fill="#fff" opacity="0.30"/>
<circle cx="779.41" cy="159.91" r="0.35" fill="#fff" opacity="0.26"/>
<circle cx="755.07" cy="136.54" r="0.35" fill="#fff" opacity="0.41"/>
<circle cx="754.45" cy="133.24" r="0.35" fill="#fff" opacity="0.25"/>
<circle cx="792.01" cy="182.26" r="0.6" fill="#fff" opacity="0.29"/>
<circle cx="811.45" cy="210.78" r="0.5" fill="#fff" opacity="0.23"/>
<circle cx="774.11" cy="139.24" r="0.3" fill="#fff" opacity="0.42"/>
<circle cx="797.45" cy="208.64" r="0.4" fill="#fff" opacity="0.19"/>
<circle cx="783.07" cy="173.61" r="0.6" fill="#fff" opacity="0.20"/>
<circle cx="793.93" cy="175.42" r="0.4" fill="#fff" opacity="0.33"/>
<circle cx="803.97" cy="191.04" r="0.4" fill="#fff" opacity="0.53"/>
<circle cx="801.86" cy="185.10" r="0.35" fill="#fff" opacity="0.20"/>
<circle cx="755.97" cy="132.87" r="0.3" fill="#fff" opacity="0.30"/>
<circle cx="779.39" cy="149.28" r="0.6" fill="#fff" opacity="0.46"/>
<circle cx="790.08" cy="164.65" r="0.3" fill="#fff" opacity="0.42"/>
<circle cx="771.33" cy="151.26" r="0.3" fill="#fff" opacity="0.30"/>
<circle cx="778.23" cy="170.54" r="0.35" fill="#fff" opacity="0.30"/>
<circle cx="795.58" cy="198.91" r="0.35" fill="#fff" opacity="0.54"/>
<circle cx="810.85" cy="220.01" r="0.6" fill="#fff" opacity="0.53"/>
<circle cx="776.86" cy="164.93" r="0.6" fill="#fff" opacity="0.58"/>
<circle cx="796.20" cy="175.29" r="0.5" fill="#fff" opacity="0.36"/>
<circle cx="785.03" cy="184.49" r="0.3" fill="#fff" opacity="0.23"/>
<circle cx="772.58" cy="140.73" r="0.4" fill="#fff" opacity="0.38"/>
<circle cx="764.05" cy="137.66" r="0.35" fill="#fff" opacity="0.49"/>
<circle cx="776.92" cy="156.76" r="0.4" fill="#fff" opacity="0.36"/>
<circle cx="780.36" cy="149.71" r="0.35" fill="#fff" opacity="0.20"/>
<circle cx="777.80" cy="158.84" r="0.3" fill="#fff" opacity="0.24"/>
<circle cx="797.14" cy="175.57" r="0.4" fill="#fff" opacity="0.59"/>
<circle cx="816.03" cy="219.39" r="0.4" fill="#fff" opacity="0.57"/>
<circle cx="797.30" cy="170.59" r="0.5" fill="#fff" opacity="0.39"/>
<circle cx="789.76" cy="180.44" r="0.4" fill="#fff" opacity="0.28"/>
<circle cx="797.82" cy="173.42" r="0.4" fill="#fff" opacity="0.49"/>
<circle cx="807.53" cy="214.98" r="0.3" fill="#fff" opacity="0.21"/>
<circle cx="793.06" cy="179.45" r="0.35" fill="#fff" opacity="0.58"/>
<circle cx="773.46" cy="132.37" r="0.5" fill="#fff" opacity="0.31"/>
<circle cx="805.29" cy="218.14" r="0.6" fill="#fff" opacity="0.17"/>
<circle cx="761.41" cy="148.67" r="0.5" fill="#fff" opacity="0.56"/>
<circle cx="806.50" cy="206.56" r="0.3" fill="#fff" opacity="0.35"/>
<circle cx="781.65" cy="155.49" r="0.5" fill="#fff" opacity="0.34"/>
<circle cx="766.98" cy="155.37" r="0.5" fill="#fff" opacity="0.17"/>
<circle cx="802.00" cy="220.84" r="0.6" fill="#fff" opacity="0.26"/>
<circle cx="775.97" cy="144.27" r="0.5" fill="#fff" opacity="0.38"/>
<circle cx="805.33" cy="206.16" r="0.4" fill="#fff" opacity="0.16"/>
<circle cx="763.34" cy="136.24" r="0.3" fill="#fff" opacity="0.55"/>
<circle cx="805.87" cy="212.85" r="0.6" fill="#fff" opacity="0.38"/>
<circle cx="787.01" cy="165.22" r="0.4" fill="#fff" opacity="0.23"/>
<circle cx="809.31" cy="193.06" r="0.6" fill="#fff" opacity="0.20"/>
<circle cx="801.26" cy="201.10" r="0.4" fill="#fff" opacity="0.51"/>
<circle cx="798.90" cy="172.47" r="0.35" fill="#fff" opacity="0.41"/>
<circle cx="758.71" cy="144.63" r="0.5" fill="#fff" opacity="0.53"/>
<circle cx="812.73" cy="205.86" r="0.6" fill="#fff" opacity="0.27"/>
<circle cx="783.09" cy="160.37" r="0.3" fill="#fff" opacity="0.37"/>
<circle cx="783.56" cy="157.11" r="0.4" fill="#fff" opacity="0.20"/>
<circle cx="795.94" cy="191.71" r="0.6" fill="#fff" opacity="0.37"/>
<circle cx="808.32" cy="199.18" r="0.5" fill="#fff" opacity="0.24"/>
<circle cx="800.55" cy="214.14" r="0.5" fill="#fff" opacity="0.57"/>
<circle cx="775.41" cy="167.50" r="0.35" fill="#fff" opacity="0.58"/>
<circle cx="803.83" cy="216.20" r="0.5" fill="#fff" opacity="0.40"/>
<circle cx="760.93" cy="135.36" r="0.5" fill="#fff" opacity="0.59"/>
<circle cx="759.16" cy="139.25" r="0.35" fill="#fff" opacity="0.48"/>
<circle cx="791.80" cy="194.34" r="0.3" fill="#fff" opacity="0.43"/>
<circle cx="794.03" cy="204.98" r="0.4" fill="#fff" opacity="0.59"/>
<circle cx="798.09" cy="193.79" r="0.5" fill="#fff" opacity="0.36"/>
<circle cx="780.64" cy="157.96" r="0.35" fill="#fff" opacity="0.26"/>
<circle cx="800.68" cy="217.42" r="0.35" fill="#fff" opacity="0.46"/>
<circle cx="787.08" cy="173.79" r="0.3" fill="#fff" opacity="0.21"/>
<circle cx="770.91" cy="137.06" r="0.35" fill="#fff" opacity="0.29"/>
<circle cx="790.08" cy="189.93" r="0.35" fill="#fff" opacity="0.17"/>
<circle cx="808.64" cy="217.71" r="0.5" fill="#fff" opacity="0.50"/>
<circle cx="780.53" cy="170.76" r="0.3" fill="#fff" opacity="0.28"/>
<circle cx="760.73" cy="143.89" r="0.35" fill="#fff" opacity="0.32"/>
<circle cx="809.42" cy="215.67" r="0.35" fill="#fff" opacity="0.15"/>
<circle cx="775.95" cy="165.21" r="0.5" fill="#fff" opacity="0.26"/>
<circle cx="793.28" cy="163.74" r="0.5" fill="#fff" opacity="0.20"/>
<circle cx="804.30" cy="207.57" r="0.4" fill="#fff" opacity="0.39"/>
<circle cx="803.95" cy="208.21" r="0.5" fill="#fff" opacity="0.36"/>
<circle cx="791.37" cy="180.09" r="0.6" fill="#fff" opacity="0.36"/>
<circle cx="790.55" cy="166.37" r="0.4" fill="#fff" opacity="0.57"/>
<circle cx="798.59" cy="207.70" r="0.35" fill="#fff" opacity="0.29"/>
<circle cx="797.32" cy="206.96" r="0.6" fill="#fff" opacity="0.59"/>
<circle cx="794.58" cy="168.63" r="0.3" fill="#fff" opacity="0.41"/>
<circle cx="762.07" cy="146.26" r="0.5" fill="#fff" opacity="0.60"/>
<circle cx="799.76" cy="193.21" r="0.4" fill="#fff" opacity="0.19"/>
<circle cx="791.45" cy="180.29" r="0.35" fill="#fff" opacity="0.42"/>
<circle cx="774.07" cy="151.65" r="0.6" fill="#fff" opacity="0.32"/>
<circle cx="777.70" cy="160.51" r="0.6" fill="#fff" opacity="0.50"/>
<circle cx="797.46" cy="196.56" r="0.4" fill="#fff" opacity="0.28"/>
<circle cx="803.67" cy="219.13" r="0.3" fill="#fff" opacity="0.42"/>
<circle cx="786.85" cy="151.90" r="0.35" fill="#fff" opacity="0.28"/>
<circle cx="807.15" cy="218.26" r="0.5" fill="#fff" opacity="0.30"/>
<circle cx="796.36" cy="202.39" r="0.6" fill="#fff" opacity="0.39"/>
<circle cx="790.68" cy="171.50" r="0.3" fill="#fff" opacity="0.34"/>
<circle cx="795.54" cy="181.14" r="0.4" fill="#fff" opacity="0.18"/>
<circle cx="802.82" cy="208.25" r="0.3" fill="#fff" opacity="0.31"/>
<circle cx="776.00" cy="151.30" r="0.3" fill="#fff" opacity="0.34"/>
<circle cx="809.64" cy="209.41" r="0.4" fill="#fff" opacity="0.16"/>
<circle cx="781.18" cy="165.31" r="0.5" fill="#fff" opacity="0.32"/>
<circle cx="805.57" cy="190.20" r="0.6" fill="#fff" opacity="0.37"/>
<circle cx="769.82" cy="160.98" r="0.3" fill="#fff" opacity="0.43"/>
<circle cx="759.77" cy="144.62" r="0.4" fill="#fff" opacity="0.35"/>
<circle cx="762.63" cy="149.72" r="0.4" fill="#fff" opacity="0.39"/>
<circle cx="807.89" cy="197.83" r="0.35" fill="#fff" opacity="0.35"/>
<circle cx="791.32" cy="192.94" r="0.5" fill="#fff" opacity="0.25"/>
<circle cx="765.19" cy="144.56" r="0.6" fill="#fff" opacity="0.24"/>
<circle cx="806.01" cy="205.50" r="0.3" fill="#fff" opacity="0.34"/>
<circle cx="800.77" cy="203.04" r="0.5" fill="#fff" opacity="0.52"/>
<circle cx="767.50" cy="148.55" r="0.5" fill="#fff" opacity="0.24"/>
<circle cx="798.89" cy="188.78" r="0.4" fill="#fff" opacity="0.35"/>
<circle cx="779.03" cy="140.84" r="0.3" fill="#fff" opacity="0.18"/>
<circle cx="810.58" cy="210.27" r="0.4" fill="#fff" opacity="0.18"/>
<circle cx="760.80" cy="133.04" r="0.5" fill="#fff" opacity="0.43"/>
<circle cx="770.92" cy="140.58" r="0.5" fill="#fff" opacity="0.55"/>
<circle cx="771.40" cy="152.31" r="0.5" fill="#fff" opacity="0.58"/>
<circle cx="771.3" cy="157.2" r="0.9" fill="#fff" opacity="0.9"/>
<circle cx="788.3" cy="168.2" r="1.0" fill="#fff" opacity="0.9"/>
<circle cx="794.3" cy="172.7" r="1.0" fill="#fff" opacity="0.9"/>
<circle cx="800.8" cy="176.7" r="0.9" fill="#fff" opacity="0.9"/>
<circle cx="801.8" cy="198.2" r="1.1" fill="#fff" opacity="0.9"/>
<circle cx="801.3" cy="205.2" r="0.9" fill="#fff" opacity="0.9"/>
<circle cx="815.8" cy="194.7" r="0.9" fill="#fff" opacity="0.9"/>
<circle cx="763.3" cy="149.2" r="0.8" fill="#fff" opacity="0.9"/>
<circle cx="778.3" cy="163.2" r="0.8" fill="#fff" opacity="0.9"/>
<circle cx="735.92" cy="178.31" r="0.3" fill="#fff" opacity="0.28"/>
<circle cx="776.59" cy="153.51" r="0.3" fill="#fff" opacity="0.26"/>
<circle cx="747.32" cy="205.26" r="0.3" fill="#fff" opacity="0.26"/>
<circle cx="813.02" cy="167.45" r="0.3" fill="#fff" opacity="0.16"/>
<circle cx="771.88" cy="217.69" r="0.3" fill="#fff" opacity="0.13"/>
<circle cx="782.30" cy="162.70" r="0.3" fill="#fff" opacity="0.21"/>
<circle cx="783.09" cy="164.63" r="0.3" fill="#fff" opacity="0.19"/>
<circle cx="759.32" cy="208.75" r="0.3" fill="#fff" opacity="0.21"/>
<circle cx="795.60" cy="178.99" r="0.3" fill="#fff" opacity="0.18"/>
<circle cx="795.50" cy="208.54" r="0.3" fill="#fff" opacity="0.22"/>
<circle cx="775.22" cy="208.19" r="0.3" fill="#fff" opacity="0.12"/>
<circle cx="740.52" cy="172.86" r="0.3" fill="#fff" opacity="0.28"/>
<circle cx="775.91" cy="207.16" r="0.3" fill="#fff" opacity="0.15"/>
<circle cx="798.47" cy="161.30" r="0.3" fill="#fff" opacity="0.13"/>
<circle cx="809.63" cy="192.80" r="0.3" fill="#fff" opacity="0.24"/>
<circle cx="752.37" cy="164.86" r="0.3" fill="#fff" opacity="0.13"/>
<circle cx="756.66" cy="162.96" r="0.3" fill="#fff" opacity="0.09"/>
<circle cx="817.25" cy="197.37" r="0.3" fill="#fff" opacity="0.13"/>
<circle cx="758.34" cy="147.59" r="0.3" fill="#fff" opacity="0.12"/>
<circle cx="774.28" cy="150.81" r="0.3" fill="#fff" opacity="0.26"/>
<circle cx="763.76" cy="152.88" r="0.3" fill="#fff" opacity="0.23"/>
<circle cx="778.53" cy="185.46" r="0.3" fill="#fff" opacity="0.17"/>
<circle cx="747.07" cy="159.06" r="0.3" fill="#fff" opacity="0.16"/>
<circle cx="738.30" cy="179.93" r="0.3" fill="#fff" opacity="0.18"/>
<circle cx="732.90" cy="147.91" r="0.3" fill="#fff" opacity="0.19"/>
<circle cx="768.64" cy="176.25" r="0.3" fill="#fff" opacity="0.17"/>
<circle cx="775.86" cy="175.39" r="0.3" fill="#fff" opacity="0.17"/>
<circle cx="786.40" cy="199.67" r="0.3" fill="#fff" opacity="0.11"/>
<circle cx="768.61" cy="209.13" r="0.3" fill="#fff" opacity="0.11"/>
<circle cx="759.90" cy="163.26" r="0.3" fill="#fff" opacity="0.11"/>
<circle cx="757.82" cy="188.21" r="0.3" fill="#fff" opacity="0.11"/>
<circle cx="813.35" cy="165.56" r="0.3" fill="#fff" opacity="0.09"/>
<circle cx="762.21" cy="188.69" r="0.3" fill="#fff" opacity="0.22"/>
<circle cx="793.78" cy="219.01" r="0.3" fill="#fff" opacity="0.21"/>
<circle cx="783.29" cy="192.54" r="0.3" fill="#fff" opacity="0.14"/>
<circle cx="760.09" cy="168.70" r="0.3" fill="#fff" opacity="0.28"/>
<circle cx="789.26" cy="214.41" r="0.3" fill="#fff" opacity="0.17"/>
<circle cx="781.02" cy="200.19" r="0.3" fill="#fff" opacity="0.17"/>
<circle cx="764.23" cy="148.35" r="0.3" fill="#fff" opacity="0.14"/>
<circle cx="748.13" cy="206.43" r="0.3" fill="#fff" opacity="0.24"/>
<circle cx="760.14" cy="146.63" r="0.3" fill="#fff" opacity="0.28"/>
<circle cx="774.55" cy="180.36" r="0.3" fill="#fff" opacity="0.18"/>
<circle cx="812.12" cy="181.40" r="0.3" fill="#fff" opacity="0.16"/>
<circle cx="795.72" cy="186.18" r="0.3" fill="#fff" opacity="0.23"/>
<circle cx="746.06" cy="191.43" r="0.3" fill="#fff" opacity="0.11"/>
<circle cx="780.43" cy="142.64" r="0.3" fill="#fff" opacity="0.17"/>
<circle cx="780.86" cy="160.29" r="0.3" fill="#fff" opacity="0.14"/>
<circle cx="773.98" cy="193.09" r="0.3" fill="#fff" opacity="0.13"/>
<circle cx="754.52" cy="151.05" r="0.3" fill="#fff" opacity="0.10"/>
<circle cx="764.36" cy="145.32" r="0.3" fill="#fff" opacity="0.16"/>
<circle cx="791.97" cy="155.76" r="0.3" fill="#fff" opacity="0.25"/>
<circle cx="815.61" cy="191.56" r="0.3" fill="#fff" opacity="0.13"/>
<circle cx="754.29" cy="163.14" r="0.3" fill="#fff" opacity="0.16"/>
<circle cx="740.82" cy="209.50" r="0.3" fill="#fff" opacity="0.11"/>
<circle cx="738.72" cy="219.81" r="0.3" fill="#fff" opacity="0.15"/>
<circle cx="741.52" cy="205.94" r="0.3" fill="#fff" opacity="0.11"/>
<circle cx="735.09" cy="175.89" r="0.3" fill="#fff" opacity="0.30"/>
<circle cx="743.14" cy="212.29" r="0.3" fill="#fff" opacity="0.18"/>
<circle cx="769.40" cy="182.55" r="0.3" fill="#fff" opacity="0.21"/>
<circle cx="818.34" cy="170.47" r="0.3" fill="#fff" opacity="0.14"/>
<path d="M746.80,131.20 C749.43,134.42 757.72,144.02 762.60,150.50 C767.48,156.98 771.85,163.32 776.10,170.10 C780.35,176.88 784.83,184.68 788.10,191.20 C791.37,197.72 793.87,203.95 795.70,209.20 C797.53,214.45 798.53,220.45 799.10,222.70" fill="none" stroke="#e6e6e6" stroke-width="1.0" stroke-dasharray="1.6 0.25"/>
<path d="M773.10,131.20 C775.60,134.93 783.58,146.62 788.10,153.60 C792.62,160.58 796.43,166.08 800.20,173.10 C803.97,180.12 807.70,188.18 810.70,195.70 C813.70,203.22 816.73,213.70 818.20,218.20 C819.67,222.70 819.28,221.95 819.50,222.70" fill="none" stroke="#e6e6e6" stroke-width="1.0" stroke-dasharray="1.9 0.3"/>
</g>
<text x="736.0999999999999" y="197.79999999999998" font-size="5.25" font-weight="bold" fill="#f2f2f2" font-family="Liberation Sans, sans-serif">200 um</text>
<rect x="740.8" y="199.79999999999998" width="9" height="0.9" fill="#f2f2f2"/>
<clipPath id="c70"><rect x="727.6" y="305.3" width="73.90" height="73.80"/></clipPath>
<rect x="727.6" y="305.3" width="73.90" height="73.80" fill="#b0b0b0"/>
<g clip-path="url(#c70)">
<path d="M756.37,304.28 C755.45,309.56 752.26,326.69 750.86,335.97 C749.46,345.25 748.58,352.59 747.98,359.95 C747.38,367.31 747.38,376.77 747.26,380.14 L768.36,380.14 C768.48,376.77 768.48,367.31 769.08,359.95 C769.68,352.59 770.60,345.25 771.96,335.97 C773.32,326.69 776.36,309.56 777.24,304.28 Z" fill="#999999"/>
<circle cx="762.03" cy="372.14" r="0.35" fill="#444" opacity="0.19"/>
<circle cx="768.01" cy="352.22" r="0.45" fill="#444" opacity="0.28"/>
<circle cx="762.65" cy="317.80" r="0.35" fill="#444" opacity="0.15"/>
<circle cx="772.09" cy="328.85" r="0.45" fill="#444" opacity="0.24"/>
<circle cx="766.75" cy="320.05" r="0.6" fill="#444" opacity="0.21"/>
<circle cx="764.00" cy="336.84" r="0.45" fill="#444" opacity="0.23"/>
<circle cx="758.64" cy="320.53" r="0.35" fill="#444" opacity="0.15"/>
<circle cx="768.30" cy="319.35" r="0.45" fill="#444" opacity="0.21"/>
<circle cx="766.01" cy="324.25" r="0.35" fill="#444" opacity="0.19"/>
<circle cx="770.86" cy="322.57" r="0.6" fill="#444" opacity="0.19"/>
<circle cx="769.49" cy="306.26" r="0.45" fill="#444" opacity="0.20"/>
<circle cx="755.47" cy="356.57" r="0.6" fill="#444" opacity="0.25"/>
<circle cx="767.62" cy="316.59" r="0.6" fill="#444" opacity="0.35"/>
<circle cx="762.69" cy="316.87" r="0.6" fill="#444" opacity="0.36"/>
<circle cx="769.45" cy="356.21" r="0.6" fill="#444" opacity="0.24"/>
<circle cx="772.36" cy="321.83" r="0.35" fill="#444" opacity="0.27"/>
<circle cx="771.62" cy="337.51" r="0.35" fill="#444" opacity="0.15"/>
<circle cx="747.65" cy="370.55" r="0.6" fill="#444" opacity="0.34"/>
<circle cx="757.07" cy="354.91" r="0.45" fill="#444" opacity="0.27"/>
<circle cx="749.07" cy="361.60" r="0.6" fill="#444" opacity="0.17"/>
<circle cx="759.22" cy="374.53" r="0.35" fill="#444" opacity="0.14"/>
<circle cx="749.93" cy="360.45" r="0.45" fill="#444" opacity="0.30"/>
<circle cx="763.90" cy="375.87" r="0.6" fill="#444" opacity="0.13"/>
<circle cx="760.43" cy="307.30" r="0.6" fill="#444" opacity="0.32"/>
<circle cx="773.58" cy="316.85" r="0.6" fill="#444" opacity="0.27"/>
<circle cx="761.00" cy="315.27" r="0.35" fill="#444" opacity="0.24"/>
<circle cx="756.86" cy="313.36" r="0.35" fill="#444" opacity="0.18"/>
<circle cx="759.62" cy="322.01" r="0.6" fill="#444" opacity="0.23"/>
<circle cx="756.14" cy="315.59" r="0.45" fill="#444" opacity="0.12"/>
<circle cx="767.08" cy="319.22" r="0.45" fill="#444" opacity="0.38"/>
<circle cx="772.31" cy="312.31" r="0.35" fill="#444" opacity="0.22"/>
<circle cx="766.60" cy="327.31" r="0.35" fill="#444" opacity="0.12"/>
<circle cx="763.50" cy="309.86" r="0.6" fill="#444" opacity="0.39"/>
<circle cx="768.76" cy="334.52" r="0.45" fill="#444" opacity="0.35"/>
<circle cx="765.15" cy="310.22" r="0.35" fill="#444" opacity="0.32"/>
<circle cx="769.32" cy="344.36" r="0.6" fill="#444" opacity="0.29"/>
<circle cx="752.15" cy="330.45" r="0.45" fill="#444" opacity="0.20"/>
<circle cx="749.81" cy="367.73" r="0.35" fill="#444" opacity="0.18"/>
<circle cx="773.46" cy="320.57" r="0.6" fill="#444" opacity="0.29"/>
<circle cx="756.97" cy="348.27" r="0.45" fill="#444" opacity="0.24"/>
<circle cx="750.70" cy="365.08" r="0.6" fill="#444" opacity="0.23"/>
<circle cx="756.06" cy="368.62" r="0.45" fill="#444" opacity="0.12"/>
<circle cx="757.56" cy="362.78" r="0.6" fill="#444" opacity="0.36"/>
<circle cx="768.40" cy="328.85" r="0.45" fill="#444" opacity="0.25"/>
<circle cx="755.62" cy="370.81" r="0.6" fill="#444" opacity="0.13"/>
<circle cx="756.37" cy="315.25" r="0.45" fill="#444" opacity="0.13"/>
<circle cx="759.70" cy="314.00" r="0.35" fill="#444" opacity="0.20"/>
<circle cx="751.04" cy="359.05" r="0.45" fill="#444" opacity="0.22"/>
<circle cx="759.13" cy="316.12" r="0.6" fill="#444" opacity="0.25"/>
<circle cx="768.16" cy="373.46" r="0.6" fill="#444" opacity="0.27"/>
<circle cx="754.45" cy="357.12" r="0.6" fill="#444" opacity="0.30"/>
<circle cx="760.42" cy="378.56" r="0.35" fill="#444" opacity="0.30"/>
<circle cx="768.28" cy="325.13" r="0.45" fill="#444" opacity="0.30"/>
<circle cx="757.91" cy="368.17" r="0.45" fill="#444" opacity="0.36"/>
<circle cx="770.83" cy="329.48" r="0.6" fill="#444" opacity="0.16"/>
<circle cx="763.17" cy="360.34" r="0.6" fill="#444" opacity="0.27"/>
<circle cx="763.70" cy="360.82" r="0.6" fill="#444" opacity="0.13"/>
<circle cx="761.96" cy="319.28" r="0.6" fill="#444" opacity="0.26"/>
<circle cx="762.16" cy="327.96" r="0.35" fill="#444" opacity="0.38"/>
<circle cx="760.20" cy="315.37" r="0.35" fill="#444" opacity="0.28"/>
<circle cx="766.14" cy="372.48" r="0.35" fill="#444" opacity="0.22"/>
<circle cx="769.40" cy="323.41" r="0.45" fill="#444" opacity="0.14"/>
<circle cx="754.82" cy="324.78" r="0.45" fill="#444" opacity="0.40"/>
<circle cx="760.79" cy="341.85" r="0.45" fill="#444" opacity="0.25"/>
<circle cx="758.96" cy="357.90" r="0.6" fill="#444" opacity="0.15"/>
<circle cx="764.88" cy="371.89" r="0.45" fill="#444" opacity="0.26"/>
<circle cx="771.12" cy="336.21" r="0.45" fill="#444" opacity="0.24"/>
<circle cx="758.51" cy="371.65" r="0.35" fill="#444" opacity="0.17"/>
<circle cx="756.08" cy="320.15" r="0.45" fill="#444" opacity="0.23"/>
<circle cx="771.40" cy="310.32" r="0.45" fill="#444" opacity="0.30"/>
<circle cx="759.28" cy="313.75" r="0.35" fill="#444" opacity="0.32"/>
<circle cx="752.01" cy="369.44" r="0.45" fill="#444" opacity="0.40"/>
<circle cx="749.68" cy="368.31" r="0.6" fill="#444" opacity="0.19"/>
<circle cx="751.67" cy="365.26" r="0.6" fill="#444" opacity="0.22"/>
<circle cx="752.67" cy="326.87" r="0.45" fill="#444" opacity="0.16"/>
<circle cx="768.40" cy="343.08" r="0.6" fill="#444" opacity="0.16"/>
<circle cx="767.78" cy="310.20" r="0.6" fill="#444" opacity="0.27"/>
<circle cx="760.56" cy="313.89" r="0.45" fill="#444" opacity="0.28"/>
<circle cx="759.06" cy="311.92" r="0.6" fill="#444" opacity="0.24"/>
<circle cx="766.08" cy="335.37" r="0.6" fill="#444" opacity="0.31"/>
<circle cx="765.16" cy="366.67" r="0.35" fill="#444" opacity="0.26"/>
<circle cx="765.06" cy="349.46" r="0.45" fill="#444" opacity="0.16"/>
<circle cx="767.83" cy="376.38" r="0.35" fill="#444" opacity="0.15"/>
<circle cx="760.91" cy="356.37" r="0.45" fill="#444" opacity="0.21"/>
<circle cx="768.48" cy="322.84" r="0.6" fill="#444" opacity="0.14"/>
<circle cx="755.58" cy="311.83" r="0.35" fill="#444" opacity="0.37"/>
<circle cx="753.46" cy="361.97" r="0.45" fill="#444" opacity="0.39"/>
<circle cx="770.30" cy="334.98" r="0.6" fill="#444" opacity="0.14"/>
<circle cx="747.94" cy="369.19" r="0.6" fill="#444" opacity="0.33"/>
<circle cx="751.02" cy="367.95" r="0.6" fill="#444" opacity="0.14"/>
<circle cx="768.23" cy="337.87" r="0.35" fill="#444" opacity="0.29"/>
<circle cx="764.74" cy="321.37" r="0.6" fill="#444" opacity="0.35"/>
<circle cx="770.96" cy="312.19" r="0.45" fill="#444" opacity="0.37"/>
<circle cx="764.08" cy="368.63" r="0.6" fill="#444" opacity="0.20"/>
<circle cx="758.81" cy="313.03" r="0.6" fill="#444" opacity="0.30"/>
<circle cx="766.09" cy="360.17" r="0.35" fill="#444" opacity="0.31"/>
<circle cx="760.02" cy="318.62" r="0.35" fill="#444" opacity="0.13"/>
<circle cx="762.26" cy="321.85" r="0.6" fill="#444" opacity="0.30"/>
<circle cx="757.16" cy="333.23" r="0.45" fill="#444" opacity="0.30"/>
<circle cx="769.27" cy="349.55" r="0.45" fill="#444" opacity="0.37"/>
<circle cx="747.91" cy="368.53" r="0.35" fill="#444" opacity="0.26"/>
<circle cx="753.61" cy="344.17" r="0.35" fill="#444" opacity="0.18"/>
<circle cx="754.70" cy="377.88" r="0.35" fill="#444" opacity="0.37"/>
<circle cx="753.45" cy="378.98" r="0.35" fill="#444" opacity="0.17"/>
<circle cx="753.81" cy="376.47" r="0.45" fill="#444" opacity="0.18"/>
<circle cx="758.35" cy="311.55" r="0.6" fill="#444" opacity="0.16"/>
<circle cx="755.41" cy="360.75" r="0.45" fill="#444" opacity="0.22"/>
<circle cx="748.45" cy="360.58" r="0.6" fill="#444" opacity="0.13"/>
<circle cx="772.56" cy="305.41" r="0.6" fill="#444" opacity="0.25"/>
<circle cx="757.08" cy="338.79" r="0.35" fill="#444" opacity="0.40"/>
<path d="M756.37,304.28 C755.45,309.56 752.26,326.69 750.86,335.97 C749.46,345.25 748.58,352.59 747.98,359.95 C747.38,367.31 747.38,376.77 747.26,380.14" fill="none" stroke="#4c4c4c" stroke-width="1.2" opacity="0.9"/>
<path d="M777.24,304.28 C776.36,309.56 773.32,326.69 771.96,335.97 C770.60,345.25 769.68,352.59 769.08,359.95 C768.48,367.31 768.48,376.77 768.36,380.14" fill="none" stroke="#4c4c4c" stroke-width="1.2" opacity="0.9"/>
<path d="M756.37,304.28 C755.45,309.56 752.26,326.69 750.86,335.97 C749.46,345.25 748.58,352.59 747.98,359.95 C747.38,367.31 747.38,376.77 747.26,380.14" fill="none" stroke="#5e5e5e" stroke-width="2.6" opacity="0.5"/>
<path d="M777.24,304.28 C776.36,309.56 773.32,326.69 771.96,335.97 C770.60,345.25 769.68,352.59 769.08,359.95 C768.48,367.31 768.48,376.77 768.36,380.14" fill="none" stroke="#5e5e5e" stroke-width="2.6" opacity="0.5"/>
</g>
<clipPath id="c71"><rect x="801.5" y="305.3" width="74.10" height="73.80"/></clipPath>
<rect x="801.5" y="305.3" width="74.10" height="73.80" fill="#a5a5a5"/>
<g clip-path="url(#c71)">
<path d="M818.72,304.28 C818.76,310.76 818.76,330.52 818.96,343.17 C819.16,355.81 819.76,373.97 819.92,380.14 L836.95,380.14 C836.83,373.97 836.35,355.81 836.23,343.17 C836.11,330.52 836.23,310.76 836.23,304.28 Z" fill="#999999"/>
<circle cx="830.82" cy="317.47" r="0.6" fill="#444" opacity="0.20"/>
<circle cx="836.53" cy="367.53" r="0.45" fill="#444" opacity="0.35"/>
<circle cx="827.68" cy="343.12" r="0.35" fill="#444" opacity="0.34"/>
<circle cx="835.05" cy="306.34" r="0.45" fill="#444" opacity="0.14"/>
<circle cx="823.48" cy="363.88" r="0.35" fill="#444" opacity="0.31"/>
<circle cx="836.15" cy="337.54" r="0.45" fill="#444" opacity="0.29"/>
<circle cx="824.50" cy="307.81" r="0.45" fill="#444" opacity="0.31"/>
<circle cx="835.36" cy="353.18" r="0.35" fill="#444" opacity="0.16"/>
<circle cx="821.68" cy="365.63" r="0.35" fill="#444" opacity="0.25"/>
<circle cx="824.95" cy="346.04" r="0.45" fill="#444" opacity="0.16"/>
<circle cx="827.34" cy="354.38" r="0.35" fill="#444" opacity="0.14"/>
<circle cx="830.55" cy="319.87" r="0.6" fill="#444" opacity="0.33"/>
<circle cx="829.40" cy="361.59" r="0.6" fill="#444" opacity="0.14"/>
<circle cx="828.69" cy="346.64" r="0.45" fill="#444" opacity="0.18"/>
<circle cx="834.90" cy="373.43" r="0.45" fill="#444" opacity="0.20"/>
<circle cx="828.36" cy="375.74" r="0.45" fill="#444" opacity="0.40"/>
<circle cx="819.37" cy="333.83" r="0.35" fill="#444" opacity="0.16"/>
<circle cx="836.22" cy="358.14" r="0.35" fill="#444" opacity="0.26"/>
<circle cx="831.94" cy="345.92" r="0.35" fill="#444" opacity="0.28"/>
<circle cx="835.88" cy="328.82" r="0.35" fill="#444" opacity="0.17"/>
<circle cx="824.87" cy="317.85" r="0.45" fill="#444" opacity="0.22"/>
<circle cx="824.41" cy="349.38" r="0.35" fill="#444" opacity="0.17"/>
<circle cx="822.72" cy="373.43" r="0.45" fill="#444" opacity="0.22"/>
<circle cx="830.91" cy="355.73" r="0.6" fill="#444" opacity="0.39"/>
<circle cx="836.04" cy="335.34" r="0.6" fill="#444" opacity="0.29"/>
<circle cx="828.06" cy="370.48" r="0.45" fill="#444" opacity="0.31"/>
<circle cx="823.97" cy="374.40" r="0.6" fill="#444" opacity="0.14"/>
<circle cx="832.78" cy="364.73" r="0.45" fill="#444" opacity="0.14"/>
<circle cx="833.68" cy="326.55" r="0.6" fill="#444" opacity="0.20"/>
<circle cx="821.87" cy="336.26" r="0.35" fill="#444" opacity="0.36"/>
<circle cx="821.73" cy="352.93" r="0.35" fill="#444" opacity="0.33"/>
<circle cx="823.31" cy="340.65" r="0.6" fill="#444" opacity="0.27"/>
<circle cx="819.86" cy="359.07" r="0.35" fill="#444" opacity="0.37"/>
<circle cx="821.56" cy="332.29" r="0.45" fill="#444" opacity="0.29"/>
<circle cx="828.98" cy="336.74" r="0.45" fill="#444" opacity="0.21"/>
<circle cx="823.77" cy="344.73" r="0.6" fill="#444" opacity="0.12"/>
<circle cx="835.69" cy="355.88" r="0.35" fill="#444" opacity="0.19"/>
<circle cx="823.21" cy="329.37" r="0.6" fill="#444" opacity="0.24"/>
<circle cx="832.21" cy="355.72" r="0.35" fill="#444" opacity="0.16"/>
<circle cx="820.41" cy="312.30" r="0.35" fill="#444" opacity="0.30"/>
<circle cx="820.72" cy="363.32" r="0.35" fill="#444" opacity="0.30"/>
<circle cx="828.18" cy="314.64" r="0.45" fill="#444" opacity="0.23"/>
<circle cx="830.30" cy="370.83" r="0.35" fill="#444" opacity="0.17"/>
<circle cx="831.20" cy="333.18" r="0.6" fill="#444" opacity="0.33"/>
<circle cx="827.83" cy="349.87" r="0.6" fill="#444" opacity="0.34"/>
<circle cx="819.63" cy="363.66" r="0.45" fill="#444" opacity="0.36"/>
<circle cx="828.73" cy="334.67" r="0.6" fill="#444" opacity="0.19"/>
<circle cx="830.15" cy="376.44" r="0.6" fill="#444" opacity="0.13"/>
<circle cx="824.27" cy="334.00" r="0.45" fill="#444" opacity="0.35"/>
<circle cx="827.91" cy="364.57" r="0.6" fill="#444" opacity="0.15"/>
<circle cx="827.89" cy="349.67" r="0.6" fill="#444" opacity="0.21"/>
<circle cx="824.01" cy="343.44" r="0.6" fill="#444" opacity="0.27"/>
<circle cx="820.15" cy="346.68" r="0.45" fill="#444" opacity="0.39"/>
<circle cx="824.41" cy="331.52" r="0.45" fill="#444" opacity="0.15"/>
<circle cx="820.05" cy="310.92" r="0.45" fill="#444" opacity="0.26"/>
<circle cx="831.39" cy="375.19" r="0.6" fill="#444" opacity="0.24"/>
<circle cx="825.70" cy="343.49" r="0.45" fill="#444" opacity="0.14"/>
<circle cx="830.31" cy="307.14" r="0.35" fill="#444" opacity="0.19"/>
<circle cx="833.37" cy="357.27" r="0.6" fill="#444" opacity="0.24"/>
<circle cx="826.34" cy="364.16" r="0.45" fill="#444" opacity="0.26"/>
<circle cx="835.77" cy="351.93" r="0.35" fill="#444" opacity="0.13"/>
<circle cx="825.31" cy="318.06" r="0.6" fill="#444" opacity="0.37"/>
<circle cx="830.22" cy="362.83" r="0.6" fill="#444" opacity="0.31"/>
<circle cx="831.58" cy="368.69" r="0.6" fill="#444" opacity="0.19"/>
<circle cx="827.57" cy="340.81" r="0.45" fill="#444" opacity="0.29"/>
<circle cx="836.06" cy="366.17" r="0.35" fill="#444" opacity="0.17"/>
<circle cx="834.07" cy="320.21" r="0.6" fill="#444" opacity="0.16"/>
<circle cx="820.41" cy="346.13" r="0.45" fill="#444" opacity="0.29"/>
<circle cx="831.78" cy="333.01" r="0.35" fill="#444" opacity="0.40"/>
<circle cx="826.36" cy="317.58" r="0.6" fill="#444" opacity="0.21"/>
<circle cx="830.94" cy="352.65" r="0.45" fill="#444" opacity="0.14"/>
<circle cx="827.74" cy="307.41" r="0.35" fill="#444" opacity="0.37"/>
<circle cx="823.08" cy="342.72" r="0.6" fill="#444" opacity="0.20"/>
<circle cx="835.20" cy="333.27" r="0.45" fill="#444" opacity="0.23"/>
<circle cx="830.45" cy="339.30" r="0.6" fill="#444" opacity="0.17"/>
<circle cx="823.62" cy="333.69" r="0.35" fill="#444" opacity="0.39"/>
<circle cx="824.93" cy="321.18" r="0.6" fill="#444" opacity="0.38"/>
<circle cx="819.66" cy="357.30" r="0.6" fill="#444" opacity="0.28"/>
<circle cx="826.55" cy="334.68" r="0.45" fill="#444" opacity="0.19"/>
<circle cx="828.26" cy="305.86" r="0.35" fill="#444" opacity="0.39"/>
<circle cx="825.27" cy="319.34" r="0.35" fill="#444" opacity="0.22"/>
<circle cx="832.60" cy="315.26" r="0.45" fill="#444" opacity="0.27"/>
<circle cx="822.03" cy="308.93" r="0.45" fill="#444" opacity="0.37"/>
<circle cx="828.84" cy="323.33" r="0.6" fill="#444" opacity="0.38"/>
<circle cx="819.97" cy="370.51" r="0.6" fill="#444" opacity="0.14"/>
<circle cx="833.34" cy="337.46" r="0.6" fill="#444" opacity="0.17"/>
<circle cx="833.00" cy="309.70" r="0.6" fill="#444" opacity="0.27"/>
<circle cx="830.69" cy="341.56" r="0.6" fill="#444" opacity="0.21"/>
<circle cx="824.99" cy="325.21" r="0.45" fill="#444" opacity="0.30"/>
<circle cx="832.85" cy="305.98" r="0.6" fill="#444" opacity="0.14"/>
<circle cx="830.67" cy="343.07" r="0.35" fill="#444" opacity="0.22"/>
<circle cx="821.70" cy="331.30" r="0.6" fill="#444" opacity="0.26"/>
<circle cx="830.51" cy="355.54" r="0.35" fill="#444" opacity="0.13"/>
<circle cx="825.07" cy="322.47" r="0.45" fill="#444" opacity="0.23"/>
<circle cx="831.81" cy="356.29" r="0.6" fill="#444" opacity="0.24"/>
<circle cx="822.68" cy="329.26" r="0.6" fill="#444" opacity="0.13"/>
<circle cx="828.12" cy="331.30" r="0.6" fill="#444" opacity="0.30"/>
<circle cx="825.19" cy="306.85" r="0.45" fill="#444" opacity="0.17"/>
<circle cx="833.41" cy="368.10" r="0.45" fill="#444" opacity="0.31"/>
<circle cx="832.36" cy="321.34" r="0.6" fill="#444" opacity="0.27"/>
<circle cx="836.29" cy="372.35" r="0.45" fill="#444" opacity="0.18"/>
<circle cx="830.99" cy="339.55" r="0.45" fill="#444" opacity="0.12"/>
<circle cx="829.53" cy="331.27" r="0.6" fill="#444" opacity="0.13"/>
<circle cx="831.87" cy="333.06" r="0.35" fill="#444" opacity="0.38"/>
<circle cx="834.22" cy="344.87" r="0.35" fill="#444" opacity="0.18"/>
<circle cx="823.90" cy="343.28" r="0.45" fill="#444" opacity="0.33"/>
<circle cx="825.86" cy="370.45" r="0.35" fill="#444" opacity="0.19"/>
<circle cx="825.19" cy="349.53" r="0.6" fill="#444" opacity="0.35"/>
<circle cx="821.17" cy="332.03" r="0.35" fill="#444" opacity="0.38"/>
<circle cx="832.69" cy="375.75" r="0.6" fill="#444" opacity="0.33"/>
<path d="M818.72,304.28 C818.76,310.76 818.76,330.52 818.96,343.17 C819.16,355.81 819.76,373.97 819.92,380.14" fill="none" stroke="#4c4c4c" stroke-width="1.2" opacity="0.9"/>
<path d="M836.23,304.28 C836.23,310.76 836.11,330.52 836.23,343.17 C836.35,355.81 836.83,373.97 836.95,380.14" fill="none" stroke="#4c4c4c" stroke-width="1.2" opacity="0.9"/>
<path d="M818.72,304.28 C818.76,310.76 818.76,330.52 818.96,343.17 C819.16,355.81 819.76,373.97 819.92,380.14" fill="none" stroke="#5e5e5e" stroke-width="2.6" opacity="0.5"/>
<path d="M836.23,304.28 C836.23,310.76 836.11,330.52 836.23,343.17 C836.35,355.81 836.83,373.97 836.95,380.14" fill="none" stroke="#5e5e5e" stroke-width="2.6" opacity="0.5"/>
</g>
<clipPath id="c72"><rect x="875.6" y="305.3" width="73.80" height="73.80"/></clipPath>
<rect x="875.6" y="305.3" width="73.80" height="73.80" fill="#b3b3b3"/>
<g clip-path="url(#c72)">
<path d="M901.94,304.28 C901.42,308.76 899.30,323.09 898.82,331.18 C898.34,339.26 898.42,344.60 899.06,352.76 C899.70,360.92 902.06,375.57 902.66,380.14 L921.12,380.14 C920.36,375.57 917.41,360.92 916.57,352.76 C915.73,344.60 915.61,339.26 916.09,331.18 C916.57,323.09 918.88,308.76 919.44,304.28 Z" fill="#999999"/>
<circle cx="904.69" cy="376.02" r="0.35" fill="#444" opacity="0.29"/>
<circle cx="911.07" cy="338.30" r="0.6" fill="#444" opacity="0.30"/>
<circle cx="914.22" cy="330.81" r="0.35" fill="#444" opacity="0.20"/>
<circle cx="918.44" cy="308.97" r="0.35" fill="#444" opacity="0.38"/>
<circle cx="915.74" cy="355.87" r="0.6" fill="#444" opacity="0.37"/>
<circle cx="899.38" cy="347.89" r="0.45" fill="#444" opacity="0.21"/>
<circle cx="914.96" cy="319.33" r="0.6" fill="#444" opacity="0.27"/>
<circle cx="917.32" cy="359.09" r="0.6" fill="#444" opacity="0.14"/>
<circle cx="904.81" cy="329.39" r="0.35" fill="#444" opacity="0.39"/>
<circle cx="912.65" cy="328.36" r="0.6" fill="#444" opacity="0.26"/>
<circle cx="904.11" cy="325.93" r="0.6" fill="#444" opacity="0.17"/>
<circle cx="910.69" cy="308.93" r="0.35" fill="#444" opacity="0.24"/>
<circle cx="904.59" cy="323.87" r="0.45" fill="#444" opacity="0.23"/>
<circle cx="905.16" cy="373.53" r="0.6" fill="#444" opacity="0.22"/>
<circle cx="904.20" cy="348.30" r="0.6" fill="#444" opacity="0.28"/>
<circle cx="912.15" cy="344.20" r="0.6" fill="#444" opacity="0.24"/>
<circle cx="908.78" cy="311.98" r="0.35" fill="#444" opacity="0.24"/>
<circle cx="914.95" cy="335.03" r="0.35" fill="#444" opacity="0.26"/>
<circle cx="900.53" cy="334.87" r="0.35" fill="#444" opacity="0.17"/>
<circle cx="905.07" cy="345.64" r="0.45" fill="#444" opacity="0.37"/>
<circle cx="906.81" cy="351.76" r="0.35" fill="#444" opacity="0.27"/>
<circle cx="912.13" cy="364.04" r="0.35" fill="#444" opacity="0.30"/>
<circle cx="904.35" cy="312.75" r="0.35" fill="#444" opacity="0.35"/>
<circle cx="910.15" cy="373.27" r="0.35" fill="#444" opacity="0.26"/>
<circle cx="909.14" cy="343.97" r="0.6" fill="#444" opacity="0.33"/>
<circle cx="911.55" cy="340.21" r="0.6" fill="#444" opacity="0.32"/>
<circle cx="904.11" cy="375.76" r="0.6" fill="#444" opacity="0.19"/>
<circle cx="904.05" cy="314.12" r="0.45" fill="#444" opacity="0.30"/>
<circle cx="901.87" cy="330.43" r="0.6" fill="#444" opacity="0.29"/>
<circle cx="902.74" cy="356.96" r="0.35" fill="#444" opacity="0.39"/>
<circle cx="900.86" cy="331.30" r="0.35" fill="#444" opacity="0.27"/>
<circle cx="900.11" cy="341.21" r="0.35" fill="#444" opacity="0.20"/>
<circle cx="909.18" cy="312.48" r="0.35" fill="#444" opacity="0.23"/>
<circle cx="916.63" cy="313.97" r="0.6" fill="#444" opacity="0.35"/>
<circle cx="908.09" cy="308.13" r="0.6" fill="#444" opacity="0.13"/>
<circle cx="908.59" cy="320.30" r="0.45" fill="#444" opacity="0.13"/>
<circle cx="906.90" cy="356.14" r="0.45" fill="#444" opacity="0.19"/>
<circle cx="904.46" cy="322.33" r="0.35" fill="#444" opacity="0.38"/>
<circle cx="902.11" cy="347.08" r="0.6" fill="#444" opacity="0.21"/>
<circle cx="904.33" cy="307.51" r="0.45" fill="#444" opacity="0.13"/>
<circle cx="899.45" cy="341.22" r="0.35" fill="#444" opacity="0.18"/>
<circle cx="908.82" cy="365.19" r="0.6" fill="#444" opacity="0.19"/>
<circle cx="901.41" cy="344.75" r="0.45" fill="#444" opacity="0.19"/>
<circle cx="914.89" cy="376.97" r="0.6" fill="#444" opacity="0.23"/>
<circle cx="902.13" cy="352.55" r="0.6" fill="#444" opacity="0.27"/>
<circle cx="913.49" cy="332.02" r="0.6" fill="#444" opacity="0.19"/>
<circle cx="908.71" cy="324.43" r="0.45" fill="#444" opacity="0.35"/>
<circle cx="911.07" cy="342.93" r="0.35" fill="#444" opacity="0.39"/>
<circle cx="907.24" cy="319.36" r="0.35" fill="#444" opacity="0.23"/>
<circle cx="902.60" cy="353.70" r="0.35" fill="#444" opacity="0.14"/>
<circle cx="907.92" cy="373.27" r="0.35" fill="#444" opacity="0.26"/>
<circle cx="905.03" cy="376.85" r="0.6" fill="#444" opacity="0.22"/>
<circle cx="902.07" cy="375.61" r="0.45" fill="#444" opacity="0.33"/>
<circle cx="918.22" cy="306.91" r="0.6" fill="#444" opacity="0.13"/>
<circle cx="900.19" cy="351.97" r="0.6" fill="#444" opacity="0.14"/>
<circle cx="909.07" cy="318.46" r="0.45" fill="#444" opacity="0.37"/>
<circle cx="909.65" cy="335.70" r="0.6" fill="#444" opacity="0.27"/>
<circle cx="910.75" cy="329.08" r="0.6" fill="#444" opacity="0.13"/>
<circle cx="908.69" cy="322.59" r="0.45" fill="#444" opacity="0.31"/>
<circle cx="906.03" cy="305.55" r="0.35" fill="#444" opacity="0.38"/>
<circle cx="899.68" cy="327.32" r="0.45" fill="#444" opacity="0.15"/>
<circle cx="916.62" cy="372.24" r="0.35" fill="#444" opacity="0.16"/>
<circle cx="906.21" cy="326.30" r="0.35" fill="#444" opacity="0.35"/>
<circle cx="908.56" cy="327.94" r="0.6" fill="#444" opacity="0.39"/>
<circle cx="899.54" cy="332.96" r="0.45" fill="#444" opacity="0.26"/>
<circle cx="902.18" cy="321.36" r="0.35" fill="#444" opacity="0.33"/>
<circle cx="906.74" cy="346.35" r="0.45" fill="#444" opacity="0.40"/>
<circle cx="902.81" cy="365.83" r="0.45" fill="#444" opacity="0.21"/>
<circle cx="906.95" cy="317.58" r="0.6" fill="#444" opacity="0.22"/>
<circle cx="914.66" cy="333.39" r="0.6" fill="#444" opacity="0.37"/>
<circle cx="908.23" cy="337.32" r="0.45" fill="#444" opacity="0.31"/>
<circle cx="912.69" cy="364.93" r="0.45" fill="#444" opacity="0.18"/>
<circle cx="915.99" cy="356.06" r="0.35" fill="#444" opacity="0.16"/>
<circle cx="912.41" cy="338.75" r="0.35" fill="#444" opacity="0.28"/>
<circle cx="905.28" cy="363.70" r="0.35" fill="#444" opacity="0.13"/>
<circle cx="912.42" cy="373.24" r="0.45" fill="#444" opacity="0.27"/>
<circle cx="902.48" cy="348.57" r="0.45" fill="#444" opacity="0.33"/>
<circle cx="911.32" cy="338.44" r="0.45" fill="#444" opacity="0.31"/>
<circle cx="912.77" cy="338.60" r="0.45" fill="#444" opacity="0.19"/>
<circle cx="915.41" cy="369.41" r="0.35" fill="#444" opacity="0.30"/>
<circle cx="904.55" cy="325.26" r="0.35" fill="#444" opacity="0.29"/>
<circle cx="909.37" cy="323.02" r="0.45" fill="#444" opacity="0.25"/>
<circle cx="918.26" cy="364.87" r="0.35" fill="#444" opacity="0.28"/>
<circle cx="907.08" cy="322.11" r="0.35" fill="#444" opacity="0.39"/>
<circle cx="910.22" cy="315.49" r="0.6" fill="#444" opacity="0.21"/>
<circle cx="902.62" cy="362.65" r="0.6" fill="#444" opacity="0.26"/>
<circle cx="908.94" cy="373.04" r="0.35" fill="#444" opacity="0.22"/>
<circle cx="903.69" cy="353.20" r="0.35" fill="#444" opacity="0.17"/>
<circle cx="908.66" cy="378.79" r="0.45" fill="#444" opacity="0.38"/>
<circle cx="901.74" cy="342.81" r="0.35" fill="#444" opacity="0.19"/>
<circle cx="903.74" cy="314.23" r="0.6" fill="#444" opacity="0.14"/>
<circle cx="903.36" cy="342.29" r="0.45" fill="#444" opacity="0.27"/>
<circle cx="912.59" cy="329.33" r="0.45" fill="#444" opacity="0.18"/>
<circle cx="915.20" cy="318.56" r="0.35" fill="#444" opacity="0.29"/>
<circle cx="899.00" cy="332.10" r="0.6" fill="#444" opacity="0.27"/>
<circle cx="913.20" cy="373.47" r="0.45" fill="#444" opacity="0.39"/>
<circle cx="901.94" cy="361.88" r="0.45" fill="#444" opacity="0.19"/>
<circle cx="909.71" cy="347.32" r="0.45" fill="#444" opacity="0.16"/>
<circle cx="918.45" cy="372.12" r="0.6" fill="#444" opacity="0.15"/>
<circle cx="907.69" cy="307.52" r="0.35" fill="#444" opacity="0.16"/>
<circle cx="918.90" cy="375.62" r="0.45" fill="#444" opacity="0.30"/>
<circle cx="905.13" cy="336.62" r="0.35" fill="#444" opacity="0.36"/>
<circle cx="903.85" cy="334.00" r="0.6" fill="#444" opacity="0.28"/>
<circle cx="918.57" cy="371.99" r="0.6" fill="#444" opacity="0.15"/>
<circle cx="902.42" cy="339.55" r="0.45" fill="#444" opacity="0.35"/>
<circle cx="901.78" cy="338.87" r="0.35" fill="#444" opacity="0.40"/>
<circle cx="907.50" cy="319.54" r="0.6" fill="#444" opacity="0.34"/>
<circle cx="904.42" cy="351.88" r="0.6" fill="#444" opacity="0.22"/>
<circle cx="904.89" cy="325.20" r="0.6" fill="#444" opacity="0.25"/>
<circle cx="903.19" cy="321.68" r="0.45" fill="#444" opacity="0.16"/>
<path d="M901.94,304.28 C901.42,308.76 899.30,323.09 898.82,331.18 C898.34,339.26 898.42,344.60 899.06,352.76 C899.70,360.92 902.06,375.57 902.66,380.14" fill="none" stroke="#4c4c4c" stroke-width="1.2" opacity="0.9"/>
<path d="M919.44,304.28 C918.88,308.76 916.57,323.09 916.09,331.18 C915.61,339.26 915.73,344.60 916.57,352.76 C917.41,360.92 920.36,375.57 921.12,380.14" fill="none" stroke="#4c4c4c" stroke-width="1.2" opacity="0.9"/>
<path d="M901.94,304.28 C901.42,308.76 899.30,323.09 898.82,331.18 C898.34,339.26 898.42,344.60 899.06,352.76 C899.70,360.92 902.06,375.57 902.66,380.14" fill="none" stroke="#5e5e5e" stroke-width="2.6" opacity="0.5"/>
<path d="M919.44,304.28 C918.88,308.76 916.57,323.09 916.09,331.18 C915.61,339.26 915.73,344.60 916.57,352.76 C917.41,360.92 920.36,375.57 921.12,380.14" fill="none" stroke="#5e5e5e" stroke-width="2.6" opacity="0.5"/>
</g>
<clipPath id="c73"><rect x="727.6" y="379.1" width="73.90" height="73.70"/></clipPath>
<rect x="727.6" y="379.1" width="73.90" height="73.70" fill="#afafaf"/>
<g clip-path="url(#c73)">
<path d="M748.22,378.14 C747.98,382.70 746.70,396.96 746.78,405.52 C746.86,414.08 747.62,421.46 748.70,429.50 C749.78,437.54 752.50,449.71 753.26,453.76 L768.84,453.76 C768.08,449.71 765.25,437.54 764.29,429.50 C763.33,421.46 762.57,414.08 763.09,405.52 C763.61,396.96 766.69,382.70 767.41,378.14 Z" fill="#999999"/>
<circle cx="766.82" cy="447.26" r="0.35" fill="#444" opacity="0.12"/>
<circle cx="753.32" cy="401.71" r="0.45" fill="#444" opacity="0.16"/>
<circle cx="755.25" cy="393.25" r="0.35" fill="#444" opacity="0.29"/>
<circle cx="753.37" cy="445.55" r="0.6" fill="#444" opacity="0.26"/>
<circle cx="759.98" cy="380.54" r="0.45" fill="#444" opacity="0.22"/>
<circle cx="762.54" cy="383.34" r="0.6" fill="#444" opacity="0.22"/>
<circle cx="751.34" cy="391.77" r="0.6" fill="#444" opacity="0.22"/>
<circle cx="755.50" cy="435.10" r="0.6" fill="#444" opacity="0.20"/>
<circle cx="761.66" cy="450.93" r="0.45" fill="#444" opacity="0.17"/>
<circle cx="760.21" cy="414.70" r="0.6" fill="#444" opacity="0.30"/>
<circle cx="750.62" cy="392.52" r="0.45" fill="#444" opacity="0.31"/>
<circle cx="757.02" cy="417.43" r="0.35" fill="#444" opacity="0.15"/>
<circle cx="753.19" cy="381.97" r="0.6" fill="#444" opacity="0.20"/>
<circle cx="749.87" cy="422.58" r="0.45" fill="#444" opacity="0.27"/>
<circle cx="758.71" cy="445.03" r="0.35" fill="#444" opacity="0.19"/>
<circle cx="762.06" cy="387.00" r="0.6" fill="#444" opacity="0.34"/>
<circle cx="752.83" cy="415.44" r="0.35" fill="#444" opacity="0.38"/>
<circle cx="763.09" cy="422.78" r="0.35" fill="#444" opacity="0.25"/>
<circle cx="759.91" cy="381.59" r="0.45" fill="#444" opacity="0.13"/>
<circle cx="761.15" cy="438.76" r="0.35" fill="#444" opacity="0.35"/>
<circle cx="760.76" cy="449.03" r="0.45" fill="#444" opacity="0.33"/>
<circle cx="762.81" cy="404.61" r="0.45" fill="#444" opacity="0.26"/>
<circle cx="753.00" cy="381.83" r="0.6" fill="#444" opacity="0.18"/>
<circle cx="766.97" cy="447.90" r="0.35" fill="#444" opacity="0.15"/>
<circle cx="758.26" cy="420.10" r="0.6" fill="#444" opacity="0.27"/>
<circle cx="754.43" cy="439.01" r="0.45" fill="#444" opacity="0.17"/>
<circle cx="762.59" cy="379.97" r="0.6" fill="#444" opacity="0.37"/>
<circle cx="764.45" cy="439.07" r="0.6" fill="#444" opacity="0.35"/>
<circle cx="765.71" cy="384.23" r="0.6" fill="#444" opacity="0.33"/>
<circle cx="754.64" cy="419.33" r="0.45" fill="#444" opacity="0.34"/>
<circle cx="756.68" cy="420.16" r="0.45" fill="#444" opacity="0.15"/>
<circle cx="753.61" cy="425.62" r="0.6" fill="#444" opacity="0.32"/>
<circle cx="749.88" cy="410.82" r="0.6" fill="#444" opacity="0.14"/>
<circle cx="756.57" cy="420.52" r="0.35" fill="#444" opacity="0.37"/>
<circle cx="764.95" cy="449.68" r="0.6" fill="#444" opacity="0.20"/>
<circle cx="747.25" cy="404.02" r="0.35" fill="#444" opacity="0.33"/>
<circle cx="759.90" cy="408.71" r="0.35" fill="#444" opacity="0.17"/>
<circle cx="754.12" cy="412.22" r="0.35" fill="#444" opacity="0.24"/>
<circle cx="757.21" cy="399.53" r="0.6" fill="#444" opacity="0.32"/>
<circle cx="756.91" cy="392.19" r="0.45" fill="#444" opacity="0.37"/>
<circle cx="763.98" cy="385.47" r="0.45" fill="#444" opacity="0.23"/>
<circle cx="756.76" cy="380.42" r="0.45" fill="#444" opacity="0.20"/>
<circle cx="752.73" cy="402.66" r="0.45" fill="#444" opacity="0.20"/>
<circle cx="754.61" cy="447.65" r="0.35" fill="#444" opacity="0.24"/>
<circle cx="757.98" cy="439.28" r="0.6" fill="#444" opacity="0.37"/>
<circle cx="758.84" cy="418.81" r="0.45" fill="#444" opacity="0.18"/>
<circle cx="761.67" cy="398.55" r="0.6" fill="#444" opacity="0.22"/>
<circle cx="763.89" cy="424.83" r="0.45" fill="#444" opacity="0.28"/>
<circle cx="761.11" cy="411.69" r="0.45" fill="#444" opacity="0.34"/>
<circle cx="761.63" cy="387.30" r="0.6" fill="#444" opacity="0.30"/>
<circle cx="763.14" cy="382.25" r="0.45" fill="#444" opacity="0.18"/>
<circle cx="757.86" cy="420.76" r="0.35" fill="#444" opacity="0.17"/>
<circle cx="757.43" cy="416.62" r="0.45" fill="#444" opacity="0.20"/>
<circle cx="764.78" cy="384.87" r="0.6" fill="#444" opacity="0.29"/>
<circle cx="750.27" cy="382.12" r="0.6" fill="#444" opacity="0.17"/>
<circle cx="759.67" cy="380.51" r="0.35" fill="#444" opacity="0.38"/>
<circle cx="762.09" cy="400.81" r="0.45" fill="#444" opacity="0.28"/>
<circle cx="762.71" cy="435.90" r="0.6" fill="#444" opacity="0.33"/>
<circle cx="748.31" cy="386.65" r="0.45" fill="#444" opacity="0.15"/>
<circle cx="754.31" cy="442.26" r="0.45" fill="#444" opacity="0.40"/>
<circle cx="753.19" cy="434.93" r="0.6" fill="#444" opacity="0.36"/>
<circle cx="753.08" cy="411.24" r="0.6" fill="#444" opacity="0.18"/>
<circle cx="759.73" cy="420.44" r="0.45" fill="#444" opacity="0.37"/>
<circle cx="768.13" cy="451.43" r="0.35" fill="#444" opacity="0.22"/>
<circle cx="757.67" cy="451.47" r="0.35" fill="#444" opacity="0.26"/>
<circle cx="750.26" cy="404.91" r="0.6" fill="#444" opacity="0.27"/>
<circle cx="754.45" cy="394.62" r="0.35" fill="#444" opacity="0.13"/>
<circle cx="756.79" cy="433.34" r="0.35" fill="#444" opacity="0.29"/>
<circle cx="751.09" cy="409.64" r="0.45" fill="#444" opacity="0.13"/>
<circle cx="760.76" cy="400.93" r="0.45" fill="#444" opacity="0.35"/>
<circle cx="763.38" cy="421.52" r="0.6" fill="#444" opacity="0.37"/>
<circle cx="761.17" cy="425.63" r="0.35" fill="#444" opacity="0.38"/>
<circle cx="763.12" cy="451.42" r="0.45" fill="#444" opacity="0.39"/>
<circle cx="747.41" cy="412.74" r="0.6" fill="#444" opacity="0.23"/>
<circle cx="748.58" cy="383.31" r="0.45" fill="#444" opacity="0.22"/>
<circle cx="762.76" cy="448.60" r="0.6" fill="#444" opacity="0.36"/>
<circle cx="751.43" cy="432.11" r="0.35" fill="#444" opacity="0.33"/>
<circle cx="757.70" cy="438.91" r="0.35" fill="#444" opacity="0.38"/>
<circle cx="758.26" cy="410.31" r="0.6" fill="#444" opacity="0.34"/>
<circle cx="748.04" cy="387.75" r="0.6" fill="#444" opacity="0.29"/>
<circle cx="750.94" cy="418.28" r="0.45" fill="#444" opacity="0.34"/>
<circle cx="758.69" cy="402.11" r="0.45" fill="#444" opacity="0.26"/>
<circle cx="760.45" cy="419.34" r="0.45" fill="#444" opacity="0.21"/>
<circle cx="752.90" cy="433.56" r="0.6" fill="#444" opacity="0.28"/>
<circle cx="754.09" cy="445.52" r="0.6" fill="#444" opacity="0.34"/>
<circle cx="764.31" cy="389.39" r="0.6" fill="#444" opacity="0.38"/>
<circle cx="754.38" cy="450.56" r="0.6" fill="#444" opacity="0.14"/>
<circle cx="762.53" cy="385.09" r="0.6" fill="#444" opacity="0.25"/>
<circle cx="752.75" cy="448.11" r="0.45" fill="#444" opacity="0.20"/>
<circle cx="763.76" cy="421.32" r="0.6" fill="#444" opacity="0.12"/>
<circle cx="766.32" cy="446.90" r="0.6" fill="#444" opacity="0.32"/>
<circle cx="763.10" cy="384.32" r="0.35" fill="#444" opacity="0.35"/>
<circle cx="759.35" cy="415.12" r="0.35" fill="#444" opacity="0.19"/>
<circle cx="761.41" cy="447.38" r="0.45" fill="#444" opacity="0.33"/>
<circle cx="757.09" cy="421.06" r="0.35" fill="#444" opacity="0.30"/>
<circle cx="761.98" cy="389.37" r="0.45" fill="#444" opacity="0.30"/>
<circle cx="760.95" cy="448.41" r="0.45" fill="#444" opacity="0.12"/>
<circle cx="754.90" cy="415.70" r="0.45" fill="#444" opacity="0.31"/>
<circle cx="761.38" cy="424.20" r="0.35" fill="#444" opacity="0.21"/>
<circle cx="752.67" cy="441.10" r="0.35" fill="#444" opacity="0.16"/>
<circle cx="763.53" cy="422.09" r="0.6" fill="#444" opacity="0.35"/>
<circle cx="752.71" cy="434.54" r="0.35" fill="#444" opacity="0.27"/>
<circle cx="757.27" cy="418.66" r="0.35" fill="#444" opacity="0.35"/>
<circle cx="757.35" cy="398.72" r="0.6" fill="#444" opacity="0.32"/>
<circle cx="766.68" cy="449.25" r="0.35" fill="#444" opacity="0.15"/>
<circle cx="748.24" cy="410.81" r="0.6" fill="#444" opacity="0.26"/>
<circle cx="764.83" cy="451.59" r="0.35" fill="#444" opacity="0.32"/>
<circle cx="758.92" cy="389.98" r="0.45" fill="#444" opacity="0.25"/>
<circle cx="757.37" cy="390.86" r="0.35" fill="#444" opacity="0.21"/>
<circle cx="763.42" cy="420.65" r="0.35" fill="#444" opacity="0.34"/>
<path d="M748.22,378.14 C747.98,382.70 746.70,396.96 746.78,405.52 C746.86,414.08 747.62,421.46 748.70,429.50 C749.78,437.54 752.50,449.71 753.26,453.76" fill="none" stroke="#4c4c4c" stroke-width="1.2" opacity="0.9"/>
<path d="M767.41,378.14 C766.69,382.70 763.61,396.96 763.09,405.52 C762.57,414.08 763.33,421.46 764.29,429.50 C765.25,437.54 768.08,449.71 768.84,453.76" fill="none" stroke="#4c4c4c" stroke-width="1.2" opacity="0.9"/>
<path d="M748.22,378.14 C747.98,382.70 746.70,396.96 746.78,405.52 C746.86,414.08 747.62,421.46 748.70,429.50 C749.78,437.54 752.50,449.71 753.26,453.76" fill="none" stroke="#5e5e5e" stroke-width="2.6" opacity="0.5"/>
<path d="M767.41,378.14 C766.69,382.70 763.61,396.96 763.09,405.52 C762.57,414.08 763.33,421.46 764.29,429.50 C765.25,437.54 768.08,449.71 768.84,453.76" fill="none" stroke="#5e5e5e" stroke-width="2.6" opacity="0.5"/>
</g>
<clipPath id="c74"><rect x="801.5" y="379.1" width="74.10" height="73.70"/></clipPath>
<rect x="801.5" y="379.1" width="74.10" height="73.70" fill="#b4b4b4"/>
<g clip-path="url(#c74)">
<path d="M835.51,378.14 C835.51,384.30 835.39,402.50 835.51,415.11 C835.63,427.71 836.11,447.32 836.23,453.76 L851.58,453.76 C851.62,447.32 851.70,427.71 851.82,415.11 C851.94,402.50 852.22,384.30 852.30,378.14 Z" fill="#999999"/>
<circle cx="849.17" cy="431.60" r="0.35" fill="#444" opacity="0.18"/>
<circle cx="838.32" cy="391.43" r="0.6" fill="#444" opacity="0.15"/>
<circle cx="838.27" cy="434.95" r="0.6" fill="#444" opacity="0.20"/>
<circle cx="836.30" cy="447.06" r="0.45" fill="#444" opacity="0.36"/>
<circle cx="837.98" cy="451.91" r="0.6" fill="#444" opacity="0.17"/>
<circle cx="849.29" cy="415.31" r="0.6" fill="#444" opacity="0.21"/>
<circle cx="837.46" cy="449.34" r="0.45" fill="#444" opacity="0.36"/>
<circle cx="840.94" cy="390.72" r="0.45" fill="#444" opacity="0.14"/>
<circle cx="846.31" cy="426.93" r="0.35" fill="#444" opacity="0.38"/>
<circle cx="850.25" cy="402.40" r="0.35" fill="#444" opacity="0.21"/>
<circle cx="845.38" cy="397.23" r="0.35" fill="#444" opacity="0.35"/>
<circle cx="849.43" cy="452.21" r="0.45" fill="#444" opacity="0.28"/>
<circle cx="838.78" cy="399.28" r="0.6" fill="#444" opacity="0.26"/>
<circle cx="837.89" cy="390.47" r="0.45" fill="#444" opacity="0.18"/>
<circle cx="848.28" cy="423.64" r="0.45" fill="#444" opacity="0.26"/>
<circle cx="847.97" cy="452.61" r="0.6" fill="#444" opacity="0.34"/>
<circle cx="837.79" cy="385.33" r="0.45" fill="#444" opacity="0.30"/>
<circle cx="842.00" cy="426.91" r="0.45" fill="#444" opacity="0.23"/>
<circle cx="849.09" cy="413.66" r="0.45" fill="#444" opacity="0.34"/>
<circle cx="848.94" cy="433.87" r="0.45" fill="#444" opacity="0.36"/>
<circle cx="841.65" cy="397.45" r="0.35" fill="#444" opacity="0.36"/>
<circle cx="842.79" cy="430.91" r="0.35" fill="#444" opacity="0.13"/>
<circle cx="847.15" cy="452.01" r="0.45" fill="#444" opacity="0.27"/>
<circle cx="842.24" cy="421.58" r="0.45" fill="#444" opacity="0.35"/>
<circle cx="841.65" cy="399.86" r="0.35" fill="#444" opacity="0.21"/>
<circle cx="848.49" cy="445.96" r="0.6" fill="#444" opacity="0.35"/>
<circle cx="850.46" cy="446.23" r="0.35" fill="#444" opacity="0.31"/>
<circle cx="845.87" cy="410.00" r="0.45" fill="#444" opacity="0.19"/>
<circle cx="847.99" cy="407.26" r="0.45" fill="#444" opacity="0.36"/>
<circle cx="850.75" cy="379.73" r="0.45" fill="#444" opacity="0.25"/>
<circle cx="848.62" cy="384.12" r="0.35" fill="#444" opacity="0.27"/>
<circle cx="839.39" cy="445.38" r="0.45" fill="#444" opacity="0.16"/>
<circle cx="837.74" cy="439.93" r="0.35" fill="#444" opacity="0.13"/>
<circle cx="844.75" cy="447.97" r="0.6" fill="#444" opacity="0.26"/>
<circle cx="841.03" cy="392.60" r="0.45" fill="#444" opacity="0.15"/>
<circle cx="837.85" cy="392.58" r="0.6" fill="#444" opacity="0.33"/>
<circle cx="844.08" cy="423.11" r="0.6" fill="#444" opacity="0.32"/>
<circle cx="846.32" cy="397.87" r="0.45" fill="#444" opacity="0.25"/>
<circle cx="850.57" cy="406.99" r="0.6" fill="#444" opacity="0.36"/>
<circle cx="841.33" cy="440.47" r="0.35" fill="#444" opacity="0.27"/>
<circle cx="842.83" cy="392.49" r="0.45" fill="#444" opacity="0.20"/>
<circle cx="839.66" cy="443.26" r="0.6" fill="#444" opacity="0.16"/>
<circle cx="851.93" cy="386.46" r="0.6" fill="#444" opacity="0.29"/>
<circle cx="839.81" cy="448.81" r="0.45" fill="#444" opacity="0.25"/>
<circle cx="841.76" cy="392.94" r="0.6" fill="#444" opacity="0.28"/>
<circle cx="841.07" cy="414.14" r="0.45" fill="#444" opacity="0.31"/>
<circle cx="836.28" cy="390.57" r="0.35" fill="#444" opacity="0.17"/>
<circle cx="849.20" cy="393.08" r="0.35" fill="#444" opacity="0.19"/>
<circle cx="846.71" cy="401.75" r="0.6" fill="#444" opacity="0.28"/>
<circle cx="840.17" cy="444.88" r="0.45" fill="#444" opacity="0.38"/>
<circle cx="850.81" cy="419.76" r="0.35" fill="#444" opacity="0.22"/>
<circle cx="840.39" cy="423.07" r="0.35" fill="#444" opacity="0.22"/>
<circle cx="849.05" cy="395.94" r="0.6" fill="#444" opacity="0.23"/>
<circle cx="841.49" cy="384.62" r="0.45" fill="#444" opacity="0.22"/>
<circle cx="844.74" cy="412.17" r="0.35" fill="#444" opacity="0.13"/>
<circle cx="836.02" cy="391.12" r="0.45" fill="#444" opacity="0.30"/>
<circle cx="836.72" cy="418.98" r="0.6" fill="#444" opacity="0.22"/>
<circle cx="847.18" cy="393.54" r="0.6" fill="#444" opacity="0.29"/>
<circle cx="851.09" cy="405.43" r="0.6" fill="#444" opacity="0.35"/>
<circle cx="844.11" cy="444.36" r="0.6" fill="#444" opacity="0.30"/>
<circle cx="840.08" cy="406.41" r="0.45" fill="#444" opacity="0.20"/>
<circle cx="840.49" cy="443.93" r="0.6" fill="#444" opacity="0.16"/>
<circle cx="850.02" cy="424.10" r="0.35" fill="#444" opacity="0.19"/>
<circle cx="839.93" cy="446.53" r="0.45" fill="#444" opacity="0.39"/>
<circle cx="838.09" cy="435.58" r="0.6" fill="#444" opacity="0.32"/>
<circle cx="841.48" cy="441.14" r="0.35" fill="#444" opacity="0.29"/>
<circle cx="841.23" cy="427.03" r="0.6" fill="#444" opacity="0.17"/>
<circle cx="848.00" cy="423.64" r="0.6" fill="#444" opacity="0.18"/>
<circle cx="842.50" cy="391.98" r="0.45" fill="#444" opacity="0.39"/>
<circle cx="844.80" cy="451.26" r="0.45" fill="#444" opacity="0.27"/>
<circle cx="843.26" cy="401.71" r="0.6" fill="#444" opacity="0.34"/>
<circle cx="851.48" cy="433.49" r="0.35" fill="#444" opacity="0.27"/>
<circle cx="835.94" cy="435.46" r="0.45" fill="#444" opacity="0.37"/>
<circle cx="836.72" cy="389.31" r="0.6" fill="#444" opacity="0.27"/>
<circle cx="847.51" cy="424.61" r="0.45" fill="#444" opacity="0.34"/>
<circle cx="845.03" cy="445.92" r="0.35" fill="#444" opacity="0.12"/>
<circle cx="851.20" cy="423.51" r="0.45" fill="#444" opacity="0.29"/>
<circle cx="838.18" cy="388.50" r="0.6" fill="#444" opacity="0.20"/>
<circle cx="846.11" cy="449.63" r="0.35" fill="#444" opacity="0.18"/>
<circle cx="845.75" cy="447.38" r="0.6" fill="#444" opacity="0.18"/>
<circle cx="849.80" cy="395.89" r="0.45" fill="#444" opacity="0.16"/>
<circle cx="848.28" cy="420.69" r="0.35" fill="#444" opacity="0.32"/>
<circle cx="840.03" cy="417.53" r="0.6" fill="#444" opacity="0.12"/>
<circle cx="844.92" cy="405.58" r="0.45" fill="#444" opacity="0.16"/>
<circle cx="850.84" cy="379.28" r="0.35" fill="#444" opacity="0.24"/>
<circle cx="846.57" cy="446.58" r="0.45" fill="#444" opacity="0.39"/>
<circle cx="837.17" cy="394.37" r="0.45" fill="#444" opacity="0.34"/>
<circle cx="840.89" cy="389.93" r="0.35" fill="#444" opacity="0.37"/>
<circle cx="842.23" cy="396.33" r="0.35" fill="#444" opacity="0.36"/>
<circle cx="843.68" cy="424.28" r="0.35" fill="#444" opacity="0.33"/>
<circle cx="850.59" cy="386.10" r="0.45" fill="#444" opacity="0.39"/>
<circle cx="844.05" cy="409.87" r="0.35" fill="#444" opacity="0.20"/>
<circle cx="845.36" cy="433.18" r="0.45" fill="#444" opacity="0.23"/>
<circle cx="850.34" cy="444.56" r="0.45" fill="#444" opacity="0.35"/>
<circle cx="843.35" cy="386.09" r="0.35" fill="#444" opacity="0.12"/>
<circle cx="848.11" cy="437.07" r="0.6" fill="#444" opacity="0.37"/>
<circle cx="845.92" cy="452.27" r="0.35" fill="#444" opacity="0.40"/>
<circle cx="838.54" cy="384.43" r="0.45" fill="#444" opacity="0.38"/>
<circle cx="850.24" cy="391.66" r="0.6" fill="#444" opacity="0.34"/>
<circle cx="846.20" cy="397.66" r="0.6" fill="#444" opacity="0.26"/>
<circle cx="846.63" cy="434.73" r="0.6" fill="#444" opacity="0.28"/>
<circle cx="846.30" cy="418.28" r="0.35" fill="#444" opacity="0.31"/>
<circle cx="851.23" cy="420.36" r="0.35" fill="#444" opacity="0.32"/>
<circle cx="842.10" cy="451.21" r="0.6" fill="#444" opacity="0.15"/>
<circle cx="851.69" cy="398.05" r="0.45" fill="#444" opacity="0.37"/>
<circle cx="842.00" cy="450.85" r="0.45" fill="#444" opacity="0.16"/>
<circle cx="851.73" cy="413.12" r="0.6" fill="#444" opacity="0.21"/>
<circle cx="844.82" cy="435.70" r="0.35" fill="#444" opacity="0.32"/>
<circle cx="846.04" cy="422.40" r="0.6" fill="#444" opacity="0.17"/>
<circle cx="844.50" cy="420.13" r="0.6" fill="#444" opacity="0.18"/>
<path d="M835.51,378.14 C835.51,384.30 835.39,402.50 835.51,415.11 C835.63,427.71 836.11,447.32 836.23,453.76" fill="none" stroke="#4c4c4c" stroke-width="1.2" opacity="0.9"/>
<path d="M852.30,378.14 C852.22,384.30 851.94,402.50 851.82,415.11 C851.70,427.71 851.62,447.32 851.58,453.76" fill="none" stroke="#4c4c4c" stroke-width="1.2" opacity="0.9"/>
<path d="M835.51,378.14 C835.51,384.30 835.39,402.50 835.51,415.11 C835.63,427.71 836.11,447.32 836.23,453.76" fill="none" stroke="#5e5e5e" stroke-width="2.6" opacity="0.5"/>
<path d="M852.30,378.14 C852.22,384.30 851.94,402.50 851.82,415.11 C851.70,427.71 851.62,447.32 851.58,453.76" fill="none" stroke="#5e5e5e" stroke-width="2.6" opacity="0.5"/>
</g>
<clipPath id="c75"><rect x="875.6" y="379.1" width="73.80" height="73.70"/></clipPath>
<rect x="875.6" y="379.1" width="73.80" height="73.70" fill="#b0b0b0"/>
<g clip-path="url(#c75)">
<path d="M902.66,378.14 C902.54,383.10 901.82,399.35 901.94,407.91 C902.06,416.47 903.06,421.86 903.38,429.50 C903.70,437.14 903.78,449.71 903.86,453.76 L917.76,453.76 C917.84,449.71 918.32,437.14 918.24,429.50 C918.16,421.86 917.37,416.47 917.29,407.91 C917.21,399.35 917.69,383.10 917.76,378.14 Z" fill="#999999"/>
<circle cx="916.18" cy="406.88" r="0.35" fill="#444" opacity="0.18"/>
<circle cx="912.76" cy="443.34" r="0.35" fill="#444" opacity="0.36"/>
<circle cx="903.99" cy="434.92" r="0.6" fill="#444" opacity="0.24"/>
<circle cx="904.78" cy="422.47" r="0.6" fill="#444" opacity="0.32"/>
<circle cx="916.96" cy="393.63" r="0.6" fill="#444" opacity="0.21"/>
<circle cx="911.50" cy="446.80" r="0.6" fill="#444" opacity="0.25"/>
<circle cx="917.22" cy="386.76" r="0.6" fill="#444" opacity="0.31"/>
<circle cx="908.31" cy="423.36" r="0.45" fill="#444" opacity="0.17"/>
<circle cx="909.36" cy="390.96" r="0.35" fill="#444" opacity="0.23"/>
<circle cx="912.15" cy="384.21" r="0.6" fill="#444" opacity="0.37"/>
<circle cx="905.17" cy="382.09" r="0.6" fill="#444" opacity="0.18"/>
<circle cx="910.66" cy="410.36" r="0.45" fill="#444" opacity="0.35"/>
<circle cx="912.82" cy="424.16" r="0.45" fill="#444" opacity="0.14"/>
<circle cx="907.67" cy="439.26" r="0.35" fill="#444" opacity="0.40"/>
<circle cx="909.03" cy="440.28" r="0.45" fill="#444" opacity="0.13"/>
<circle cx="909.81" cy="448.20" r="0.6" fill="#444" opacity="0.22"/>
<circle cx="904.49" cy="383.83" r="0.35" fill="#444" opacity="0.19"/>
<circle cx="911.98" cy="392.91" r="0.35" fill="#444" opacity="0.18"/>
<circle cx="916.82" cy="389.94" r="0.45" fill="#444" opacity="0.18"/>
<circle cx="916.52" cy="425.62" r="0.6" fill="#444" opacity="0.27"/>
<circle cx="907.54" cy="406.32" r="0.45" fill="#444" opacity="0.25"/>
<circle cx="910.03" cy="429.31" r="0.45" fill="#444" opacity="0.26"/>
<circle cx="916.02" cy="447.41" r="0.45" fill="#444" opacity="0.24"/>
<circle cx="913.83" cy="438.46" r="0.6" fill="#444" opacity="0.35"/>
<circle cx="911.84" cy="446.39" r="0.35" fill="#444" opacity="0.33"/>
<circle cx="903.87" cy="398.18" r="0.45" fill="#444" opacity="0.29"/>
<circle cx="910.44" cy="381.48" r="0.35" fill="#444" opacity="0.32"/>
<circle cx="916.23" cy="381.51" r="0.35" fill="#444" opacity="0.29"/>
<circle cx="908.69" cy="384.87" r="0.6" fill="#444" opacity="0.32"/>
<circle cx="907.95" cy="390.52" r="0.45" fill="#444" opacity="0.39"/>
<circle cx="905.10" cy="450.70" r="0.6" fill="#444" opacity="0.18"/>
<circle cx="915.72" cy="419.77" r="0.35" fill="#444" opacity="0.14"/>
<circle cx="903.28" cy="424.46" r="0.6" fill="#444" opacity="0.17"/>
<circle cx="907.38" cy="437.98" r="0.6" fill="#444" opacity="0.15"/>
<circle cx="902.85" cy="388.14" r="0.6" fill="#444" opacity="0.20"/>
<circle cx="907.68" cy="438.53" r="0.45" fill="#444" opacity="0.14"/>
<circle cx="915.42" cy="390.75" r="0.35" fill="#444" opacity="0.26"/>
<circle cx="906.97" cy="379.25" r="0.6" fill="#444" opacity="0.29"/>
<circle cx="917.29" cy="389.66" r="0.35" fill="#444" opacity="0.19"/>
<circle cx="914.70" cy="412.26" r="0.35" fill="#444" opacity="0.20"/>
<circle cx="916.05" cy="402.24" r="0.35" fill="#444" opacity="0.22"/>
<circle cx="903.30" cy="384.27" r="0.35" fill="#444" opacity="0.38"/>
<circle cx="909.27" cy="440.32" r="0.35" fill="#444" opacity="0.16"/>
<circle cx="913.25" cy="443.82" r="0.6" fill="#444" opacity="0.36"/>
<circle cx="907.47" cy="425.48" r="0.6" fill="#444" opacity="0.39"/>
<circle cx="904.36" cy="446.08" r="0.45" fill="#444" opacity="0.40"/>
<circle cx="915.58" cy="386.97" r="0.6" fill="#444" opacity="0.13"/>
<circle cx="914.65" cy="431.25" r="0.6" fill="#444" opacity="0.26"/>
<circle cx="915.24" cy="438.31" r="0.35" fill="#444" opacity="0.18"/>
<circle cx="916.96" cy="383.97" r="0.45" fill="#444" opacity="0.34"/>
<circle cx="914.31" cy="444.86" r="0.6" fill="#444" opacity="0.31"/>
<circle cx="907.57" cy="407.58" r="0.35" fill="#444" opacity="0.14"/>
<circle cx="913.52" cy="385.01" r="0.6" fill="#444" opacity="0.27"/>
<circle cx="905.31" cy="418.70" r="0.6" fill="#444" opacity="0.23"/>
<circle cx="904.41" cy="432.77" r="0.6" fill="#444" opacity="0.38"/>
<circle cx="905.01" cy="395.38" r="0.35" fill="#444" opacity="0.26"/>
<circle cx="915.64" cy="399.83" r="0.6" fill="#444" opacity="0.40"/>
<circle cx="915.72" cy="383.91" r="0.45" fill="#444" opacity="0.23"/>
<circle cx="907.37" cy="402.10" r="0.35" fill="#444" opacity="0.17"/>
<circle cx="908.22" cy="434.64" r="0.6" fill="#444" opacity="0.18"/>
<circle cx="906.41" cy="394.51" r="0.6" fill="#444" opacity="0.35"/>
<circle cx="910.03" cy="443.77" r="0.35" fill="#444" opacity="0.36"/>
<circle cx="911.86" cy="394.25" r="0.6" fill="#444" opacity="0.13"/>
<circle cx="904.31" cy="380.71" r="0.6" fill="#444" opacity="0.23"/>
<circle cx="912.62" cy="438.09" r="0.6" fill="#444" opacity="0.34"/>
<circle cx="909.66" cy="448.77" r="0.45" fill="#444" opacity="0.19"/>
<circle cx="902.55" cy="402.24" r="0.45" fill="#444" opacity="0.26"/>
<circle cx="910.75" cy="397.52" r="0.45" fill="#444" opacity="0.23"/>
<circle cx="902.77" cy="379.70" r="0.45" fill="#444" opacity="0.18"/>
<circle cx="914.10" cy="383.04" r="0.35" fill="#444" opacity="0.13"/>
<circle cx="904.45" cy="381.73" r="0.6" fill="#444" opacity="0.37"/>
<circle cx="914.62" cy="416.91" r="0.45" fill="#444" opacity="0.39"/>
<circle cx="909.95" cy="417.88" r="0.45" fill="#444" opacity="0.27"/>
<circle cx="911.91" cy="434.63" r="0.35" fill="#444" opacity="0.26"/>
<circle cx="907.43" cy="442.00" r="0.45" fill="#444" opacity="0.39"/>
<circle cx="910.21" cy="382.67" r="0.6" fill="#444" opacity="0.33"/>
<circle cx="913.90" cy="390.03" r="0.45" fill="#444" opacity="0.22"/>
<circle cx="902.68" cy="398.47" r="0.6" fill="#444" opacity="0.37"/>
<circle cx="906.44" cy="411.55" r="0.45" fill="#444" opacity="0.39"/>
<circle cx="916.23" cy="422.38" r="0.6" fill="#444" opacity="0.15"/>
<circle cx="916.73" cy="443.03" r="0.35" fill="#444" opacity="0.18"/>
<circle cx="914.71" cy="423.11" r="0.45" fill="#444" opacity="0.34"/>
<circle cx="903.14" cy="418.16" r="0.45" fill="#444" opacity="0.16"/>
<circle cx="910.84" cy="421.90" r="0.45" fill="#444" opacity="0.31"/>
<circle cx="904.88" cy="425.75" r="0.45" fill="#444" opacity="0.27"/>
<circle cx="906.16" cy="424.84" r="0.6" fill="#444" opacity="0.35"/>
<circle cx="915.92" cy="380.94" r="0.6" fill="#444" opacity="0.34"/>
<circle cx="907.89" cy="380.95" r="0.45" fill="#444" opacity="0.32"/>
<circle cx="907.42" cy="408.55" r="0.6" fill="#444" opacity="0.21"/>
<circle cx="904.13" cy="380.80" r="0.6" fill="#444" opacity="0.32"/>
<circle cx="915.56" cy="437.49" r="0.35" fill="#444" opacity="0.13"/>
<circle cx="917.45" cy="442.90" r="0.6" fill="#444" opacity="0.35"/>
<circle cx="915.84" cy="393.58" r="0.35" fill="#444" opacity="0.37"/>
<circle cx="911.31" cy="419.45" r="0.35" fill="#444" opacity="0.29"/>
<circle cx="911.02" cy="419.07" r="0.45" fill="#444" opacity="0.35"/>
<circle cx="917.33" cy="400.49" r="0.35" fill="#444" opacity="0.18"/>
<circle cx="909.49" cy="448.55" r="0.45" fill="#444" opacity="0.25"/>
<circle cx="912.11" cy="452.52" r="0.45" fill="#444" opacity="0.26"/>
<circle cx="909.49" cy="421.52" r="0.6" fill="#444" opacity="0.20"/>
<circle cx="908.02" cy="399.62" r="0.35" fill="#444" opacity="0.39"/>
<circle cx="916.54" cy="435.72" r="0.35" fill="#444" opacity="0.35"/>
<circle cx="911.88" cy="382.73" r="0.6" fill="#444" opacity="0.23"/>
<circle cx="907.44" cy="394.32" r="0.35" fill="#444" opacity="0.32"/>
<circle cx="904.11" cy="385.91" r="0.35" fill="#444" opacity="0.34"/>
<circle cx="913.04" cy="424.61" r="0.35" fill="#444" opacity="0.26"/>
<circle cx="910.56" cy="448.29" r="0.6" fill="#444" opacity="0.22"/>
<circle cx="914.85" cy="427.33" r="0.35" fill="#444" opacity="0.35"/>
<circle cx="904.09" cy="404.36" r="0.35" fill="#444" opacity="0.39"/>
<circle cx="908.77" cy="396.36" r="0.35" fill="#444" opacity="0.18"/>
<circle cx="913.94" cy="427.67" r="0.35" fill="#444" opacity="0.19"/>
<path d="M902.66,378.14 C902.54,383.10 901.82,399.35 901.94,407.91 C902.06,416.47 903.06,421.86 903.38,429.50 C903.70,437.14 903.78,449.71 903.86,453.76" fill="none" stroke="#4c4c4c" stroke-width="1.2" opacity="0.9"/>
<path d="M917.76,378.14 C917.69,383.10 917.21,399.35 917.29,407.91 C917.37,416.47 918.16,421.86 918.24,429.50 C918.32,437.14 917.84,449.71 917.76,453.76" fill="none" stroke="#4c4c4c" stroke-width="1.2" opacity="0.9"/>
<path d="M902.66,378.14 C902.54,383.10 901.82,399.35 901.94,407.91 C902.06,416.47 903.06,421.86 903.38,429.50 C903.70,437.14 903.78,449.71 903.86,453.76" fill="none" stroke="#5e5e5e" stroke-width="2.6" opacity="0.5"/>
<path d="M917.76,378.14 C917.69,383.10 917.21,399.35 917.29,407.91 C917.37,416.47 918.16,421.86 918.24,429.50 C918.32,437.14 917.84,449.71 917.76,453.76" fill="none" stroke="#5e5e5e" stroke-width="2.6" opacity="0.5"/>
</g>
<line x1="727.6" y1="379.1" x2="949.4" y2="379.1" stroke="#c4c4c4" stroke-width="0.6"/>
<line x1="801.5" y1="305.3" x2="801.5" y2="452.8" stroke="#c4c4c4" stroke-width="0.4"/>
<line x1="875.6" y1="305.3" x2="875.6" y2="452.8" stroke="#c4c4c4" stroke-width="0.4"/>
<circle cx="732.39" cy="311.51" r="3.6" fill="none" stroke="#e8262b" stroke-width="0.6"/>
<text x="732.39" y="313.71" font-size="6.2" text-anchor="middle" fill="#e8262b" font-family="Liberation Sans, sans-serif">1</text>
<circle cx="809.85" cy="311.51" r="3.6" fill="none" stroke="#e8262b" stroke-width="0.6"/>
<text x="809.85" y="313.71" font-size="6.2" text-anchor="middle" fill="#e8262b" font-family="Liberation Sans, sans-serif">2</text>
<circle cx="881.07" cy="311.51" r="3.6" fill="none" stroke="#e8262b" stroke-width="0.6"/>
<text x="881.07" y="313.71" font-size="6.2" text-anchor="middle" fill="#e8262b" font-family="Liberation Sans, sans-serif">3</text>
<circle cx="733.59" cy="386.81" r="3.6" fill="none" stroke="#e8262b" stroke-width="0.6"/>
<text x="733.59" y="389.01" font-size="6.2" text-anchor="middle" fill="#e8262b" font-family="Liberation Sans, sans-serif">4</text>
<circle cx="806.25" cy="386.81" r="3.6" fill="none" stroke="#e8262b" stroke-width="0.6"/>
<text x="806.25" y="389.01" font-size="6.2" text-anchor="middle" fill="#e8262b" font-family="Liberation Sans, sans-serif">5</text>
<circle cx="881.07" cy="386.81" r="3.6" fill="none" stroke="#e8262b" stroke-width="0.6"/>
<text x="881.07" y="389.01" font-size="6.2" text-anchor="middle" fill="#e8262b" font-family="Liberation Sans, sans-serif">6</text>
<text x="738.39" y="368.03" font-size="3.5" font-weight="bold" text-anchor="middle" fill="#1a1a1a" font-family="Liberation Sans, sans-serif">200 um</text>
<rect x="735.09" y="369.23" width="6.6" height="0.6" fill="#1a1a1a"/>
<text x="811.77" y="368.03" font-size="3.5" font-weight="bold" text-anchor="middle" fill="#1a1a1a" font-family="Liberation Sans, sans-serif">200 um</text>
<rect x="808.47" y="369.23" width="6.6" height="0.6" fill="#1a1a1a"/>
<text x="886.11" y="368.03" font-size="3.5" font-weight="bold" text-anchor="middle" fill="#1a1a1a" font-family="Liberation Sans, sans-serif">200 um</text>
<rect x="882.81" y="369.23" width="6.6" height="0.6" fill="#1a1a1a"/>
<text x="738.39" y="442.85" font-size="3.5" font-weight="bold" text-anchor="middle" fill="#1a1a1a" font-family="Liberation Sans, sans-serif">200 um</text>
<rect x="735.09" y="444.05" width="6.6" height="0.6" fill="#1a1a1a"/>
<text x="813.21" y="440.45" font-size="3.5" font-weight="bold" text-anchor="middle" fill="#1a1a1a" font-family="Liberation Sans, sans-serif">200 um</text>
<rect x="809.91" y="441.65" width="6.6" height="0.6" fill="#1a1a1a"/>
<text x="888.03" y="437.57" font-size="3.5" font-weight="bold" text-anchor="middle" fill="#1a1a1a" font-family="Liberation Sans, sans-serif">200 um</text>
<rect x="884.73" y="438.77" width="6.6" height="0.6" fill="#1a1a1a"/>
<circle cx="744.62" cy="342.69" r="1.68" fill="none" stroke="#8a8a8a" stroke-width="0.45" opacity="0.7"/>
<circle cx="795.94" cy="371.94" r="3.84" fill="none" stroke="#8a8a8a" stroke-width="0.45" opacity="0.7"/>
<circle cx="882.75" cy="353.24" r="2.40" fill="none" stroke="#8a8a8a" stroke-width="0.45" opacity="0.7"/>
<circle cx="937.43" cy="385.13" r="2.40" fill="none" stroke="#8a8a8a" stroke-width="0.45" opacity="0.7"/>
<circle cx="786.83" cy="411.51" r="2.88" fill="none" stroke="#8a8a8a" stroke-width="0.45" opacity="0.7"/>
<circle cx="894.26" cy="424.70" r="2.16" fill="none" stroke="#8a8a8a" stroke-width="0.45" opacity="0.7"/>
<circle cx="889.47" cy="377.94" r="1.92" fill="none" stroke="#8a8a8a" stroke-width="0.45" opacity="0.7"/>
<defs><filter id="gl" x="-20%" y="-20%" width="140%" height="140%"><feGaussianBlur stdDeviation="0.9"/></filter><filter id="gl2" x="-20%" y="-20%" width="140%" height="140%"><feGaussianBlur stdDeviation="1.6"/></filter></defs>
<rect x="740.6" y="643.4" width="131" height="42.7" fill="#0a0e2c"/>
<clipPath id="c8"><rect x="740.6" y="643.4" width="131" height="42.7"/></clipPath>
<g clip-path="url(#c8)"><g filter="url(#b2)">
<path d="M748.10,675.71 L751.02,649.64 L770.41,665.28 L791.27,649.02 L790.64,678.21" fill="none" stroke="#2a8fd6" stroke-width="5" stroke-linecap="round" stroke-linejoin="round" opacity="0.45" filter="url(#gl)"/>
<path d="M816.29,649.64 L816.29,676.75" fill="none" stroke="#2a8fd6" stroke-width="5" stroke-linecap="round" stroke-linejoin="round" opacity="0.45" filter="url(#gl)"/>
<path d="M805.86,649.02 L828.81,649.02" fill="none" stroke="#2a8fd6" stroke-width="5" stroke-linecap="round" stroke-linejoin="round" opacity="0.45" filter="url(#gl)"/>
<path d="M805.86,677.17 L829.85,677.17" fill="none" stroke="#2a8fd6" stroke-width="5" stroke-linecap="round" stroke-linejoin="round" opacity="0.45" filter="url(#gl)"/>
<path d="M855.29,649.64 L856.96,678.84" fill="none" stroke="#2a8fd6" stroke-width="5" stroke-linecap="round" stroke-linejoin="round" opacity="0.45" filter="url(#gl)"/>
<path d="M842.36,649.02 L866.34,649.02" fill="none" stroke="#2a8fd6" stroke-width="5" stroke-linecap="round" stroke-linejoin="round" opacity="0.45" filter="url(#gl)"/>
<path d="M748.10,675.71 L751.02,649.64 L770.41,665.28 L791.27,649.02 L790.64,678.21" fill="none" stroke="#6fd2f5" stroke-width="3.0" stroke-linecap="round" stroke-linejoin="round"/>
<path d="M748.10,675.71 L751.02,649.64 L770.41,665.28 L791.27,649.02 L790.64,678.21" fill="none" stroke="#123a73" stroke-width="1.3" stroke-linecap="round" stroke-linejoin="round"/>
<path d="M816.29,649.64 L816.29,676.75" fill="none" stroke="#6fd2f5" stroke-width="3.0" stroke-linecap="round" stroke-linejoin="round"/>
<path d="M816.29,649.64 L816.29,676.75" fill="none" stroke="#123a73" stroke-width="1.3" stroke-linecap="round" stroke-linejoin="round"/>
<path d="M805.86,649.02 L828.81,649.02" fill="none" stroke="#6fd2f5" stroke-width="3.0" stroke-linecap="round" stroke-linejoin="round"/>
<path d="M805.86,649.02 L828.81,649.02" fill="none" stroke="#123a73" stroke-width="1.3" stroke-linecap="round" stroke-linejoin="round"/>
<path d="M805.86,677.17 L829.85,677.17" fill="none" stroke="#6fd2f5" stroke-width="3.0" stroke-linecap="round" stroke-linejoin="round"/>
<path d="M805.86,677.17 L829.85,677.17" fill="none" stroke="#123a73" stroke-width="1.3" stroke-linecap="round" stroke-linejoin="round"/>
<path d="M855.29,649.64 L856.96,678.84" fill="none" stroke="#6fd2f5" stroke-width="3.0" stroke-linecap="round" stroke-linejoin="round"/>
<path d="M855.29,649.64 L856.96,678.84" fill="none" stroke="#123a73" stroke-width="1.3" stroke-linecap="round" stroke-linejoin="round"/>
<path d="M842.36,649.02 L866.34,649.02" fill="none" stroke="#6fd2f5" stroke-width="3.0" stroke-linecap="round" stroke-linejoin="round"/>
<path d="M842.36,649.02 L866.34,649.02" fill="none" stroke="#123a73" stroke-width="1.3" stroke-linecap="round" stroke-linejoin="round"/>
<circle cx="822.20" cy="675.07" r="0.3" fill="#4f8fe0" opacity="0.43"/>
<circle cx="864.06" cy="674.99" r="0.3" fill="#4f8fe0" opacity="0.47"/>
<circle cx="744.40" cy="663.28" r="0.3" fill="#4f8fe0" opacity="0.48"/>
<circle cx="825.62" cy="681.87" r="0.3" fill="#4f8fe0" opacity="0.19"/>
<circle cx="802.05" cy="653.93" r="0.3" fill="#4f8fe0" opacity="0.34"/>
<circle cx="815.79" cy="643.96" r="0.3" fill="#4f8fe0" opacity="0.23"/>
<circle cx="777.21" cy="682.53" r="0.3" fill="#4f8fe0" opacity="0.42"/>
<circle cx="761.51" cy="677.44" r="0.3" fill="#4f8fe0" opacity="0.20"/>
<circle cx="821.49" cy="648.81" r="0.3" fill="#4f8fe0" opacity="0.15"/>
<circle cx="854.75" cy="652.34" r="0.3" fill="#4f8fe0" opacity="0.23"/>
<circle cx="869.30" cy="680.65" r="0.3" fill="#4f8fe0" opacity="0.25"/>
<circle cx="866.55" cy="666.42" r="0.3" fill="#4f8fe0" opacity="0.39"/>
<circle cx="767.43" cy="683.58" r="0.3" fill="#4f8fe0" opacity="0.39"/>
<circle cx="867.22" cy="681.56" r="0.3" fill="#4f8fe0" opacity="0.25"/>
<circle cx="787.92" cy="650.49" r="0.3" fill="#4f8fe0" opacity="0.20"/>
<circle cx="749.13" cy="656.27" r="0.3" fill="#4f8fe0" opacity="0.36"/>
<circle cx="741.04" cy="672.35" r="0.3" fill="#4f8fe0" opacity="0.27"/>
<circle cx="781.20" cy="678.35" r="0.3" fill="#4f8fe0" opacity="0.32"/>
<circle cx="781.97" cy="663.95" r="0.3" fill="#4f8fe0" opacity="0.40"/>
<circle cx="748.07" cy="685.04" r="0.3" fill="#4f8fe0" opacity="0.16"/>
<circle cx="838.82" cy="679.48" r="0.3" fill="#4f8fe0" opacity="0.16"/>
<circle cx="843.79" cy="659.04" r="0.3" fill="#4f8fe0" opacity="0.35"/>
<circle cx="741.79" cy="645.40" r="0.3" fill="#4f8fe0" opacity="0.21"/>
<circle cx="865.73" cy="651.79" r="0.3" fill="#4f8fe0" opacity="0.41"/>
<circle cx="862.38" cy="683.63" r="0.3" fill="#4f8fe0" opacity="0.27"/>
<circle cx="787.08" cy="665.80" r="0.3" fill="#4f8fe0" opacity="0.42"/>
<circle cx="754.75" cy="675.36" r="0.3" fill="#4f8fe0" opacity="0.43"/>
<circle cx="853.22" cy="644.96" r="0.3" fill="#4f8fe0" opacity="0.48"/>
<circle cx="752.54" cy="657.95" r="0.3" fill="#4f8fe0" opacity="0.36"/>
<circle cx="860.87" cy="657.92" r="0.3" fill="#4f8fe0" opacity="0.47"/>
<circle cx="812.01" cy="656.74" r="0.3" fill="#4f8fe0" opacity="0.26"/>
<circle cx="763.85" cy="646.74" r="0.3" fill="#4f8fe0" opacity="0.20"/>
<circle cx="830.88" cy="685.96" r="0.3" fill="#4f8fe0" opacity="0.21"/>
<circle cx="746.96" cy="685.53" r="0.3" fill="#4f8fe0" opacity="0.34"/>
<circle cx="793.77" cy="653.53" r="0.3" fill="#4f8fe0" opacity="0.36"/>
<circle cx="848.84" cy="662.86" r="0.3" fill="#4f8fe0" opacity="0.30"/>
<circle cx="747.90" cy="682.52" r="0.3" fill="#4f8fe0" opacity="0.16"/>
<circle cx="805.26" cy="679.20" r="0.3" fill="#4f8fe0" opacity="0.20"/>
<circle cx="836.45" cy="683.96" r="0.3" fill="#4f8fe0" opacity="0.37"/>
<circle cx="843.83" cy="647.95" r="0.3" fill="#4f8fe0" opacity="0.30"/>
<circle cx="760.15" cy="679.47" r="0.3" fill="#4f8fe0" opacity="0.25"/>
<circle cx="799.96" cy="686.07" r="0.3" fill="#4f8fe0" opacity="0.45"/>
<circle cx="868.46" cy="662.77" r="0.3" fill="#4f8fe0" opacity="0.32"/>
<circle cx="836.17" cy="663.86" r="0.3" fill="#4f8fe0" opacity="0.25"/>
<circle cx="793.50" cy="649.66" r="0.3" fill="#4f8fe0" opacity="0.28"/>
<circle cx="870.08" cy="684.38" r="0.3" fill="#4f8fe0" opacity="0.37"/>
<circle cx="806.01" cy="657.85" r="0.3" fill="#4f8fe0" opacity="0.18"/>
<circle cx="776.27" cy="676.79" r="0.3" fill="#4f8fe0" opacity="0.45"/>
<circle cx="787.93" cy="676.96" r="0.3" fill="#4f8fe0" opacity="0.42"/>
<circle cx="831.59" cy="671.75" r="0.3" fill="#4f8fe0" opacity="0.42"/>
<circle cx="788.21" cy="673.48" r="0.3" fill="#4f8fe0" opacity="0.25"/>
<circle cx="804.22" cy="676.27" r="0.3" fill="#4f8fe0" opacity="0.39"/>
<circle cx="779.09" cy="683.77" r="0.3" fill="#4f8fe0" opacity="0.38"/>
<circle cx="816.67" cy="643.89" r="0.3" fill="#4f8fe0" opacity="0.34"/>
<circle cx="773.44" cy="672.08" r="0.3" fill="#4f8fe0" opacity="0.31"/>
<circle cx="847.59" cy="671.05" r="0.3" fill="#4f8fe0" opacity="0.43"/>
<circle cx="786.17" cy="670.90" r="0.3" fill="#4f8fe0" opacity="0.41"/>
<circle cx="849.09" cy="658.35" r="0.3" fill="#4f8fe0" opacity="0.45"/>
<circle cx="854.56" cy="672.79" r="0.3" fill="#4f8fe0" opacity="0.49"/>
<circle cx="865.90" cy="665.52" r="0.3" fill="#4f8fe0" opacity="0.34"/>
<circle cx="762.37" cy="679.12" r="0.3" fill="#4f8fe0" opacity="0.48"/>
<circle cx="803.12" cy="672.92" r="0.3" fill="#4f8fe0" opacity="0.40"/>
<circle cx="836.28" cy="650.74" r="0.3" fill="#4f8fe0" opacity="0.42"/>
<circle cx="816.69" cy="671.82" r="0.3" fill="#4f8fe0" opacity="0.30"/>
<circle cx="822.31" cy="676.48" r="0.3" fill="#4f8fe0" opacity="0.37"/>
<circle cx="834.97" cy="644.58" r="0.3" fill="#4f8fe0" opacity="0.21"/>
<circle cx="798.38" cy="671.16" r="0.3" fill="#4f8fe0" opacity="0.23"/>
<circle cx="830.46" cy="670.34" r="0.3" fill="#4f8fe0" opacity="0.16"/>
<circle cx="802.38" cy="653.06" r="0.3" fill="#4f8fe0" opacity="0.17"/>
<circle cx="758.09" cy="656.95" r="0.3" fill="#4f8fe0" opacity="0.21"/>
<circle cx="765.93" cy="644.92" r="0.3" fill="#4f8fe0" opacity="0.31"/>
<circle cx="790.42" cy="669.52" r="0.3" fill="#4f8fe0" opacity="0.36"/>
<circle cx="771.76" cy="681.97" r="0.3" fill="#4f8fe0" opacity="0.15"/>
<circle cx="793.70" cy="655.29" r="0.3" fill="#4f8fe0" opacity="0.29"/>
<circle cx="755.67" cy="678.90" r="0.3" fill="#4f8fe0" opacity="0.28"/>
<circle cx="745.32" cy="669.60" r="0.3" fill="#4f8fe0" opacity="0.18"/>
<circle cx="812.02" cy="657.89" r="0.3" fill="#4f8fe0" opacity="0.35"/>
<circle cx="866.14" cy="678.35" r="0.3" fill="#4f8fe0" opacity="0.30"/>
<circle cx="847.10" cy="670.83" r="0.3" fill="#4f8fe0" opacity="0.28"/>
<circle cx="759.22" cy="668.85" r="0.3" fill="#4f8fe0" opacity="0.35"/>
<circle cx="865.99" cy="684.73" r="0.3" fill="#4f8fe0" opacity="0.36"/>
<circle cx="786.60" cy="681.55" r="0.3" fill="#4f8fe0" opacity="0.15"/>
<circle cx="754.74" cy="667.56" r="0.3" fill="#4f8fe0" opacity="0.37"/>
<circle cx="759.03" cy="670.28" r="0.3" fill="#4f8fe0" opacity="0.46"/>
<circle cx="789.84" cy="661.83" r="0.3" fill="#4f8fe0" opacity="0.23"/>
<circle cx="778.79" cy="684.92" r="0.3" fill="#4f8fe0" opacity="0.28"/>
<circle cx="866.51" cy="682.42" r="0.3" fill="#4f8fe0" opacity="0.36"/>
<circle cx="774.64" cy="685.29" r="0.3" fill="#4f8fe0" opacity="0.32"/>
<circle cx="795.03" cy="657.03" r="0.3" fill="#4f8fe0" opacity="0.49"/>
<circle cx="805.02" cy="655.63" r="0.3" fill="#4f8fe0" opacity="0.32"/>
</g></g>
<text x="742.4" y="650.6" font-size="4.6" fill="#9aa" font-family="Liberation Sans, sans-serif">G</text>
<rect x="848.62" y="682.18" width="5" height="0.7" fill="#e8f0ff"/>
<text x="854.92" y="684.18" font-size="5.6" fill="#e8f0ff" font-family="Liberation Sans, sans-serif">3 mm</text>
<rect x="876.1" y="639.2" width="51.8" height="46.9" fill="#0b0c30"/>
<clipPath id="c8d"><rect x="876.1" y="639.2" width="51.8" height="46.9"/></clipPath>
<g clip-path="url(#c8d)"><g filter="url(#b3)">
<rect x="879.5" y="641.6" width="44.5" height="42.5" rx="7" fill="#4338c9" filter="url(#gl2)"/>
<rect x="880.6" y="642.8" width="42" height="40" rx="6.5" fill="#5446e0"/>
<line x1="882.20" y1="645.4" x2="882.20" y2="681" stroke="#8f86ff" stroke-width="1.0" opacity="0.75"/>
<line x1="883.55" y1="646" x2="883.55" y2="680.5" stroke="#3a2fc0" stroke-width="0.6" opacity="0.6"/>
<line x1="884.95" y1="645.4" x2="884.95" y2="681" stroke="#8f86ff" stroke-width="1.0" opacity="0.75"/>
<line x1="886.30" y1="646" x2="886.30" y2="680.5" stroke="#3a2fc0" stroke-width="0.6" opacity="0.6"/>
<line x1="887.70" y1="645.4" x2="887.70" y2="681" stroke="#8f86ff" stroke-width="1.0" opacity="0.75"/>
<line x1="889.05" y1="646" x2="889.05" y2="680.5" stroke="#3a2fc0" stroke-width="0.6" opacity="0.6"/>
<line x1="890.45" y1="645.4" x2="890.45" y2="681" stroke="#8f86ff" stroke-width="1.0" opacity="0.75"/>
<line x1="891.80" y1="646" x2="891.80" y2="680.5" stroke="#3a2fc0" stroke-width="0.6" opacity="0.6"/>
<line x1="893.20" y1="645.4" x2="893.20" y2="681" stroke="#8f86ff" stroke-width="1.0" opacity="0.75"/>
<line x1="894.55" y1="646" x2="894.55" y2="680.5" stroke="#3a2fc0" stroke-width="0.6" opacity="0.6"/>
<line x1="895.95" y1="645.4" x2="895.95" y2="681" stroke="#8f86ff" stroke-width="1.0" opacity="0.75"/>
<line x1="897.30" y1="646" x2="897.30" y2="680.5" stroke="#3a2fc0" stroke-width="0.6" opacity="0.6"/>
<line x1="898.70" y1="645.4" x2="898.70" y2="681" stroke="#8f86ff" stroke-width="1.0" opacity="0.75"/>
<line x1="900.05" y1="646" x2="900.05" y2="680.5" stroke="#3a2fc0" stroke-width="0.6" opacity="0.6"/>
<line x1="901.45" y1="645.4" x2="901.45" y2="681" stroke="#8f86ff" stroke-width="1.0" opacity="0.75"/>
<line x1="902.80" y1="646" x2="902.80" y2="680.5" stroke="#3a2fc0" stroke-width="0.6" opacity="0.6"/>
<line x1="904.20" y1="645.4" x2="904.20" y2="681" stroke="#8f86ff" stroke-width="1.0" opacity="0.75"/>
<line x1="905.55" y1="646" x2="905.55" y2="680.5" stroke="#3a2fc0" stroke-width="0.6" opacity="0.6"/>
<line x1="906.95" y1="645.4" x2="906.95" y2="681" stroke="#8f86ff" stroke-width="1.0" opacity="0.75"/>
<line x1="908.30" y1="646" x2="908.30" y2="680.5" stroke="#3a2fc0" stroke-width="0.6" opacity="0.6"/>
<line x1="909.70" y1="645.4" x2="909.70" y2="681" stroke="#8f86ff" stroke-width="1.0" opacity="0.75"/>
<line x1="911.05" y1="646" x2="911.05" y2="680.5" stroke="#3a2fc0" stroke-width="0.6" opacity="0.6"/>
<line x1="912.45" y1="645.4" x2="912.45" y2="681" stroke="#8f86ff" stroke-width="1.0" opacity="0.75"/>
<line x1="913.80" y1="646" x2="913.80" y2="680.5" stroke="#3a2fc0" stroke-width="0.6" opacity="0.6"/>
<line x1="915.20" y1="645.4" x2="915.20" y2="681" stroke="#8f86ff" stroke-width="1.0" opacity="0.75"/>
<line x1="916.55" y1="646" x2="916.55" y2="680.5" stroke="#3a2fc0" stroke-width="0.6" opacity="0.6"/>
<line x1="917.95" y1="645.4" x2="917.95" y2="681" stroke="#8f86ff" stroke-width="1.0" opacity="0.75"/>
<line x1="919.30" y1="646" x2="919.30" y2="680.5" stroke="#3a2fc0" stroke-width="0.6" opacity="0.6"/>
<line x1="920.70" y1="645.4" x2="920.70" y2="681" stroke="#8f86ff" stroke-width="1.0" opacity="0.75"/>
<line x1="922.05" y1="646" x2="922.05" y2="680.5" stroke="#3a2fc0" stroke-width="0.6" opacity="0.6"/>
<path d="M881.5,680 q2,3.4 8,3.2 l28,0 q5,-0.6 5.4,-5" fill="none" stroke="#b6b4ff" stroke-width="1.1" opacity="0.7"/>
</g></g>
<text x="878.6" y="648.8" font-size="7.6" fill="#e4e6ff" font-family="Liberation Sans, sans-serif">D</text>
</svg>
</body></html>
